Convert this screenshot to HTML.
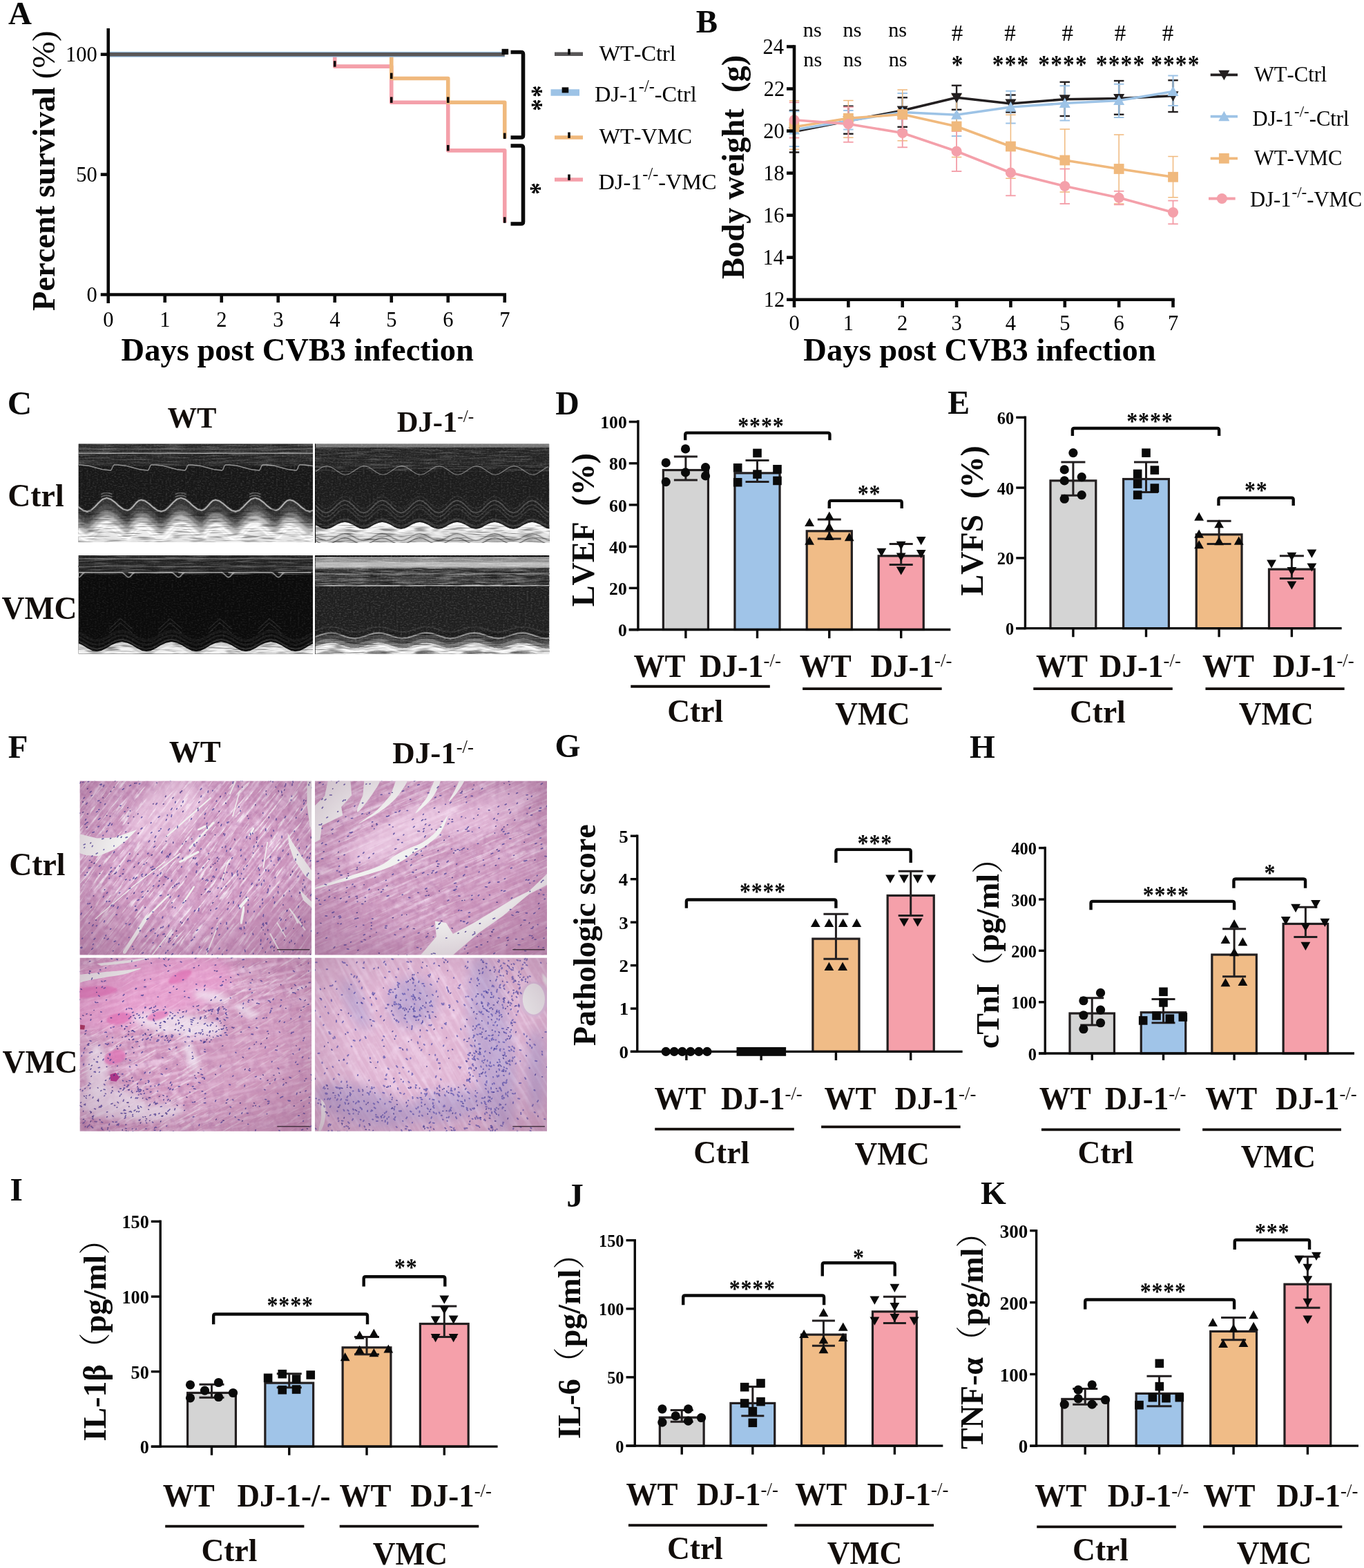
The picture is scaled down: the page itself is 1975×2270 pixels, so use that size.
<!DOCTYPE html>
<html lang="en"><head><meta charset="utf-8"><title>Figure</title>
<style>html,body{margin:0;padding:0;background:#fff}body{width:1975px;height:2270px;overflow:hidden}svg{display:block}</style></head>
<body>
<svg width="1975" height="2270" viewBox="0 0 1975 2270" font-family="'Liberation Serif', 'Noto Serif CJK SC', serif" style="font-kerning:none">
<rect width="1975" height="2270" fill="#fff"/>
<defs>
<filter id="spk" x="0" y="0" width="100%" height="100%" color-interpolation-filters="sRGB">
 <feTurbulence type="fractalNoise" baseFrequency="0.35 0.5" numOctaves="2" seed="3" result="n"/>
 <feColorMatrix in="n" type="matrix" values="0 0 0 0 1  0 0 0 0 1  0 0 0 0 1  1.6 1.6 0 0 -1.45"/>
</filter>
<filter id="strk" x="0" y="0" width="100%" height="100%" color-interpolation-filters="sRGB">
 <feTurbulence type="fractalNoise" baseFrequency="0.03 0.45" numOctaves="2" seed="11" result="n"/>
 <feColorMatrix in="n" type="matrix" values="0 0 0 0 1  0 0 0 0 1  0 0 0 0 1  2.4 2.4 0 0 -2.2"/>
</filter>
<filter id="dstrk" x="0" y="0" width="100%" height="100%" color-interpolation-filters="sRGB">
 <feTurbulence type="fractalNoise" baseFrequency="0.04 0.5" numOctaves="2" seed="5" result="n"/>
 <feColorMatrix in="n" type="matrix" values="0 0 0 0 0  0 0 0 0 0  0 0 0 0 0  2.6 2.6 0 0 -2.5"/>
</filter>
<radialGradient id="vig" cx="0.5" cy="0.45" r="0.75"><stop offset="0.45" stop-color="#7a4a70" stop-opacity="0"/><stop offset="1" stop-color="#7a4a70" stop-opacity="0.38"/></radialGradient>
<filter id="b1" x="-5%" y="-5%" width="110%" height="110%"><feGaussianBlur stdDeviation="0.5"/></filter>
<filter id="b2" x="-5%" y="-5%" width="110%" height="110%"><feGaussianBlur stdDeviation="1.2"/></filter>
<filter id="b3" x="-5%" y="-5%" width="110%" height="110%"><feGaussianBlur stdDeviation="2.5"/></filter>
<filter id="b6" x="-10%" y="-10%" width="120%" height="120%"><feGaussianBlur stdDeviation="6"/></filter>
<filter id="b20" x="-20%" y="-20%" width="140%" height="140%"><feGaussianBlur stdDeviation="20"/></filter>
<filter id="b40" x="-30%" y="-30%" width="160%" height="160%"><feGaussianBlur stdDeviation="40"/></filter>
<filter id="gapn" x="0" y="0" width="100%" height="100%" color-interpolation-filters="sRGB">
 <feTurbulence type="fractalNoise" baseFrequency="0.03 0.35" numOctaves="3" seed="31" result="n"/>
 <feColorMatrix in="n" type="matrix" values="0 0 0 0 0.97  0 0 0 0 0.95  0 0 0 0 0.97  5 5 0 0 -5.45"/>
</filter>
<filter id="tis" x="0" y="0" width="100%" height="100%" color-interpolation-filters="sRGB">
 <feTurbulence type="fractalNoise" baseFrequency="0.09 0.09" numOctaves="3" seed="7" result="n"/>
 <feColorMatrix in="n" type="matrix" values="0 0 0 0 1  0 0 0 0 0.93  0 0 0 0 1  1.9 1.9 0 0 -1.75"/>
</filter>
<filter id="tisd" x="0" y="0" width="100%" height="100%" color-interpolation-filters="sRGB">
 <feTurbulence type="fractalNoise" baseFrequency="0.12 0.12" numOctaves="3" seed="23" result="n"/>
 <feColorMatrix in="n" type="matrix" values="0 0 0 0 0.62  0 0 0 0 0.36  0 0 0 0 0.60  2.0 2.0 0 0 -1.9"/>
</filter>
<filter id="fib" x="0" y="0" width="100%" height="100%" color-interpolation-filters="sRGB">
 <feTurbulence type="fractalNoise" baseFrequency="0.012 0.2" numOctaves="2" seed="17" result="n"/>
 <feColorMatrix in="n" type="matrix" values="0 0 0 0 1  0 0 0 0 0.93  0 0 0 0 1  2.6 2.6 0 0 -2.35"/>
</filter>
</defs>
<text x="12.04" y="35.00" font-size="47.00" font-weight="bold" fill="#0a0a0a">A</text>
<path d="M156.75 78.75 L484.75 78.75 L484.75 96.14 L566.75 96.14 L566.75 148.30 L648.75 148.30 L648.75 217.85 L730.75 217.85 L730.75 322.18" fill="none" stroke="#f4a0aa" stroke-width="5.60" stroke-linejoin="round"/>
<path d="M156.75 78.75 L566.75 78.75 L566.75 113.52 L648.75 113.52 L648.75 148.30 L730.75 148.30 L730.75 200.46" fill="none" stroke="#f0b97d" stroke-width="5.60" stroke-linejoin="round"/>
<line x1="156.75" y1="78.75" x2="730.75" y2="78.75" stroke="#9dc3e6" stroke-width="8.20"/>
<line x1="156.75" y1="78.75" x2="730.75" y2="78.75" stroke="#595758" stroke-width="5.40"/>
<rect x="482.95" y="88.24" width="3.60" height="8.50" fill="#0a0a0a"/>
<rect x="564.95" y="105.62" width="3.60" height="8.50" fill="#0a0a0a"/>
<rect x="564.95" y="140.40" width="3.60" height="8.50" fill="#0a0a0a"/>
<rect x="646.95" y="140.40" width="3.60" height="8.50" fill="#0a0a0a"/>
<rect x="646.95" y="209.95" width="3.60" height="8.50" fill="#0a0a0a"/>
<rect x="728.95" y="192.56" width="3.60" height="8.50" fill="#0a0a0a"/>
<rect x="728.95" y="314.28" width="3.60" height="8.50" fill="#0a0a0a"/>
<rect x="726.55" y="70.80" width="9.60" height="8.20" fill="#0a0a0a"/>
<line x1="156.75" y1="41.00" x2="156.75" y2="439.00" stroke="#0a0a0a" stroke-width="4.60"/>
<line x1="145.75" y1="426.50" x2="733.05" y2="426.50" stroke="#0a0a0a" stroke-width="4.60"/>
<line x1="145.75" y1="252.62" x2="156.75" y2="252.62" stroke="#0a0a0a" stroke-width="4.60"/>
<line x1="145.75" y1="78.75" x2="156.75" y2="78.75" stroke="#0a0a0a" stroke-width="4.60"/>
<line x1="238.75" y1="426.50" x2="238.75" y2="438.00" stroke="#0a0a0a" stroke-width="4.60"/>
<line x1="320.75" y1="426.50" x2="320.75" y2="438.00" stroke="#0a0a0a" stroke-width="4.60"/>
<line x1="402.75" y1="426.50" x2="402.75" y2="438.00" stroke="#0a0a0a" stroke-width="4.60"/>
<line x1="484.75" y1="426.50" x2="484.75" y2="438.00" stroke="#0a0a0a" stroke-width="4.60"/>
<line x1="566.75" y1="426.50" x2="566.75" y2="438.00" stroke="#0a0a0a" stroke-width="4.60"/>
<line x1="648.75" y1="426.50" x2="648.75" y2="438.00" stroke="#0a0a0a" stroke-width="4.60"/>
<line x1="730.75" y1="426.50" x2="730.75" y2="438.00" stroke="#0a0a0a" stroke-width="4.60"/>
<text x="125.41" y="437.10" font-size="30.50" fill="#000">0</text>
<text x="110.16" y="263.23" font-size="30.50" fill="#000">50</text>
<text x="94.91" y="89.35" font-size="30.50" fill="#000">100</text>
<text x="156.75" y="473.00" font-size="30.50" text-anchor="middle" fill="#000">0</text>
<text x="238.75" y="473.00" font-size="30.50" text-anchor="middle" fill="#000">1</text>
<text x="320.75" y="473.00" font-size="30.50" text-anchor="middle" fill="#000">2</text>
<text x="402.75" y="473.00" font-size="30.50" text-anchor="middle" fill="#000">3</text>
<text x="484.75" y="473.00" font-size="30.50" text-anchor="middle" fill="#000">4</text>
<text x="566.75" y="473.00" font-size="30.50" text-anchor="middle" fill="#000">5</text>
<text x="648.75" y="473.00" font-size="30.50" text-anchor="middle" fill="#000">6</text>
<text x="730.75" y="473.00" font-size="30.50" text-anchor="middle" fill="#000">7</text>
<text x="175.58" y="522.30" font-size="46.50" font-weight="bold" fill="#000">Days post CVB3 infection</text>
<text transform="translate(79 450) rotate(-90)" font-size="46.5" font-weight="bold" fill="#0a0a0a">Percent survival <tspan font-weight="normal">(%)</tspan></text>
<path d="M739.50 75.50 H754.50 Q757.50 75.50 757.50 78.50 V196.00 Q757.50 199.00 754.50 199.00 H739.50" fill="none" stroke="#0a0a0a" stroke-width="5.60" />
<path d="M739.50 211.00 H754.50 Q757.50 211.00 757.50 214.00 V321.00 Q757.50 324.00 754.50 324.00 H739.50" fill="none" stroke="#0a0a0a" stroke-width="5.60" />
<text transform="translate(777.00 132.30) rotate(90) scale(1 1.12)" font-size="35.0" font-weight="bold" x="-8.75" y="16.50">*</text>
<text transform="translate(777.00 152.00) rotate(90) scale(1 1.12)" font-size="35.0" font-weight="bold" x="-8.75" y="16.50">*</text>
<text transform="translate(775.30 273.00) rotate(90) scale(1 1.12)" font-size="35.0" font-weight="bold" x="-8.75" y="16.50">*</text>
<line x1="803.00" y1="78.30" x2="844.00" y2="78.30" stroke="#595758" stroke-width="5.60"/>
<rect x="822.20" y="70.80" width="3.60" height="8.40" fill="#0a0a0a"/>
<line x1="797.50" y1="134.00" x2="839.00" y2="134.00" stroke="#9dc3e6" stroke-width="9.60"/>
<rect x="813.65" y="126.40" width="9.60" height="8.00" fill="#0a0a0a"/>
<line x1="803.00" y1="199.00" x2="844.00" y2="199.00" stroke="#f0b97d" stroke-width="5.60"/>
<rect x="822.20" y="191.50" width="3.60" height="8.40" fill="#0a0a0a"/>
<line x1="803.00" y1="260.00" x2="844.00" y2="260.00" stroke="#f4a0aa" stroke-width="5.60"/>
<rect x="822.20" y="252.50" width="3.60" height="8.40" fill="#0a0a0a"/>
<text x="867.47" y="88.00" font-size="32.30" fill="#000">WT-Ctrl</text>
<text x="861.07" y="147.00" font-size="32.30">DJ-1<tspan font-size="24.22" dy="-13.57" dx="1">-/-</tspan><tspan dy="13.57">-Ctrl</tspan></text>
<text x="867.47" y="208.00" font-size="32.30" fill="#000">WT-VMC</text>
<text x="866.57" y="273.70" font-size="32.30">DJ-1<tspan font-size="24.22" dy="-13.57" dx="1">-/-</tspan><tspan dy="13.57">-VMC</tspan></text>
<text x="1007.72" y="47.20" font-size="47.00" font-weight="bold" fill="#0a0a0a">B</text>
<line x1="1150.00" y1="160.00" x2="1150.00" y2="220.50" stroke="#231f20" stroke-width="2.40"/>
<line x1="1142.75" y1="160.00" x2="1157.25" y2="160.00" stroke="#231f20" stroke-width="2.40"/>
<line x1="1142.75" y1="220.50" x2="1157.25" y2="220.50" stroke="#231f20" stroke-width="2.40"/>
<line x1="1228.36" y1="153.75" x2="1228.36" y2="193.75" stroke="#231f20" stroke-width="2.40"/>
<line x1="1221.11" y1="153.75" x2="1235.61" y2="153.75" stroke="#231f20" stroke-width="2.40"/>
<line x1="1221.11" y1="193.75" x2="1235.61" y2="193.75" stroke="#231f20" stroke-width="2.40"/>
<line x1="1306.72" y1="141.25" x2="1306.72" y2="183.75" stroke="#231f20" stroke-width="2.40"/>
<line x1="1299.47" y1="141.25" x2="1313.97" y2="141.25" stroke="#231f20" stroke-width="2.40"/>
<line x1="1299.47" y1="183.75" x2="1313.97" y2="183.75" stroke="#231f20" stroke-width="2.40"/>
<line x1="1385.08" y1="123.75" x2="1385.08" y2="158.75" stroke="#231f20" stroke-width="2.40"/>
<line x1="1377.83" y1="123.75" x2="1392.33" y2="123.75" stroke="#231f20" stroke-width="2.40"/>
<line x1="1377.83" y1="158.75" x2="1392.33" y2="158.75" stroke="#231f20" stroke-width="2.40"/>
<line x1="1463.44" y1="137.50" x2="1463.44" y2="162.50" stroke="#231f20" stroke-width="2.40"/>
<line x1="1456.19" y1="137.50" x2="1470.69" y2="137.50" stroke="#231f20" stroke-width="2.40"/>
<line x1="1456.19" y1="162.50" x2="1470.69" y2="162.50" stroke="#231f20" stroke-width="2.40"/>
<line x1="1541.80" y1="118.75" x2="1541.80" y2="168.00" stroke="#231f20" stroke-width="2.40"/>
<line x1="1534.55" y1="118.75" x2="1549.05" y2="118.75" stroke="#231f20" stroke-width="2.40"/>
<line x1="1534.55" y1="168.00" x2="1549.05" y2="168.00" stroke="#231f20" stroke-width="2.40"/>
<line x1="1620.16" y1="117.00" x2="1620.16" y2="165.75" stroke="#231f20" stroke-width="2.40"/>
<line x1="1612.91" y1="117.00" x2="1627.41" y2="117.00" stroke="#231f20" stroke-width="2.40"/>
<line x1="1612.91" y1="165.75" x2="1627.41" y2="165.75" stroke="#231f20" stroke-width="2.40"/>
<line x1="1698.52" y1="116.25" x2="1698.52" y2="162.00" stroke="#231f20" stroke-width="2.40"/>
<line x1="1691.27" y1="116.25" x2="1705.77" y2="116.25" stroke="#231f20" stroke-width="2.40"/>
<line x1="1691.27" y1="162.00" x2="1705.77" y2="162.00" stroke="#231f20" stroke-width="2.40"/>
<line x1="1150.00" y1="161.25" x2="1150.00" y2="212.00" stroke="#9dc3e6" stroke-width="2.00"/>
<line x1="1142.75" y1="161.25" x2="1157.25" y2="161.25" stroke="#9dc3e6" stroke-width="2.00"/>
<line x1="1142.75" y1="212.00" x2="1157.25" y2="212.00" stroke="#9dc3e6" stroke-width="2.00"/>
<line x1="1228.36" y1="160.00" x2="1228.36" y2="187.50" stroke="#9dc3e6" stroke-width="2.00"/>
<line x1="1221.11" y1="160.00" x2="1235.61" y2="160.00" stroke="#9dc3e6" stroke-width="2.00"/>
<line x1="1221.11" y1="187.50" x2="1235.61" y2="187.50" stroke="#9dc3e6" stroke-width="2.00"/>
<line x1="1306.72" y1="135.00" x2="1306.72" y2="188.75" stroke="#9dc3e6" stroke-width="2.00"/>
<line x1="1299.47" y1="135.00" x2="1313.97" y2="135.00" stroke="#9dc3e6" stroke-width="2.00"/>
<line x1="1299.47" y1="188.75" x2="1313.97" y2="188.75" stroke="#9dc3e6" stroke-width="2.00"/>
<line x1="1385.08" y1="136.25" x2="1385.08" y2="197.00" stroke="#9dc3e6" stroke-width="2.00"/>
<line x1="1377.83" y1="136.25" x2="1392.33" y2="136.25" stroke="#9dc3e6" stroke-width="2.00"/>
<line x1="1377.83" y1="197.00" x2="1392.33" y2="197.00" stroke="#9dc3e6" stroke-width="2.00"/>
<line x1="1463.44" y1="131.75" x2="1463.44" y2="178.50" stroke="#9dc3e6" stroke-width="2.00"/>
<line x1="1456.19" y1="131.75" x2="1470.69" y2="131.75" stroke="#9dc3e6" stroke-width="2.00"/>
<line x1="1456.19" y1="178.50" x2="1470.69" y2="178.50" stroke="#9dc3e6" stroke-width="2.00"/>
<line x1="1541.80" y1="124.25" x2="1541.80" y2="174.50" stroke="#9dc3e6" stroke-width="2.00"/>
<line x1="1534.55" y1="124.25" x2="1549.05" y2="124.25" stroke="#9dc3e6" stroke-width="2.00"/>
<line x1="1534.55" y1="174.50" x2="1549.05" y2="174.50" stroke="#9dc3e6" stroke-width="2.00"/>
<line x1="1620.16" y1="121.75" x2="1620.16" y2="170.00" stroke="#9dc3e6" stroke-width="2.00"/>
<line x1="1612.91" y1="121.75" x2="1627.41" y2="121.75" stroke="#9dc3e6" stroke-width="2.00"/>
<line x1="1612.91" y1="170.00" x2="1627.41" y2="170.00" stroke="#9dc3e6" stroke-width="2.00"/>
<line x1="1698.52" y1="109.50" x2="1698.52" y2="153.00" stroke="#9dc3e6" stroke-width="2.00"/>
<line x1="1691.27" y1="109.50" x2="1705.77" y2="109.50" stroke="#9dc3e6" stroke-width="2.00"/>
<line x1="1691.27" y1="153.00" x2="1705.77" y2="153.00" stroke="#9dc3e6" stroke-width="2.00"/>
<line x1="1150.00" y1="145.75" x2="1150.00" y2="216.25" stroke="#f0b97d" stroke-width="1.50"/>
<line x1="1142.75" y1="145.75" x2="1157.25" y2="145.75" stroke="#f0b97d" stroke-width="1.50"/>
<line x1="1142.75" y1="216.25" x2="1157.25" y2="216.25" stroke="#f0b97d" stroke-width="1.50"/>
<line x1="1228.36" y1="145.50" x2="1228.36" y2="199.25" stroke="#f0b97d" stroke-width="1.50"/>
<line x1="1221.11" y1="145.50" x2="1235.61" y2="145.50" stroke="#f0b97d" stroke-width="1.50"/>
<line x1="1221.11" y1="199.25" x2="1235.61" y2="199.25" stroke="#f0b97d" stroke-width="1.50"/>
<line x1="1306.72" y1="130.00" x2="1306.72" y2="203.75" stroke="#f0b97d" stroke-width="1.50"/>
<line x1="1299.47" y1="130.00" x2="1313.97" y2="130.00" stroke="#f0b97d" stroke-width="1.50"/>
<line x1="1299.47" y1="203.75" x2="1313.97" y2="203.75" stroke="#f0b97d" stroke-width="1.50"/>
<line x1="1385.08" y1="137.50" x2="1385.08" y2="227.50" stroke="#f0b97d" stroke-width="1.50"/>
<line x1="1377.83" y1="137.50" x2="1392.33" y2="137.50" stroke="#f0b97d" stroke-width="1.50"/>
<line x1="1377.83" y1="227.50" x2="1392.33" y2="227.50" stroke="#f0b97d" stroke-width="1.50"/>
<line x1="1463.44" y1="166.25" x2="1463.44" y2="258.25" stroke="#f0b97d" stroke-width="1.50"/>
<line x1="1456.19" y1="166.25" x2="1470.69" y2="166.25" stroke="#f0b97d" stroke-width="1.50"/>
<line x1="1456.19" y1="258.25" x2="1470.69" y2="258.25" stroke="#f0b97d" stroke-width="1.50"/>
<line x1="1541.80" y1="187.00" x2="1541.80" y2="278.00" stroke="#f0b97d" stroke-width="1.50"/>
<line x1="1534.55" y1="187.00" x2="1549.05" y2="187.00" stroke="#f0b97d" stroke-width="1.50"/>
<line x1="1534.55" y1="278.00" x2="1549.05" y2="278.00" stroke="#f0b97d" stroke-width="1.50"/>
<line x1="1620.16" y1="195.00" x2="1620.16" y2="295.00" stroke="#f0b97d" stroke-width="1.50"/>
<line x1="1612.91" y1="195.00" x2="1627.41" y2="195.00" stroke="#f0b97d" stroke-width="1.50"/>
<line x1="1612.91" y1="295.00" x2="1627.41" y2="295.00" stroke="#f0b97d" stroke-width="1.50"/>
<line x1="1698.52" y1="226.50" x2="1698.52" y2="285.75" stroke="#f0b97d" stroke-width="1.50"/>
<line x1="1691.27" y1="226.50" x2="1705.77" y2="226.50" stroke="#f0b97d" stroke-width="1.50"/>
<line x1="1691.27" y1="285.75" x2="1705.77" y2="285.75" stroke="#f0b97d" stroke-width="1.50"/>
<line x1="1150.00" y1="148.25" x2="1150.00" y2="199.50" stroke="#f4a0aa" stroke-width="1.90"/>
<line x1="1142.75" y1="148.25" x2="1157.25" y2="148.25" stroke="#f4a0aa" stroke-width="1.90"/>
<line x1="1142.75" y1="199.50" x2="1157.25" y2="199.50" stroke="#f4a0aa" stroke-width="1.90"/>
<line x1="1228.36" y1="155.00" x2="1228.36" y2="205.75" stroke="#f4a0aa" stroke-width="1.90"/>
<line x1="1221.11" y1="155.00" x2="1235.61" y2="155.00" stroke="#f4a0aa" stroke-width="1.90"/>
<line x1="1221.11" y1="205.75" x2="1235.61" y2="205.75" stroke="#f4a0aa" stroke-width="1.90"/>
<line x1="1306.72" y1="172.50" x2="1306.72" y2="213.25" stroke="#f4a0aa" stroke-width="1.90"/>
<line x1="1299.47" y1="172.50" x2="1313.97" y2="172.50" stroke="#f4a0aa" stroke-width="1.90"/>
<line x1="1299.47" y1="213.25" x2="1313.97" y2="213.25" stroke="#f4a0aa" stroke-width="1.90"/>
<line x1="1385.08" y1="190.00" x2="1385.08" y2="248.00" stroke="#f4a0aa" stroke-width="1.90"/>
<line x1="1377.83" y1="190.00" x2="1392.33" y2="190.00" stroke="#f4a0aa" stroke-width="1.90"/>
<line x1="1377.83" y1="248.00" x2="1392.33" y2="248.00" stroke="#f4a0aa" stroke-width="1.90"/>
<line x1="1463.44" y1="217.50" x2="1463.44" y2="283.25" stroke="#f4a0aa" stroke-width="1.90"/>
<line x1="1456.19" y1="217.50" x2="1470.69" y2="217.50" stroke="#f4a0aa" stroke-width="1.90"/>
<line x1="1456.19" y1="283.25" x2="1470.69" y2="283.25" stroke="#f4a0aa" stroke-width="1.90"/>
<line x1="1541.80" y1="244.50" x2="1541.80" y2="295.00" stroke="#f4a0aa" stroke-width="1.90"/>
<line x1="1534.55" y1="244.50" x2="1549.05" y2="244.50" stroke="#f4a0aa" stroke-width="1.90"/>
<line x1="1534.55" y1="295.00" x2="1549.05" y2="295.00" stroke="#f4a0aa" stroke-width="1.90"/>
<line x1="1620.16" y1="276.75" x2="1620.16" y2="296.25" stroke="#f4a0aa" stroke-width="1.90"/>
<line x1="1612.91" y1="276.75" x2="1627.41" y2="276.75" stroke="#f4a0aa" stroke-width="1.90"/>
<line x1="1612.91" y1="296.25" x2="1627.41" y2="296.25" stroke="#f4a0aa" stroke-width="1.90"/>
<line x1="1698.52" y1="290.50" x2="1698.52" y2="324.25" stroke="#f4a0aa" stroke-width="1.90"/>
<line x1="1691.27" y1="290.50" x2="1705.77" y2="290.50" stroke="#f4a0aa" stroke-width="1.90"/>
<line x1="1691.27" y1="324.25" x2="1705.77" y2="324.25" stroke="#f4a0aa" stroke-width="1.90"/>
<path d="M1150.00 190.50 L1228.36 175.00 L1306.72 160.00 L1385.08 141.25 L1463.44 150.00 L1541.80 143.75 L1620.16 142.50 L1698.52 138.75" fill="none" stroke="#231f20" stroke-width="3.60" stroke-linejoin="round"/>
<path d="M1142.00 183.97 L1158.00 183.97 L1150.00 198.47 Z" fill="#231f20" />
<path d="M1220.36 168.47 L1236.36 168.47 L1228.36 182.97 Z" fill="#231f20" />
<path d="M1298.72 153.47 L1314.72 153.47 L1306.72 167.97 Z" fill="#231f20" />
<path d="M1377.08 134.72 L1393.08 134.72 L1385.08 149.22 Z" fill="#231f20" />
<path d="M1455.44 143.47 L1471.44 143.47 L1463.44 157.97 Z" fill="#231f20" />
<path d="M1533.80 137.22 L1549.80 137.22 L1541.80 151.72 Z" fill="#231f20" />
<path d="M1612.16 135.97 L1628.16 135.97 L1620.16 150.47 Z" fill="#231f20" />
<path d="M1690.52 132.22 L1706.52 132.22 L1698.52 146.72 Z" fill="#231f20" />
<path d="M1150.00 188.00 L1228.36 175.00 L1306.72 162.50 L1385.08 166.25 L1463.44 155.00 L1541.80 149.50 L1620.16 145.50 L1698.52 132.50" fill="none" stroke="#9dc3e6" stroke-width="3.60" stroke-linejoin="round"/>
<path d="M1142.00 194.53 L1158.00 194.53 L1150.00 180.03 Z" fill="#9dc3e6" />
<path d="M1220.36 181.53 L1236.36 181.53 L1228.36 167.03 Z" fill="#9dc3e6" />
<path d="M1298.72 169.03 L1314.72 169.03 L1306.72 154.53 Z" fill="#9dc3e6" />
<path d="M1377.08 172.78 L1393.08 172.78 L1385.08 158.28 Z" fill="#9dc3e6" />
<path d="M1455.44 161.53 L1471.44 161.53 L1463.44 147.03 Z" fill="#9dc3e6" />
<path d="M1533.80 156.03 L1549.80 156.03 L1541.80 141.53 Z" fill="#9dc3e6" />
<path d="M1612.16 152.03 L1628.16 152.03 L1620.16 137.53 Z" fill="#9dc3e6" />
<path d="M1690.52 139.03 L1706.52 139.03 L1698.52 124.53 Z" fill="#9dc3e6" />
<path d="M1150.00 183.75 L1228.36 171.25 L1306.72 165.50 L1385.08 183.00 L1463.44 212.00 L1541.80 232.00 L1620.16 244.50 L1698.52 256.25" fill="none" stroke="#f0b97d" stroke-width="3.60" stroke-linejoin="round"/>
<rect x="1142.60" y="176.35" width="14.80" height="14.80" fill="#f0b97d"/>
<rect x="1220.96" y="163.85" width="14.80" height="14.80" fill="#f0b97d"/>
<rect x="1299.32" y="158.10" width="14.80" height="14.80" fill="#f0b97d"/>
<rect x="1377.68" y="175.60" width="14.80" height="14.80" fill="#f0b97d"/>
<rect x="1456.04" y="204.60" width="14.80" height="14.80" fill="#f0b97d"/>
<rect x="1534.40" y="224.60" width="14.80" height="14.80" fill="#f0b97d"/>
<rect x="1612.76" y="237.10" width="14.80" height="14.80" fill="#f0b97d"/>
<rect x="1691.12" y="248.85" width="14.80" height="14.80" fill="#f0b97d"/>
<path d="M1150.00 173.75 L1228.36 179.50 L1306.72 192.50 L1385.08 219.00 L1463.44 250.00 L1541.80 269.50 L1620.16 286.25 L1698.52 307.50" fill="none" stroke="#f4a0aa" stroke-width="3.60" stroke-linejoin="round"/>
<circle cx="1150.00" cy="173.75" r="7.60" fill="#f4a0aa"/>
<circle cx="1228.36" cy="179.50" r="7.60" fill="#f4a0aa"/>
<circle cx="1306.72" cy="192.50" r="7.60" fill="#f4a0aa"/>
<circle cx="1385.08" cy="219.00" r="7.60" fill="#f4a0aa"/>
<circle cx="1463.44" cy="250.00" r="7.60" fill="#f4a0aa"/>
<circle cx="1541.80" cy="269.50" r="7.60" fill="#f4a0aa"/>
<circle cx="1620.16" cy="286.25" r="7.60" fill="#f4a0aa"/>
<circle cx="1698.52" cy="307.50" r="7.60" fill="#f4a0aa"/>
<line x1="1150.00" y1="65.20" x2="1150.00" y2="445.00" stroke="#0a0a0a" stroke-width="4.60"/>
<line x1="1139.00" y1="433.75" x2="1700.82" y2="433.75" stroke="#0a0a0a" stroke-width="4.60"/>
<line x1="1139.00" y1="372.71" x2="1150.00" y2="372.71" stroke="#0a0a0a" stroke-width="4.60"/>
<line x1="1139.00" y1="311.67" x2="1150.00" y2="311.67" stroke="#0a0a0a" stroke-width="4.60"/>
<line x1="1139.00" y1="250.62" x2="1150.00" y2="250.62" stroke="#0a0a0a" stroke-width="4.60"/>
<line x1="1139.00" y1="189.58" x2="1150.00" y2="189.58" stroke="#0a0a0a" stroke-width="4.60"/>
<line x1="1139.00" y1="128.54" x2="1150.00" y2="128.54" stroke="#0a0a0a" stroke-width="4.60"/>
<line x1="1139.00" y1="67.50" x2="1150.00" y2="67.50" stroke="#0a0a0a" stroke-width="4.60"/>
<line x1="1228.36" y1="433.75" x2="1228.36" y2="445.00" stroke="#0a0a0a" stroke-width="4.60"/>
<line x1="1306.72" y1="433.75" x2="1306.72" y2="445.00" stroke="#0a0a0a" stroke-width="4.60"/>
<line x1="1385.08" y1="433.75" x2="1385.08" y2="445.00" stroke="#0a0a0a" stroke-width="4.60"/>
<line x1="1463.44" y1="433.75" x2="1463.44" y2="445.00" stroke="#0a0a0a" stroke-width="4.60"/>
<line x1="1541.80" y1="433.75" x2="1541.80" y2="445.00" stroke="#0a0a0a" stroke-width="4.60"/>
<line x1="1620.16" y1="433.75" x2="1620.16" y2="445.00" stroke="#0a0a0a" stroke-width="4.60"/>
<line x1="1698.52" y1="433.75" x2="1698.52" y2="445.00" stroke="#0a0a0a" stroke-width="4.60"/>
<text x="1105.68" y="444.15" font-size="30.50" fill="#000">12</text>
<text x="1104.48" y="383.11" font-size="30.50" fill="#000">14</text>
<text x="1104.91" y="322.07" font-size="30.50" fill="#000">16</text>
<text x="1105.16" y="261.02" font-size="30.50" fill="#000">18</text>
<text x="1105.16" y="199.98" font-size="30.50" fill="#000">20</text>
<text x="1105.68" y="138.94" font-size="30.50" fill="#000">22</text>
<text x="1104.48" y="77.90" font-size="30.50" fill="#000">24</text>
<text x="1150.00" y="477.60" font-size="30.50" text-anchor="middle" fill="#000">0</text>
<text x="1228.36" y="477.60" font-size="30.50" text-anchor="middle" fill="#000">1</text>
<text x="1306.72" y="477.60" font-size="30.50" text-anchor="middle" fill="#000">2</text>
<text x="1385.08" y="477.60" font-size="30.50" text-anchor="middle" fill="#000">3</text>
<text x="1463.44" y="477.60" font-size="30.50" text-anchor="middle" fill="#000">4</text>
<text x="1541.80" y="477.60" font-size="30.50" text-anchor="middle" fill="#000">5</text>
<text x="1620.16" y="477.60" font-size="30.50" text-anchor="middle" fill="#000">6</text>
<text x="1698.52" y="477.60" font-size="30.50" text-anchor="middle" fill="#000">7</text>
<text x="1163.33" y="522.30" font-size="46.50" font-weight="bold" fill="#000">Days post CVB3 infection</text>
<text transform="translate(1077 404) rotate(-90)" font-size="46.5" font-weight="bold" fill="#0a0a0a" xml:space="preserve">Body weight  (g)</text>
<text x="1176.30" y="53.00" font-size="30.30" text-anchor="middle" fill="#000">ns</text>
<text x="1176.80" y="96.00" font-size="30.30" text-anchor="middle" fill="#000">ns</text>
<text x="1234.00" y="53.00" font-size="30.30" text-anchor="middle" fill="#000">ns</text>
<text x="1234.50" y="96.00" font-size="30.30" text-anchor="middle" fill="#000">ns</text>
<text x="1299.70" y="53.00" font-size="30.30" text-anchor="middle" fill="#000">ns</text>
<text x="1300.20" y="96.00" font-size="30.30" text-anchor="middle" fill="#000">ns</text>
<text x="1386.00" y="59.00" font-size="33.00" text-anchor="middle" fill="#000">#</text>
<text x="1462.50" y="59.00" font-size="33.00" text-anchor="middle" fill="#000">#</text>
<text x="1545.70" y="59.00" font-size="33.00" text-anchor="middle" fill="#000">#</text>
<text x="1622.00" y="59.00" font-size="33.00" text-anchor="middle" fill="#000">#</text>
<text x="1691.00" y="59.00" font-size="33.00" text-anchor="middle" fill="#000">#</text>
<text transform="translate(1386.00 87.80) scale(1 1.150)" x="-8.38" y="15.80" font-size="33.5" font-weight="bold" letter-spacing="1.11" fill="#0a0a0a">*</text>
<text transform="translate(1463.00 87.80) scale(1 1.150)" x="-26.23" y="15.80" font-size="33.5" font-weight="bold" letter-spacing="1.11" fill="#0a0a0a">***</text>
<text transform="translate(1538.50 87.80) scale(1 1.150)" x="-35.16" y="15.80" font-size="33.5" font-weight="bold" letter-spacing="1.11" fill="#0a0a0a">****</text>
<text transform="translate(1622.00 87.80) scale(1 1.150)" x="-35.16" y="15.80" font-size="33.5" font-weight="bold" letter-spacing="1.11" fill="#0a0a0a">****</text>
<text transform="translate(1701.30 87.80) scale(1 1.150)" x="-35.16" y="15.80" font-size="33.5" font-weight="bold" letter-spacing="1.11" fill="#0a0a0a">****</text>
<line x1="1752.70" y1="108.30" x2="1792.00" y2="108.30" stroke="#231f20" stroke-width="3.80"/>
<path d="M1764.35 101.77 L1780.35 101.77 L1772.35 116.27 Z" fill="#231f20" />
<line x1="1752.70" y1="168.70" x2="1792.00" y2="168.70" stroke="#9dc3e6" stroke-width="3.80"/>
<path d="M1764.35 175.22 L1780.35 175.22 L1772.35 160.72 Z" fill="#9dc3e6" />
<line x1="1752.70" y1="229.30" x2="1792.00" y2="229.30" stroke="#f0b97d" stroke-width="3.80"/>
<rect x="1764.95" y="221.90" width="14.80" height="14.80" fill="#f0b97d"/>
<line x1="1750.00" y1="287.50" x2="1788.70" y2="287.50" stroke="#f4a0aa" stroke-width="3.80"/>
<circle cx="1769.35" cy="287.50" r="7.60" fill="#f4a0aa"/>
<text x="1815.97" y="118.00" font-size="30.60" fill="#000">WT-Ctrl</text>
<text x="1813.62" y="182.00" font-size="30.60">DJ-1<tspan font-size="22.95" dy="-12.85" dx="1">-/-</tspan><tspan dy="12.85">-Ctrl</tspan></text>
<text x="1815.97" y="238.70" font-size="30.60" fill="#000">WT-VMC</text>
<text x="1810.12" y="299.30" font-size="30.60">DJ-1<tspan font-size="22.95" dy="-12.85" dx="1">-/-</tspan><tspan dy="12.85">-VMC</tspan></text>
<text x="804.36" y="599.60" font-size="47.80" font-weight="bold" fill="#0a0a0a">D</text>
<rect x="960.34" y="680.54" width="65.10" height="230.93" fill="#d4d4d4" stroke="#231f20" stroke-width="3.20"/>
<rect x="1063.94" y="684.87" width="65.10" height="226.60" fill="#a0c4e8" stroke="#231f20" stroke-width="3.20"/>
<rect x="1168.22" y="768.82" width="65.10" height="142.65" fill="#f0bc87" stroke="#231f20" stroke-width="3.20"/>
<rect x="1272.16" y="804.80" width="65.10" height="106.67" fill="#f5a0aa" stroke="#231f20" stroke-width="3.20"/>
<line x1="992.89" y1="660.95" x2="992.89" y2="694.93" stroke="#231f20" stroke-width="3.00"/>
<line x1="975.89" y1="660.95" x2="1009.89" y2="660.95" stroke="#231f20" stroke-width="3.00"/>
<line x1="975.89" y1="694.93" x2="1009.89" y2="694.93" stroke="#231f20" stroke-width="3.00"/>
<line x1="1096.49" y1="666.61" x2="1096.49" y2="697.59" stroke="#231f20" stroke-width="3.00"/>
<line x1="1079.49" y1="666.61" x2="1113.49" y2="666.61" stroke="#231f20" stroke-width="3.00"/>
<line x1="1079.49" y1="697.59" x2="1113.49" y2="697.59" stroke="#231f20" stroke-width="3.00"/>
<line x1="1200.77" y1="751.90" x2="1200.77" y2="779.88" stroke="#231f20" stroke-width="3.00"/>
<line x1="1183.77" y1="751.90" x2="1217.77" y2="751.90" stroke="#231f20" stroke-width="3.00"/>
<line x1="1183.77" y1="779.88" x2="1217.77" y2="779.88" stroke="#231f20" stroke-width="3.00"/>
<line x1="1304.71" y1="787.54" x2="1304.71" y2="817.53" stroke="#231f20" stroke-width="3.00"/>
<line x1="1287.71" y1="787.54" x2="1321.71" y2="787.54" stroke="#231f20" stroke-width="3.00"/>
<line x1="1287.71" y1="817.53" x2="1321.71" y2="817.53" stroke="#231f20" stroke-width="3.00"/>
<line x1="923.92" y1="608.28" x2="923.92" y2="913.17" stroke="#0a0a0a" stroke-width="3.40"/>
<line x1="910.72" y1="911.47" x2="1376.33" y2="911.47" stroke="#0a0a0a" stroke-width="3.40"/>
<line x1="910.72" y1="610.64" x2="923.92" y2="610.64" stroke="#0a0a0a" stroke-width="3.40"/>
<text transform="translate(906.72 620.32) scale(0.985 1)" x="-38.01" y="0" font-size="26.00" font-weight="bold" fill="#000">100</text>
<line x1="910.72" y1="670.78" x2="923.92" y2="670.78" stroke="#0a0a0a" stroke-width="3.40"/>
<text transform="translate(906.72 680.45) scale(0.985 1)" x="-25.01" y="0" font-size="26.00" font-weight="bold" fill="#000">80</text>
<line x1="910.72" y1="730.91" x2="923.92" y2="730.91" stroke="#0a0a0a" stroke-width="3.40"/>
<text transform="translate(906.72 740.58) scale(0.985 1)" x="-25.01" y="0" font-size="26.00" font-weight="bold" fill="#000">60</text>
<line x1="910.72" y1="791.21" x2="923.92" y2="791.21" stroke="#0a0a0a" stroke-width="3.40"/>
<text transform="translate(906.72 800.88) scale(0.985 1)" x="-25.01" y="0" font-size="26.00" font-weight="bold" fill="#000">40</text>
<line x1="910.72" y1="851.34" x2="923.92" y2="851.34" stroke="#0a0a0a" stroke-width="3.40"/>
<text transform="translate(906.72 861.02) scale(0.985 1)" x="-25.01" y="0" font-size="26.00" font-weight="bold" fill="#000">20</text>
<line x1="910.72" y1="911.64" x2="923.92" y2="911.64" stroke="#0a0a0a" stroke-width="3.40"/>
<text transform="translate(906.72 921.31) scale(0.985 1)" x="-12.01" y="0" font-size="26.00" font-weight="bold" fill="#000">0</text>
<line x1="992.89" y1="911.47" x2="992.89" y2="924.07" stroke="#0a0a0a" stroke-width="3.40"/>
<line x1="1096.49" y1="911.47" x2="1096.49" y2="924.07" stroke="#0a0a0a" stroke-width="3.40"/>
<line x1="1200.77" y1="911.47" x2="1200.77" y2="924.07" stroke="#0a0a0a" stroke-width="3.40"/>
<line x1="1304.71" y1="911.47" x2="1304.71" y2="924.07" stroke="#0a0a0a" stroke-width="3.40"/>
<circle cx="964.23" cy="669.94" r="6.6" fill="#0a0a0a"/>
<circle cx="992.55" cy="649.95" r="6.6" fill="#0a0a0a"/>
<circle cx="1021.54" cy="676.61" r="6.6" fill="#0a0a0a"/>
<circle cx="992.55" cy="683.94" r="6.6" fill="#0a0a0a"/>
<circle cx="1021.54" cy="688.93" r="6.6" fill="#0a0a0a"/>
<circle cx="964.23" cy="697.59" r="6.6" fill="#0a0a0a"/>
<rect x="1061.88" y="670.97" width="12.60" height="12.60" fill="#0a0a0a"/>
<rect x="1090.19" y="649.65" width="12.60" height="12.60" fill="#0a0a0a"/>
<rect x="1119.18" y="672.97" width="12.60" height="12.60" fill="#0a0a0a"/>
<rect x="1090.19" y="680.30" width="12.60" height="12.60" fill="#0a0a0a"/>
<rect x="1061.88" y="691.96" width="12.60" height="12.60" fill="#0a0a0a"/>
<rect x="1119.18" y="689.63" width="12.60" height="12.60" fill="#0a0a0a"/>
<path d="M1165.22 761.99 L1179.02 761.99 L1172.12 749.79 Z" fill="#0a0a0a" />
<path d="M1193.87 752.67 L1207.67 752.67 L1200.77 740.47 Z" fill="#0a0a0a" />
<path d="M1193.87 768.32 L1207.67 768.32 L1200.77 756.12 Z" fill="#0a0a0a" />
<path d="M1193.87 781.98 L1207.67 781.98 L1200.77 769.78 Z" fill="#0a0a0a" />
<path d="M1165.22 788.65 L1179.02 788.65 L1172.12 776.45 Z" fill="#0a0a0a" />
<path d="M1222.85 783.32 L1236.65 783.32 L1229.75 771.12 Z" fill="#0a0a0a" />
<path d="M1269.49 793.77 L1283.29 793.77 L1276.39 805.97 Z" fill="#0a0a0a" />
<path d="M1297.81 783.78 L1311.61 783.78 L1304.71 795.98 Z" fill="#0a0a0a" />
<path d="M1326.79 777.11 L1340.59 777.11 L1333.69 789.31 Z" fill="#0a0a0a" />
<path d="M1326.79 796.10 L1340.59 796.10 L1333.69 808.30 Z" fill="#0a0a0a" />
<path d="M1297.81 800.43 L1311.61 800.43 L1304.71 812.63 Z" fill="#0a0a0a" />
<path d="M1297.81 820.42 L1311.61 820.42 L1304.71 832.62 Z" fill="#0a0a0a" />
<path d="M992.22 637.30 V629.23 Q992.22 626.63 994.82 626.63 H1198.83 Q1201.43 626.63 1201.43 629.23 V637.30" fill="none" stroke="#0a0a0a" stroke-width="4.40" />
<text transform="translate(1101.49 611.64) scale(1 1.150)" x="-33.20" y="15.09" font-size="32.0" font-weight="bold" letter-spacing="0.80" fill="#0a0a0a">****</text>
<path d="M1200.77 735.91 V727.51 Q1200.77 724.91 1203.37 724.91 H1303.11 Q1305.71 724.91 1305.71 727.51 V735.91" fill="none" stroke="#0a0a0a" stroke-width="4.40" />
<text transform="translate(1258.07 709.25) scale(1 1.150)" x="-16.40" y="15.09" font-size="32.0" font-weight="bold" letter-spacing="0.80" fill="#0a0a0a">**</text>
<text x="917.42" y="979.60" font-size="45.00" font-weight="bold" fill="#120d0a" transform="translate(0 979.60) scale(1 1.035) translate(0 -979.60)">WT</text>
<text x="1157.78" y="979.60" font-size="45.00" font-weight="bold" fill="#120d0a" transform="translate(0 979.60) scale(1 1.035) translate(0 -979.60)">WT</text>
<text x="1013.08" y="979.60" font-size="45.00" font-weight="bold" fill="#120d0a" transform="translate(0 979.60) scale(1 1.035) translate(0 -979.60)">DJ-1<tspan font-size="26.77" font-weight="normal" dy="-13.83" dx="0.00">-/-</tspan></text>
<text x="1260.61" y="979.60" font-size="45.00" font-weight="bold" fill="#120d0a" transform="translate(0 979.60) scale(1 1.035) translate(0 -979.60)">DJ-1<tspan font-size="26.77" font-weight="normal" dy="-13.83" dx="0.00">-/-</tspan></text>
<line x1="913.26" y1="993.76" x2="1114.82" y2="993.76" stroke="#120d0a" stroke-width="3.80"/>
<line x1="1162.12" y1="997.09" x2="1363.67" y2="997.09" stroke="#120d0a" stroke-width="3.80"/>
<text x="966.23" y="1045.43" font-size="45.50" font-weight="bold" fill="#120d0a">Ctrl</text>
<text x="1209.16" y="1048.76" font-size="45.40" font-weight="bold" fill="#120d0a">VMC</text>
<text transform="translate(859.96 878.16) rotate(-90)" font-size="46.0" font-weight="bold" fill="#0a0a0a" xml:space="preserve">LVEF  (%)</text>
<text x="1372.17" y="599.40" font-size="47.80" font-weight="bold" fill="#0a0a0a">E</text>
<rect x="1521.00" y="695.86" width="65.80" height="213.78" fill="#d4d4d4" stroke="#231f20" stroke-width="3.20"/>
<rect x="1626.61" y="693.53" width="65.80" height="216.11" fill="#a0c4e8" stroke="#231f20" stroke-width="3.20"/>
<rect x="1732.21" y="773.82" width="65.80" height="135.82" fill="#f0bc87" stroke="#231f20" stroke-width="3.20"/>
<rect x="1837.49" y="824.12" width="65.80" height="85.52" fill="#f5a0aa" stroke="#231f20" stroke-width="3.20"/>
<line x1="1553.90" y1="668.94" x2="1553.90" y2="717.25" stroke="#231f20" stroke-width="3.00"/>
<line x1="1536.40" y1="668.94" x2="1571.40" y2="668.94" stroke="#231f20" stroke-width="3.00"/>
<line x1="1536.40" y1="717.25" x2="1571.40" y2="717.25" stroke="#231f20" stroke-width="3.00"/>
<line x1="1659.51" y1="668.94" x2="1659.51" y2="712.59" stroke="#231f20" stroke-width="3.00"/>
<line x1="1642.01" y1="668.94" x2="1677.01" y2="668.94" stroke="#231f20" stroke-width="3.00"/>
<line x1="1642.01" y1="712.59" x2="1677.01" y2="712.59" stroke="#231f20" stroke-width="3.00"/>
<line x1="1765.11" y1="754.23" x2="1765.11" y2="787.54" stroke="#231f20" stroke-width="3.00"/>
<line x1="1747.61" y1="754.23" x2="1782.61" y2="754.23" stroke="#231f20" stroke-width="3.00"/>
<line x1="1747.61" y1="787.54" x2="1782.61" y2="787.54" stroke="#231f20" stroke-width="3.00"/>
<line x1="1870.39" y1="804.87" x2="1870.39" y2="837.52" stroke="#231f20" stroke-width="3.00"/>
<line x1="1852.89" y1="804.87" x2="1887.89" y2="804.87" stroke="#231f20" stroke-width="3.00"/>
<line x1="1852.89" y1="837.52" x2="1887.89" y2="837.52" stroke="#231f20" stroke-width="3.00"/>
<line x1="1484.44" y1="602.61" x2="1484.44" y2="911.34" stroke="#0a0a0a" stroke-width="3.40"/>
<line x1="1471.24" y1="909.64" x2="1942.68" y2="909.64" stroke="#0a0a0a" stroke-width="3.40"/>
<line x1="1471.24" y1="604.31" x2="1484.44" y2="604.31" stroke="#0a0a0a" stroke-width="3.40"/>
<text transform="translate(1467.24 613.85) scale(0.950 1)" x="-24.62" y="0" font-size="25.60" font-weight="bold" fill="#000">60</text>
<line x1="1471.24" y1="706.09" x2="1484.44" y2="706.09" stroke="#0a0a0a" stroke-width="3.40"/>
<text transform="translate(1467.24 715.63) scale(0.950 1)" x="-24.62" y="0" font-size="25.60" font-weight="bold" fill="#000">40</text>
<line x1="1471.24" y1="807.87" x2="1484.44" y2="807.87" stroke="#0a0a0a" stroke-width="3.40"/>
<text transform="translate(1467.24 817.41) scale(0.950 1)" x="-24.62" y="0" font-size="25.60" font-weight="bold" fill="#000">20</text>
<line x1="1471.24" y1="909.64" x2="1484.44" y2="909.64" stroke="#0a0a0a" stroke-width="3.40"/>
<text transform="translate(1467.24 919.18) scale(0.950 1)" x="-11.83" y="0" font-size="25.60" font-weight="bold" fill="#000">0</text>
<line x1="1553.90" y1="909.64" x2="1553.90" y2="922.24" stroke="#0a0a0a" stroke-width="3.40"/>
<line x1="1659.51" y1="909.64" x2="1659.51" y2="922.24" stroke="#0a0a0a" stroke-width="3.40"/>
<line x1="1765.11" y1="909.64" x2="1765.11" y2="922.24" stroke="#0a0a0a" stroke-width="3.40"/>
<line x1="1870.39" y1="909.64" x2="1870.39" y2="922.24" stroke="#0a0a0a" stroke-width="3.40"/>
<circle cx="1553.90" cy="655.62" r="6.6" fill="#0a0a0a"/>
<circle cx="1541.24" cy="679.94" r="6.6" fill="#0a0a0a"/>
<circle cx="1566.23" cy="690.60" r="6.6" fill="#0a0a0a"/>
<circle cx="1541.24" cy="695.93" r="6.6" fill="#0a0a0a"/>
<circle cx="1566.23" cy="716.58" r="6.6" fill="#0a0a0a"/>
<circle cx="1541.24" cy="722.25" r="6.6" fill="#0a0a0a"/>
<rect x="1653.21" y="649.32" width="12.60" height="12.60" fill="#0a0a0a"/>
<rect x="1640.88" y="679.63" width="12.60" height="12.60" fill="#0a0a0a"/>
<rect x="1665.53" y="674.30" width="12.60" height="12.60" fill="#0a0a0a"/>
<rect x="1640.88" y="694.29" width="12.60" height="12.60" fill="#0a0a0a"/>
<rect x="1665.53" y="700.29" width="12.60" height="12.60" fill="#0a0a0a"/>
<rect x="1640.88" y="710.28" width="12.60" height="12.60" fill="#0a0a0a"/>
<path d="M1729.23 753.67 L1743.03 753.67 L1736.13 741.47 Z" fill="#0a0a0a" />
<path d="M1758.21 764.33 L1772.01 764.33 L1765.11 752.13 Z" fill="#0a0a0a" />
<path d="M1729.23 778.65 L1743.03 778.65 L1736.13 766.45 Z" fill="#0a0a0a" />
<path d="M1729.23 794.31 L1743.03 794.31 L1736.13 782.11 Z" fill="#0a0a0a" />
<path d="M1758.21 789.31 L1772.01 789.31 L1765.11 777.11 Z" fill="#0a0a0a" />
<path d="M1786.86 788.65 L1800.66 788.65 L1793.76 776.45 Z" fill="#0a0a0a" />
<path d="M1834.17 810.43 L1847.97 810.43 L1841.07 822.63 Z" fill="#0a0a0a" />
<path d="M1863.49 799.77 L1877.29 799.77 L1870.39 811.97 Z" fill="#0a0a0a" />
<path d="M1892.47 795.44 L1906.27 795.44 L1899.37 807.64 Z" fill="#0a0a0a" />
<path d="M1892.47 815.42 L1906.27 815.42 L1899.37 827.62 Z" fill="#0a0a0a" />
<path d="M1863.49 821.09 L1877.29 821.09 L1870.39 833.29 Z" fill="#0a0a0a" />
<path d="M1863.49 841.41 L1877.29 841.41 L1870.39 853.61 Z" fill="#0a0a0a" />
<path d="M1552.90 630.97 V622.57 Q1552.90 619.97 1555.50 619.97 H1762.51 Q1765.11 619.97 1765.11 622.57 V630.97" fill="none" stroke="#0a0a0a" stroke-width="4.40" />
<text transform="translate(1664.50 604.98) scale(1 1.150)" x="-33.20" y="15.09" font-size="32.0" font-weight="bold" letter-spacing="0.80" fill="#0a0a0a">****</text>
<path d="M1764.45 731.91 V723.18 Q1764.45 720.58 1767.05 720.58 H1870.12 Q1872.72 720.58 1872.72 723.18 V731.91" fill="none" stroke="#0a0a0a" stroke-width="4.40" />
<text transform="translate(1818.42 704.92) scale(1 1.150)" x="-16.40" y="15.09" font-size="32.0" font-weight="bold" letter-spacing="0.80" fill="#0a0a0a">**</text>
<text x="1500.09" y="979.60" font-size="45.00" font-weight="bold" fill="#120d0a" transform="translate(0 979.60) scale(1 1.035) translate(0 -979.60)">WT</text>
<text x="1740.95" y="979.60" font-size="45.00" font-weight="bold" fill="#120d0a" transform="translate(0 979.60) scale(1 1.035) translate(0 -979.60)">WT</text>
<text x="1592.09" y="979.60" font-size="45.00" font-weight="bold" fill="#120d0a" transform="translate(0 979.60) scale(1 1.035) translate(0 -979.60)">DJ-1<tspan font-size="26.77" font-weight="normal" dy="-13.83" dx="0.00">-/-</tspan></text>
<text x="1842.95" y="979.60" font-size="45.00" font-weight="bold" fill="#120d0a" transform="translate(0 979.60) scale(1 1.035) translate(0 -979.60)">DJ-1<tspan font-size="26.77" font-weight="normal" dy="-13.83" dx="0.00">-/-</tspan></text>
<line x1="1496.27" y1="997.09" x2="1697.82" y2="997.09" stroke="#120d0a" stroke-width="3.80"/>
<line x1="1745.46" y1="997.09" x2="1946.68" y2="997.09" stroke="#120d0a" stroke-width="3.80"/>
<text x="1548.90" y="1046.43" font-size="45.50" font-weight="bold" fill="#120d0a">Ctrl</text>
<text x="1793.66" y="1048.76" font-size="45.40" font-weight="bold" fill="#120d0a">VMC</text>
<text transform="translate(1422.97 862.50) rotate(-90)" font-size="46.0" font-weight="bold" fill="#0a0a0a" xml:space="preserve">LVFS  (%)</text>
<text x="803.38" y="1096.20" font-size="47.50" font-weight="bold" fill="#0a0a0a">G</text>
<rect x="1176.88" y="1359.09" width="67.10" height="163.31" fill="#f0bc87" stroke="#231f20" stroke-width="3.20"/>
<rect x="1285.15" y="1296.46" width="67.10" height="225.94" fill="#f5a0aa" stroke="#231f20" stroke-width="3.20"/>
<line x1="1210.43" y1="1323.18" x2="1210.43" y2="1388.14" stroke="#231f20" stroke-width="3.00"/>
<line x1="1192.43" y1="1323.18" x2="1228.43" y2="1323.18" stroke="#231f20" stroke-width="3.00"/>
<line x1="1192.43" y1="1388.14" x2="1228.43" y2="1388.14" stroke="#231f20" stroke-width="3.00"/>
<line x1="1318.70" y1="1261.21" x2="1318.70" y2="1325.51" stroke="#231f20" stroke-width="3.00"/>
<line x1="1300.70" y1="1261.21" x2="1336.70" y2="1261.21" stroke="#231f20" stroke-width="3.00"/>
<line x1="1300.70" y1="1325.51" x2="1336.70" y2="1325.51" stroke="#231f20" stroke-width="3.00"/>
<line x1="922.76" y1="1208.54" x2="922.76" y2="1524.10" stroke="#0a0a0a" stroke-width="3.40"/>
<line x1="912.86" y1="1522.40" x2="1393.66" y2="1522.40" stroke="#0a0a0a" stroke-width="3.40"/>
<line x1="912.86" y1="1210.24" x2="922.76" y2="1210.24" stroke="#0a0a0a" stroke-width="3.40"/>
<text transform="translate(908.86 1219.58) scale(1.080 1)" x="-11.58" y="0" font-size="25.00" font-weight="bold" fill="#000">5</text>
<line x1="912.86" y1="1272.71" x2="922.76" y2="1272.71" stroke="#0a0a0a" stroke-width="3.40"/>
<text transform="translate(908.86 1282.04) scale(1.080 1)" x="-12.04" y="0" font-size="25.00" font-weight="bold" fill="#000">4</text>
<line x1="912.86" y1="1335.17" x2="922.76" y2="1335.17" stroke="#0a0a0a" stroke-width="3.40"/>
<text transform="translate(908.86 1344.51) scale(1.080 1)" x="-11.65" y="0" font-size="25.00" font-weight="bold" fill="#000">3</text>
<line x1="912.86" y1="1397.64" x2="922.76" y2="1397.64" stroke="#0a0a0a" stroke-width="3.40"/>
<text transform="translate(908.86 1406.97) scale(1.080 1)" x="-11.43" y="0" font-size="25.00" font-weight="bold" fill="#000">2</text>
<line x1="912.86" y1="1460.10" x2="922.76" y2="1460.10" stroke="#0a0a0a" stroke-width="3.40"/>
<text transform="translate(908.86 1469.44) scale(1.080 1)" x="-11.21" y="0" font-size="25.00" font-weight="bold" fill="#000">1</text>
<line x1="912.86" y1="1522.40" x2="922.76" y2="1522.40" stroke="#0a0a0a" stroke-width="3.40"/>
<text transform="translate(908.86 1531.74) scale(1.080 1)" x="-11.55" y="0" font-size="25.00" font-weight="bold" fill="#000">0</text>
<line x1="993.88" y1="1522.40" x2="993.88" y2="1535.00" stroke="#0a0a0a" stroke-width="3.40"/>
<line x1="1102.16" y1="1522.40" x2="1102.16" y2="1535.00" stroke="#0a0a0a" stroke-width="3.40"/>
<line x1="1210.43" y1="1522.40" x2="1210.43" y2="1535.00" stroke="#0a0a0a" stroke-width="3.40"/>
<line x1="1318.70" y1="1522.40" x2="1318.70" y2="1535.00" stroke="#0a0a0a" stroke-width="3.40"/>
<circle cx="964.23" cy="1522.40" r="6.6" fill="#0a0a0a"/>
<circle cx="976.23" cy="1522.40" r="6.6" fill="#0a0a0a"/>
<circle cx="987.89" cy="1522.40" r="6.6" fill="#0a0a0a"/>
<circle cx="999.88" cy="1522.40" r="6.6" fill="#0a0a0a"/>
<circle cx="1011.87" cy="1522.40" r="6.6" fill="#0a0a0a"/>
<circle cx="1023.87" cy="1522.40" r="6.6" fill="#0a0a0a"/>
<path d="M1173.88 1341.94 L1187.68 1341.94 L1180.78 1329.74 Z" fill="#0a0a0a" />
<path d="M1193.53 1341.94 L1207.33 1341.94 L1200.43 1329.74 Z" fill="#0a0a0a" />
<path d="M1213.86 1341.94 L1227.66 1341.94 L1220.76 1329.74 Z" fill="#0a0a0a" />
<path d="M1233.51 1341.94 L1247.31 1341.94 L1240.41 1329.74 Z" fill="#0a0a0a" />
<path d="M1193.53 1404.90 L1207.33 1404.90 L1200.43 1392.70 Z" fill="#0a0a0a" />
<path d="M1213.19 1404.90 L1226.99 1404.90 L1220.09 1392.70 Z" fill="#0a0a0a" />
<path d="M1282.15 1266.44 L1295.95 1266.44 L1289.05 1278.64 Z" fill="#0a0a0a" />
<path d="M1302.14 1266.44 L1315.94 1266.44 L1309.04 1278.64 Z" fill="#0a0a0a" />
<path d="M1321.79 1266.44 L1335.59 1266.44 L1328.69 1278.64 Z" fill="#0a0a0a" />
<path d="M1341.45 1266.44 L1355.25 1266.44 L1348.35 1278.64 Z" fill="#0a0a0a" />
<path d="M1302.14 1329.40 L1315.94 1329.40 L1309.04 1341.60 Z" fill="#0a0a0a" />
<path d="M1321.79 1329.40 L1335.59 1329.40 L1328.69 1341.60 Z" fill="#0a0a0a" />
<rect x="1066.51" y="1516.00" width="71.63" height="12.80" fill="#0a0a0a"/>
<path d="M993.88 1314.85 V1305.12 Q993.88 1302.52 996.48 1302.52 H1207.83 Q1210.43 1302.52 1210.43 1305.12 V1314.85" fill="none" stroke="#0a0a0a" stroke-width="4.40" />
<text transform="translate(1104.16 1285.87) scale(1 1.150)" x="-33.20" y="15.09" font-size="32.0" font-weight="bold" letter-spacing="0.80" fill="#0a0a0a">****</text>
<path d="M1210.43 1248.89 V1232.50 Q1210.43 1229.90 1213.03 1229.90 H1316.10 Q1318.70 1229.90 1318.70 1232.50 V1248.89" fill="none" stroke="#0a0a0a" stroke-width="4.40" />
<text transform="translate(1266.40 1215.57) scale(1 1.150)" x="-24.80" y="15.09" font-size="32.0" font-weight="bold" letter-spacing="0.80" fill="#0a0a0a">***</text>
<text x="947.40" y="1606.19" font-size="45.00" font-weight="bold" fill="#120d0a" transform="translate(0 1606.19) scale(1 1.035) translate(0 -1606.19)">WT</text>
<text x="1193.60" y="1606.19" font-size="45.00" font-weight="bold" fill="#120d0a" transform="translate(0 1606.19) scale(1 1.035) translate(0 -1606.19)">WT</text>
<text x="1044.06" y="1606.19" font-size="45.00" font-weight="bold" fill="#120d0a" transform="translate(0 1606.19) scale(1 1.035) translate(0 -1606.19)">DJ-1<tspan font-size="26.77" font-weight="normal" dy="-13.83" dx="0.00">-/-</tspan></text>
<text x="1295.59" y="1606.19" font-size="45.00" font-weight="bold" fill="#120d0a" transform="translate(0 1606.19) scale(1 1.035) translate(0 -1606.19)">DJ-1<tspan font-size="26.77" font-weight="normal" dy="-13.83" dx="0.00">-/-</tspan></text>
<line x1="948.24" y1="1634.67" x2="1149.80" y2="1634.67" stroke="#120d0a" stroke-width="3.80"/>
<line x1="1189.11" y1="1631.34" x2="1390.66" y2="1631.34" stroke="#120d0a" stroke-width="3.80"/>
<text x="1004.21" y="1683.67" font-size="45.50" font-weight="bold" fill="#120d0a">Ctrl</text>
<text x="1237.48" y="1686.01" font-size="45.40" font-weight="bold" fill="#120d0a">VMC</text>
<text transform="translate(861.63 1514.07) rotate(-90)" font-size="46.0" font-weight="bold" fill="#0a0a0a" xml:space="preserve">Pathologic score</text>
<text x="1403.89" y="1096.70" font-size="47.30" font-weight="bold" fill="#0a0a0a">H</text>
<rect x="1548.97" y="1467.03" width="64.50" height="58.03" fill="#d4d4d4" stroke="#231f20" stroke-width="3.20"/>
<rect x="1652.24" y="1465.70" width="64.50" height="59.37" fill="#a0c4e8" stroke="#231f20" stroke-width="3.20"/>
<rect x="1754.85" y="1382.08" width="64.50" height="142.98" fill="#f0bc87" stroke="#231f20" stroke-width="3.20"/>
<rect x="1858.13" y="1337.44" width="64.50" height="187.63" fill="#f5a0aa" stroke="#231f20" stroke-width="3.20"/>
<line x1="1581.22" y1="1444.78" x2="1581.22" y2="1484.09" stroke="#231f20" stroke-width="3.00"/>
<line x1="1564.22" y1="1444.78" x2="1598.22" y2="1444.78" stroke="#231f20" stroke-width="3.00"/>
<line x1="1564.22" y1="1484.09" x2="1598.22" y2="1484.09" stroke="#231f20" stroke-width="3.00"/>
<line x1="1684.49" y1="1446.44" x2="1684.49" y2="1480.76" stroke="#231f20" stroke-width="3.00"/>
<line x1="1667.49" y1="1446.44" x2="1701.49" y2="1446.44" stroke="#231f20" stroke-width="3.00"/>
<line x1="1667.49" y1="1480.76" x2="1701.49" y2="1480.76" stroke="#231f20" stroke-width="3.00"/>
<line x1="1787.10" y1="1344.83" x2="1787.10" y2="1413.79" stroke="#231f20" stroke-width="3.00"/>
<line x1="1770.10" y1="1344.83" x2="1804.10" y2="1344.83" stroke="#231f20" stroke-width="3.00"/>
<line x1="1770.10" y1="1413.79" x2="1804.10" y2="1413.79" stroke="#231f20" stroke-width="3.00"/>
<line x1="1890.38" y1="1313.18" x2="1890.38" y2="1356.49" stroke="#231f20" stroke-width="3.00"/>
<line x1="1873.38" y1="1313.18" x2="1907.38" y2="1313.18" stroke="#231f20" stroke-width="3.00"/>
<line x1="1873.38" y1="1356.49" x2="1907.38" y2="1356.49" stroke="#231f20" stroke-width="3.00"/>
<line x1="1513.26" y1="1225.87" x2="1513.26" y2="1526.76" stroke="#0a0a0a" stroke-width="3.40"/>
<line x1="1503.96" y1="1525.06" x2="1961.00" y2="1525.06" stroke="#0a0a0a" stroke-width="3.40"/>
<line x1="1503.96" y1="1227.57" x2="1513.26" y2="1227.57" stroke="#0a0a0a" stroke-width="3.40"/>
<text transform="translate(1499.96 1237.11) scale(0.955 1)" x="-37.43" y="0" font-size="25.60" font-weight="bold" fill="#000">400</text>
<line x1="1503.96" y1="1302.02" x2="1513.26" y2="1302.02" stroke="#0a0a0a" stroke-width="3.40"/>
<text transform="translate(1499.96 1311.56) scale(0.955 1)" x="-37.43" y="0" font-size="25.60" font-weight="bold" fill="#000">300</text>
<line x1="1503.96" y1="1376.32" x2="1513.26" y2="1376.32" stroke="#0a0a0a" stroke-width="3.40"/>
<text transform="translate(1499.96 1385.86) scale(0.955 1)" x="-37.43" y="0" font-size="25.60" font-weight="bold" fill="#000">200</text>
<line x1="1503.96" y1="1450.77" x2="1513.26" y2="1450.77" stroke="#0a0a0a" stroke-width="3.40"/>
<text transform="translate(1499.96 1460.31) scale(0.955 1)" x="-37.43" y="0" font-size="25.60" font-weight="bold" fill="#000">100</text>
<line x1="1503.96" y1="1525.06" x2="1513.26" y2="1525.06" stroke="#0a0a0a" stroke-width="3.40"/>
<text transform="translate(1499.96 1534.60) scale(0.955 1)" x="-11.83" y="0" font-size="25.60" font-weight="bold" fill="#000">0</text>
<line x1="1581.22" y1="1525.06" x2="1581.22" y2="1534.86" stroke="#0a0a0a" stroke-width="3.40"/>
<line x1="1684.49" y1="1525.06" x2="1684.49" y2="1534.86" stroke="#0a0a0a" stroke-width="3.40"/>
<line x1="1787.10" y1="1525.06" x2="1787.10" y2="1534.86" stroke="#0a0a0a" stroke-width="3.40"/>
<line x1="1890.38" y1="1525.06" x2="1890.38" y2="1534.86" stroke="#0a0a0a" stroke-width="3.40"/>
<circle cx="1593.54" cy="1437.45" r="6.6" fill="#0a0a0a"/>
<circle cx="1568.89" cy="1448.77" r="6.6" fill="#0a0a0a"/>
<circle cx="1593.54" cy="1462.10" r="6.6" fill="#0a0a0a"/>
<circle cx="1568.89" cy="1469.76" r="6.6" fill="#0a0a0a"/>
<circle cx="1593.54" cy="1480.76" r="6.6" fill="#0a0a0a"/>
<circle cx="1568.89" cy="1489.75" r="6.6" fill="#0a0a0a"/>
<rect x="1678.19" y="1429.48" width="12.60" height="12.60" fill="#0a0a0a"/>
<rect x="1678.19" y="1445.14" width="12.60" height="12.60" fill="#0a0a0a"/>
<rect x="1648.88" y="1471.12" width="12.60" height="12.60" fill="#0a0a0a"/>
<rect x="1668.20" y="1464.13" width="12.60" height="12.60" fill="#0a0a0a"/>
<rect x="1687.52" y="1468.46" width="12.60" height="12.60" fill="#0a0a0a"/>
<rect x="1706.51" y="1466.13" width="12.60" height="12.60" fill="#0a0a0a"/>
<path d="M1780.20 1343.27 L1794.00 1343.27 L1787.10 1331.07 Z" fill="#0a0a0a" />
<path d="M1767.54 1365.92 L1781.34 1365.92 L1774.44 1353.72 Z" fill="#0a0a0a" />
<path d="M1792.53 1369.26 L1806.33 1369.26 L1799.43 1357.06 Z" fill="#0a0a0a" />
<path d="M1780.20 1384.25 L1794.00 1384.25 L1787.10 1372.05 Z" fill="#0a0a0a" />
<path d="M1767.54 1428.22 L1781.34 1428.22 L1774.44 1416.02 Z" fill="#0a0a0a" />
<path d="M1792.53 1426.89 L1806.33 1426.89 L1799.43 1414.69 Z" fill="#0a0a0a" />
<path d="M1869.15 1308.75 L1882.95 1308.75 L1876.05 1320.95 Z" fill="#0a0a0a" />
<path d="M1898.13 1303.09 L1911.93 1303.09 L1905.03 1315.29 Z" fill="#0a0a0a" />
<path d="M1854.83 1327.07 L1868.63 1327.07 L1861.73 1339.27 Z" fill="#0a0a0a" />
<path d="M1883.48 1336.40 L1897.28 1336.40 L1890.38 1348.60 Z" fill="#0a0a0a" />
<path d="M1911.46 1329.74 L1925.26 1329.74 L1918.36 1341.94 Z" fill="#0a0a0a" />
<path d="M1883.48 1363.72 L1897.28 1363.72 L1890.38 1375.92 Z" fill="#0a0a0a" />
<path d="M1579.55 1317.18 V1307.46 Q1579.55 1304.86 1582.15 1304.86 H1784.50 Q1787.10 1304.86 1787.10 1307.46 V1317.18" fill="none" stroke="#0a0a0a" stroke-width="4.40" />
<text transform="translate(1687.82 1290.53) scale(1 1.150)" x="-33.20" y="15.09" font-size="32.0" font-weight="bold" letter-spacing="0.80" fill="#0a0a0a">****</text>
<path d="M1786.44 1285.87 V1275.14 Q1786.44 1272.54 1789.04 1272.54 H1887.44 Q1890.04 1272.54 1890.04 1275.14 V1285.87" fill="none" stroke="#0a0a0a" stroke-width="4.40" />
<text transform="translate(1838.41 1258.22) scale(1 1.150)" x="-8.00" y="15.09" font-size="32.0" font-weight="bold" letter-spacing="0.80" fill="#0a0a0a">*</text>
<text x="1504.75" y="1606.19" font-size="45.00" font-weight="bold" fill="#120d0a" transform="translate(0 1606.19) scale(1 1.035) translate(0 -1606.19)">WT</text>
<text x="1745.29" y="1606.19" font-size="45.00" font-weight="bold" fill="#120d0a" transform="translate(0 1606.19) scale(1 1.035) translate(0 -1606.19)">WT</text>
<text x="1599.75" y="1606.19" font-size="45.00" font-weight="bold" fill="#120d0a" transform="translate(0 1606.19) scale(1 1.035) translate(0 -1606.19)">DJ-1<tspan font-size="26.77" font-weight="normal" dy="-13.83" dx="0.00">-/-</tspan></text>
<text x="1846.94" y="1606.19" font-size="45.00" font-weight="bold" fill="#120d0a" transform="translate(0 1606.19) scale(1 1.035) translate(0 -1606.19)">DJ-1<tspan font-size="26.77" font-weight="normal" dy="-13.83" dx="0.00">-/-</tspan></text>
<line x1="1507.93" y1="1635.33" x2="1708.81" y2="1635.33" stroke="#120d0a" stroke-width="3.80"/>
<line x1="1741.13" y1="1635.33" x2="1942.01" y2="1635.33" stroke="#120d0a" stroke-width="3.80"/>
<text x="1560.39" y="1683.67" font-size="45.50" font-weight="bold" fill="#120d0a">Ctrl</text>
<text x="1796.66" y="1690.34" font-size="45.40" font-weight="bold" fill="#120d0a">VMC</text>
<text transform="translate(1446.29 1518.07) rotate(-90)" font-size="46.0" font-weight="bold" fill="#0a0a0a" xml:space="preserve">cTnI<tspan font-weight="normal">（</tspan>pg/ml<tspan font-weight="normal">）</tspan></text>
<text x="14.41" y="1738.40" font-size="47.30" font-weight="bold" fill="#0a0a0a">I</text>
<rect x="271.59" y="2016.42" width="69.80" height="77.69" fill="#d4d4d4" stroke="#231f20" stroke-width="3.20"/>
<rect x="383.86" y="2002.10" width="69.80" height="92.01" fill="#a0c4e8" stroke="#231f20" stroke-width="3.20"/>
<rect x="496.13" y="1950.79" width="69.80" height="143.32" fill="#f0bc87" stroke="#231f20" stroke-width="3.20"/>
<rect x="608.40" y="1916.48" width="69.80" height="177.63" fill="#f5a0aa" stroke="#231f20" stroke-width="3.20"/>
<line x1="306.49" y1="2004.16" x2="306.49" y2="2023.15" stroke="#231f20" stroke-width="3.00"/>
<line x1="288.49" y1="2004.16" x2="324.49" y2="2004.16" stroke="#231f20" stroke-width="3.00"/>
<line x1="288.49" y1="2023.15" x2="324.49" y2="2023.15" stroke="#231f20" stroke-width="3.00"/>
<line x1="418.76" y1="1988.84" x2="418.76" y2="2008.82" stroke="#231f20" stroke-width="3.00"/>
<line x1="400.76" y1="1988.84" x2="436.76" y2="1988.84" stroke="#231f20" stroke-width="3.00"/>
<line x1="400.76" y1="2008.82" x2="436.76" y2="2008.82" stroke="#231f20" stroke-width="3.00"/>
<line x1="531.03" y1="1935.53" x2="531.03" y2="1960.85" stroke="#231f20" stroke-width="3.00"/>
<line x1="513.03" y1="1935.53" x2="549.03" y2="1935.53" stroke="#231f20" stroke-width="3.00"/>
<line x1="513.03" y1="1960.85" x2="549.03" y2="1960.85" stroke="#231f20" stroke-width="3.00"/>
<line x1="643.30" y1="1890.89" x2="643.30" y2="1935.53" stroke="#231f20" stroke-width="3.00"/>
<line x1="625.30" y1="1890.89" x2="661.30" y2="1890.89" stroke="#231f20" stroke-width="3.00"/>
<line x1="625.30" y1="1935.53" x2="661.30" y2="1935.53" stroke="#231f20" stroke-width="3.00"/>
<line x1="232.20" y1="1766.59" x2="232.20" y2="2095.81" stroke="#0a0a0a" stroke-width="3.40"/>
<line x1="218.81" y1="2094.11" x2="720.59" y2="2094.11" stroke="#0a0a0a" stroke-width="3.40"/>
<line x1="218.81" y1="1768.29" x2="232.20" y2="1768.29" stroke="#0a0a0a" stroke-width="3.40"/>
<text transform="translate(214.81 1778.31) scale(0.970 1)" x="-39.47" y="0" font-size="27.00" font-weight="bold" fill="#000">150</text>
<line x1="218.81" y1="1877.07" x2="232.20" y2="1877.07" stroke="#0a0a0a" stroke-width="3.40"/>
<text transform="translate(214.81 1887.08) scale(0.970 1)" x="-39.47" y="0" font-size="27.00" font-weight="bold" fill="#000">100</text>
<line x1="218.81" y1="1985.67" x2="232.20" y2="1985.67" stroke="#0a0a0a" stroke-width="3.40"/>
<text transform="translate(214.81 1995.68) scale(0.970 1)" x="-25.97" y="0" font-size="27.00" font-weight="bold" fill="#000">50</text>
<line x1="218.81" y1="2094.28" x2="232.20" y2="2094.28" stroke="#0a0a0a" stroke-width="3.40"/>
<text transform="translate(214.81 2104.29) scale(0.970 1)" x="-12.47" y="0" font-size="27.00" font-weight="bold" fill="#000">0</text>
<line x1="306.49" y1="2094.11" x2="306.49" y2="2106.71" stroke="#0a0a0a" stroke-width="3.40"/>
<line x1="418.76" y1="2094.11" x2="418.76" y2="2106.71" stroke="#0a0a0a" stroke-width="3.40"/>
<line x1="531.03" y1="2094.11" x2="531.03" y2="2106.71" stroke="#0a0a0a" stroke-width="3.40"/>
<line x1="643.30" y1="2094.11" x2="643.30" y2="2106.71" stroke="#0a0a0a" stroke-width="3.40"/>
<circle cx="275.51" cy="2004.83" r="6.6" fill="#0a0a0a"/>
<circle cx="316.49" cy="2001.50" r="6.6" fill="#0a0a0a"/>
<circle cx="296.50" cy="2013.16" r="6.6" fill="#0a0a0a"/>
<circle cx="337.48" cy="2016.49" r="6.6" fill="#0a0a0a"/>
<circle cx="275.51" cy="2023.82" r="6.6" fill="#0a0a0a"/>
<circle cx="316.49" cy="2022.48" r="6.6" fill="#0a0a0a"/>
<rect x="381.81" y="1988.53" width="12.60" height="12.60" fill="#0a0a0a"/>
<rect x="402.47" y="1982.87" width="12.60" height="12.60" fill="#0a0a0a"/>
<rect x="443.45" y="1984.20" width="12.60" height="12.60" fill="#0a0a0a"/>
<rect x="422.79" y="1990.20" width="12.60" height="12.60" fill="#0a0a0a"/>
<rect x="402.47" y="2005.86" width="12.60" height="12.60" fill="#0a0a0a"/>
<rect x="422.79" y="2005.19" width="12.60" height="12.60" fill="#0a0a0a"/>
<path d="M513.80 1938.63 L527.60 1938.63 L520.70 1926.43 Z" fill="#0a0a0a" />
<path d="M534.46 1935.97 L548.26 1935.97 L541.36 1923.77 Z" fill="#0a0a0a" />
<path d="M513.80 1959.96 L527.60 1959.96 L520.70 1947.76 Z" fill="#0a0a0a" />
<path d="M555.45 1958.62 L569.25 1958.62 L562.35 1946.42 Z" fill="#0a0a0a" />
<path d="M534.46 1964.29 L548.26 1964.29 L541.36 1952.09 Z" fill="#0a0a0a" />
<path d="M492.82 1970.28 L506.62 1970.28 L499.72 1958.08 Z" fill="#0a0a0a" />
<path d="M636.40 1875.46 L650.20 1875.46 L643.30 1887.66 Z" fill="#0a0a0a" />
<path d="M636.40 1890.46 L650.20 1890.46 L643.30 1902.66 Z" fill="#0a0a0a" />
<path d="M623.74 1905.45 L637.54 1905.45 L630.64 1917.65 Z" fill="#0a0a0a" />
<path d="M649.73 1904.45 L663.53 1904.45 L656.63 1916.65 Z" fill="#0a0a0a" />
<path d="M623.74 1931.10 L637.54 1931.10 L630.64 1943.30 Z" fill="#0a0a0a" />
<path d="M649.73 1931.10 L663.53 1931.10 L656.63 1943.30 Z" fill="#0a0a0a" />
<path d="M309.16 1917.21 V1905.15 Q309.16 1902.55 311.76 1902.55 H529.43 Q532.03 1902.55 532.03 1905.15 V1917.21" fill="none" stroke="#0a0a0a" stroke-width="4.40" />
<text transform="translate(419.76 1884.90) scale(1 1.150)" x="-33.20" y="15.09" font-size="32.0" font-weight="bold" letter-spacing="0.80" fill="#0a0a0a">****</text>
<path d="M526.70 1862.57 V1850.85 Q526.70 1848.25 529.30 1848.25 H641.70 Q644.30 1848.25 644.30 1850.85 V1862.57" fill="none" stroke="#0a0a0a" stroke-width="4.40" />
<text transform="translate(587.33 1829.26) scale(1 1.150)" x="-16.40" y="15.09" font-size="32.0" font-weight="bold" letter-spacing="0.80" fill="#0a0a0a">**</text>
<text x="235.69" y="2181.23" font-size="45.00" font-weight="bold" fill="#120d0a" transform="translate(0 2181.23) scale(1 1.035) translate(0 -2181.23)">WT</text>
<text x="491.55" y="2181.23" font-size="45.00" font-weight="bold" fill="#120d0a" transform="translate(0 2181.23) scale(1 1.035) translate(0 -2181.23)">WT</text>
<text x="343.55" y="2181.23" font-size="45.00" font-weight="bold" fill="#120d0a" transform="translate(0 2181.23) scale(1 1.035) translate(0 -2181.23)">DJ-1-/-</text>
<text x="594.21" y="2181.23" font-size="45.00" font-weight="bold" fill="#120d0a" transform="translate(0 2181.23) scale(1 1.035) translate(0 -2181.23)">DJ-1<tspan font-size="26.77" font-weight="normal" dy="-13.83" dx="0.00">-/-</tspan></text>
<line x1="239.20" y1="2209.71" x2="440.42" y2="2209.71" stroke="#120d0a" stroke-width="3.80"/>
<line x1="491.72" y1="2209.71" x2="693.27" y2="2209.71" stroke="#120d0a" stroke-width="3.80"/>
<text x="291.50" y="2259.72" font-size="45.50" font-weight="bold" fill="#120d0a">Ctrl</text>
<text x="539.76" y="2265.38" font-size="45.40" font-weight="bold" fill="#120d0a">VMC</text>
<text transform="translate(152.58 2086.45) rotate(-90)" font-size="46.0" font-weight="bold" fill="#0a0a0a" xml:space="preserve">IL-1β<tspan font-weight="normal">（</tspan>pg/ml<tspan font-weight="normal">）</tspan></text>
<text x="820.21" y="1747.40" font-size="49.30" font-weight="bold" fill="#0a0a0a">J</text>
<rect x="955.33" y="2052.07" width="63.80" height="41.04" fill="#d4d4d4" stroke="#231f20" stroke-width="3.20"/>
<rect x="1057.94" y="2031.41" width="63.80" height="61.70" fill="#a0c4e8" stroke="#231f20" stroke-width="3.20"/>
<rect x="1160.54" y="1932.14" width="63.80" height="160.97" fill="#f0bc87" stroke="#231f20" stroke-width="3.20"/>
<rect x="1263.49" y="1898.82" width="63.80" height="194.29" fill="#f5a0aa" stroke="#231f20" stroke-width="3.20"/>
<line x1="987.23" y1="2041.47" x2="987.23" y2="2058.13" stroke="#231f20" stroke-width="3.00"/>
<line x1="970.73" y1="2041.47" x2="1003.73" y2="2041.47" stroke="#231f20" stroke-width="3.00"/>
<line x1="970.73" y1="2058.13" x2="1003.73" y2="2058.13" stroke="#231f20" stroke-width="3.00"/>
<line x1="1089.84" y1="2007.49" x2="1089.84" y2="2049.80" stroke="#231f20" stroke-width="3.00"/>
<line x1="1073.34" y1="2007.49" x2="1106.34" y2="2007.49" stroke="#231f20" stroke-width="3.00"/>
<line x1="1073.34" y1="2049.80" x2="1106.34" y2="2049.80" stroke="#231f20" stroke-width="3.00"/>
<line x1="1192.44" y1="1911.88" x2="1192.44" y2="1948.19" stroke="#231f20" stroke-width="3.00"/>
<line x1="1175.94" y1="1911.88" x2="1208.94" y2="1911.88" stroke="#231f20" stroke-width="3.00"/>
<line x1="1175.94" y1="1948.19" x2="1208.94" y2="1948.19" stroke="#231f20" stroke-width="3.00"/>
<line x1="1295.39" y1="1877.23" x2="1295.39" y2="1915.54" stroke="#231f20" stroke-width="3.00"/>
<line x1="1278.89" y1="1877.23" x2="1311.89" y2="1877.23" stroke="#231f20" stroke-width="3.00"/>
<line x1="1278.89" y1="1915.54" x2="1311.89" y2="1915.54" stroke="#231f20" stroke-width="3.00"/>
<line x1="919.27" y1="1793.91" x2="919.27" y2="2094.81" stroke="#0a0a0a" stroke-width="3.40"/>
<line x1="906.54" y1="2093.11" x2="1365.35" y2="2093.11" stroke="#0a0a0a" stroke-width="3.40"/>
<line x1="906.54" y1="1795.61" x2="919.27" y2="1795.61" stroke="#0a0a0a" stroke-width="3.40"/>
<text transform="translate(902.54 1805.15) scale(0.950 1)" x="-37.43" y="0" font-size="25.60" font-weight="bold" fill="#000">150</text>
<line x1="906.54" y1="1894.72" x2="919.27" y2="1894.72" stroke="#0a0a0a" stroke-width="3.40"/>
<text transform="translate(902.54 1904.26) scale(0.950 1)" x="-37.43" y="0" font-size="25.60" font-weight="bold" fill="#000">100</text>
<line x1="906.54" y1="1993.83" x2="919.27" y2="1993.83" stroke="#0a0a0a" stroke-width="3.40"/>
<text transform="translate(902.54 2003.37) scale(0.950 1)" x="-24.62" y="0" font-size="25.60" font-weight="bold" fill="#000">50</text>
<line x1="906.54" y1="2093.11" x2="919.27" y2="2093.11" stroke="#0a0a0a" stroke-width="3.40"/>
<text transform="translate(902.54 2102.65) scale(0.950 1)" x="-11.83" y="0" font-size="25.60" font-weight="bold" fill="#000">0</text>
<line x1="987.23" y1="2093.11" x2="987.23" y2="2105.71" stroke="#0a0a0a" stroke-width="3.40"/>
<line x1="1089.84" y1="2093.11" x2="1089.84" y2="2105.71" stroke="#0a0a0a" stroke-width="3.40"/>
<line x1="1192.44" y1="2093.11" x2="1192.44" y2="2105.71" stroke="#0a0a0a" stroke-width="3.40"/>
<line x1="1295.39" y1="2093.11" x2="1295.39" y2="2105.71" stroke="#0a0a0a" stroke-width="3.40"/>
<circle cx="958.91" cy="2039.81" r="6.6" fill="#0a0a0a"/>
<circle cx="996.56" cy="2039.81" r="6.6" fill="#0a0a0a"/>
<circle cx="978.23" cy="2049.80" r="6.6" fill="#0a0a0a"/>
<circle cx="1015.54" cy="2052.47" r="6.6" fill="#0a0a0a"/>
<circle cx="958.91" cy="2059.13" r="6.6" fill="#0a0a0a"/>
<circle cx="996.56" cy="2057.13" r="6.6" fill="#0a0a0a"/>
<rect x="1071.88" y="2001.86" width="12.60" height="12.60" fill="#0a0a0a"/>
<rect x="1095.20" y="1996.20" width="12.60" height="12.60" fill="#0a0a0a"/>
<rect x="1071.88" y="2025.18" width="12.60" height="12.60" fill="#0a0a0a"/>
<rect x="1095.20" y="2022.85" width="12.60" height="12.60" fill="#0a0a0a"/>
<rect x="1083.54" y="2036.84" width="12.60" height="12.60" fill="#0a0a0a"/>
<rect x="1083.54" y="2053.50" width="12.60" height="12.60" fill="#0a0a0a"/>
<path d="M1185.54 1905.99 L1199.34 1905.99 L1192.44 1893.79 Z" fill="#0a0a0a" />
<path d="M1213.86 1926.64 L1227.66 1926.64 L1220.76 1914.44 Z" fill="#0a0a0a" />
<path d="M1157.23 1936.97 L1171.03 1936.97 L1164.13 1924.77 Z" fill="#0a0a0a" />
<path d="M1213.86 1941.97 L1227.66 1941.97 L1220.76 1929.77 Z" fill="#0a0a0a" />
<path d="M1185.54 1945.30 L1199.34 1945.30 L1192.44 1933.10 Z" fill="#0a0a0a" />
<path d="M1185.54 1959.29 L1199.34 1959.29 L1192.44 1947.09 Z" fill="#0a0a0a" />
<path d="M1288.49 1858.81 L1302.29 1858.81 L1295.39 1871.01 Z" fill="#0a0a0a" />
<path d="M1259.50 1876.46 L1273.30 1876.46 L1266.40 1888.66 Z" fill="#0a0a0a" />
<path d="M1288.49 1886.12 L1302.29 1886.12 L1295.39 1898.32 Z" fill="#0a0a0a" />
<path d="M1288.49 1902.12 L1302.29 1902.12 L1295.39 1914.32 Z" fill="#0a0a0a" />
<path d="M1259.50 1906.45 L1273.30 1906.45 L1266.40 1918.65 Z" fill="#0a0a0a" />
<path d="M1316.80 1906.45 L1330.60 1906.45 L1323.70 1918.65 Z" fill="#0a0a0a" />
<path d="M989.23 1889.23 V1878.17 Q989.23 1875.57 991.83 1875.57 H1190.51 Q1193.11 1875.57 1193.11 1878.17 V1889.23" fill="none" stroke="#0a0a0a" stroke-width="4.40" />
<text transform="translate(1088.84 1860.58) scale(1 1.150)" x="-33.20" y="15.09" font-size="32.0" font-weight="bold" letter-spacing="0.80" fill="#0a0a0a">****</text>
<path d="M1190.78 1847.58 V1830.86 Q1190.78 1828.26 1193.38 1828.26 H1293.12 Q1295.72 1828.26 1295.72 1830.86 V1847.58" fill="none" stroke="#0a0a0a" stroke-width="4.40" />
<text transform="translate(1243.08 1815.93) scale(1 1.150)" x="-8.00" y="15.09" font-size="32.0" font-weight="bold" letter-spacing="0.80" fill="#0a0a0a">*</text>
<text x="906.60" y="2179.23" font-size="45.00" font-weight="bold" fill="#120d0a" transform="translate(0 2179.23) scale(1 1.035) translate(0 -2179.23)">WT</text>
<text x="1151.29" y="2179.23" font-size="45.00" font-weight="bold" fill="#120d0a" transform="translate(0 2179.23) scale(1 1.035) translate(0 -2179.23)">WT</text>
<text x="1009.09" y="2179.23" font-size="45.00" font-weight="bold" fill="#120d0a" transform="translate(0 2179.23) scale(1 1.035) translate(0 -2179.23)">DJ-1<tspan font-size="26.77" font-weight="normal" dy="-13.83" dx="0.00">-/-</tspan></text>
<text x="1255.62" y="2179.23" font-size="45.00" font-weight="bold" fill="#120d0a" transform="translate(0 2179.23) scale(1 1.035) translate(0 -2179.23)">DJ-1<tspan font-size="26.77" font-weight="normal" dy="-13.83" dx="0.00">-/-</tspan></text>
<line x1="909.94" y1="2208.05" x2="1110.82" y2="2208.05" stroke="#120d0a" stroke-width="3.80"/>
<line x1="1150.47" y1="2208.05" x2="1352.02" y2="2208.05" stroke="#120d0a" stroke-width="3.80"/>
<text x="965.90" y="2257.05" font-size="45.50" font-weight="bold" fill="#120d0a">Ctrl</text>
<text x="1197.84" y="2263.71" font-size="45.40" font-weight="bold" fill="#120d0a">VMC</text>
<text transform="translate(839.98 2083.12) rotate(-90)" font-size="46.0" font-weight="bold" fill="#0a0a0a" xml:space="preserve">IL-6<tspan font-weight="normal">（</tspan>pg/ml<tspan font-weight="normal">）</tspan></text>
<text x="1419.89" y="1743.40" font-size="47.30" font-weight="bold" fill="#0a0a0a">K</text>
<rect x="1537.82" y="2025.42" width="66.80" height="67.69" fill="#d4d4d4" stroke="#231f20" stroke-width="3.20"/>
<rect x="1645.10" y="2017.42" width="66.80" height="75.69" fill="#a0c4e8" stroke="#231f20" stroke-width="3.20"/>
<rect x="1752.70" y="1927.47" width="66.80" height="165.64" fill="#f0bc87" stroke="#231f20" stroke-width="3.20"/>
<rect x="1859.97" y="1859.18" width="66.80" height="233.93" fill="#f5a0aa" stroke="#231f20" stroke-width="3.20"/>
<line x1="1571.22" y1="2010.49" x2="1571.22" y2="2033.14" stroke="#231f20" stroke-width="3.00"/>
<line x1="1553.22" y1="2010.49" x2="1589.22" y2="2010.49" stroke="#231f20" stroke-width="3.00"/>
<line x1="1553.22" y1="2033.14" x2="1589.22" y2="2033.14" stroke="#231f20" stroke-width="3.00"/>
<line x1="1678.50" y1="1992.17" x2="1678.50" y2="2035.81" stroke="#231f20" stroke-width="3.00"/>
<line x1="1660.50" y1="1992.17" x2="1696.50" y2="1992.17" stroke="#231f20" stroke-width="3.00"/>
<line x1="1660.50" y1="2035.81" x2="1696.50" y2="2035.81" stroke="#231f20" stroke-width="3.00"/>
<line x1="1786.10" y1="1907.55" x2="1786.10" y2="1939.86" stroke="#231f20" stroke-width="3.00"/>
<line x1="1768.10" y1="1907.55" x2="1804.10" y2="1907.55" stroke="#231f20" stroke-width="3.00"/>
<line x1="1768.10" y1="1939.86" x2="1804.10" y2="1939.86" stroke="#231f20" stroke-width="3.00"/>
<line x1="1893.37" y1="1819.27" x2="1893.37" y2="1893.22" stroke="#231f20" stroke-width="3.00"/>
<line x1="1875.37" y1="1819.27" x2="1911.37" y2="1819.27" stroke="#231f20" stroke-width="3.00"/>
<line x1="1875.37" y1="1893.22" x2="1911.37" y2="1893.22" stroke="#231f20" stroke-width="3.00"/>
<line x1="1500.60" y1="1779.92" x2="1500.60" y2="2094.81" stroke="#0a0a0a" stroke-width="3.40"/>
<line x1="1491.20" y1="2093.11" x2="1967.00" y2="2093.11" stroke="#0a0a0a" stroke-width="3.40"/>
<line x1="1491.20" y1="1781.62" x2="1500.60" y2="1781.62" stroke="#0a0a0a" stroke-width="3.40"/>
<text transform="translate(1487.20 1791.63) scale(1.000 1)" x="-39.47" y="0" font-size="27.00" font-weight="bold" fill="#000">300</text>
<line x1="1491.20" y1="1885.56" x2="1500.60" y2="1885.56" stroke="#0a0a0a" stroke-width="3.40"/>
<text transform="translate(1487.20 1895.57) scale(1.000 1)" x="-39.47" y="0" font-size="27.00" font-weight="bold" fill="#000">200</text>
<line x1="1491.20" y1="1989.50" x2="1500.60" y2="1989.50" stroke="#0a0a0a" stroke-width="3.40"/>
<text transform="translate(1487.20 1999.52) scale(1.000 1)" x="-39.47" y="0" font-size="27.00" font-weight="bold" fill="#000">100</text>
<line x1="1491.20" y1="2093.28" x2="1500.60" y2="2093.28" stroke="#0a0a0a" stroke-width="3.40"/>
<text transform="translate(1487.20 2103.29) scale(1.000 1)" x="-12.47" y="0" font-size="27.00" font-weight="bold" fill="#000">0</text>
<line x1="1571.22" y1="2093.11" x2="1571.22" y2="2105.71" stroke="#0a0a0a" stroke-width="3.40"/>
<line x1="1678.50" y1="2093.11" x2="1678.50" y2="2105.71" stroke="#0a0a0a" stroke-width="3.40"/>
<line x1="1786.10" y1="2093.11" x2="1786.10" y2="2105.71" stroke="#0a0a0a" stroke-width="3.40"/>
<line x1="1893.37" y1="2093.11" x2="1893.37" y2="2105.71" stroke="#0a0a0a" stroke-width="3.40"/>
<circle cx="1561.23" cy="2012.16" r="6.6" fill="#0a0a0a"/>
<circle cx="1581.22" cy="2004.83" r="6.6" fill="#0a0a0a"/>
<circle cx="1561.23" cy="2024.82" r="6.6" fill="#0a0a0a"/>
<circle cx="1600.54" cy="2026.48" r="6.6" fill="#0a0a0a"/>
<circle cx="1541.24" cy="2033.14" r="6.6" fill="#0a0a0a"/>
<circle cx="1581.22" cy="2033.14" r="6.6" fill="#0a0a0a"/>
<rect x="1672.53" y="1967.54" width="12.60" height="12.60" fill="#0a0a0a"/>
<rect x="1672.53" y="2000.86" width="12.60" height="12.60" fill="#0a0a0a"/>
<rect x="1662.54" y="2016.85" width="12.60" height="12.60" fill="#0a0a0a"/>
<rect x="1682.19" y="2017.85" width="12.60" height="12.60" fill="#0a0a0a"/>
<rect x="1701.51" y="2016.85" width="12.60" height="12.60" fill="#0a0a0a"/>
<rect x="1643.21" y="2027.84" width="12.60" height="12.60" fill="#0a0a0a"/>
<path d="M1749.22 1920.31 L1763.02 1920.31 L1756.12 1908.11 Z" fill="#0a0a0a" />
<path d="M1808.19 1909.32 L1821.99 1909.32 L1815.09 1897.12 Z" fill="#0a0a0a" />
<path d="M1808.19 1925.98 L1821.99 1925.98 L1815.09 1913.78 Z" fill="#0a0a0a" />
<path d="M1779.20 1928.64 L1793.00 1928.64 L1786.10 1916.44 Z" fill="#0a0a0a" />
<path d="M1764.21 1950.96 L1778.01 1950.96 L1771.11 1938.76 Z" fill="#0a0a0a" />
<path d="M1793.53 1949.96 L1807.33 1949.96 L1800.43 1937.76 Z" fill="#0a0a0a" />
<path d="M1874.15 1817.83 L1887.95 1817.83 L1881.05 1830.03 Z" fill="#0a0a0a" />
<path d="M1899.13 1812.83 L1912.93 1812.83 L1906.03 1825.03 Z" fill="#0a0a0a" />
<path d="M1886.47 1829.82 L1900.27 1829.82 L1893.37 1842.02 Z" fill="#0a0a0a" />
<path d="M1886.47 1847.15 L1900.27 1847.15 L1893.37 1859.35 Z" fill="#0a0a0a" />
<path d="M1886.47 1879.79 L1900.27 1879.79 L1893.37 1891.99 Z" fill="#0a0a0a" />
<path d="M1886.47 1904.45 L1900.27 1904.45 L1893.37 1916.65 Z" fill="#0a0a0a" />
<path d="M1571.22 1895.56 V1884.16 Q1571.22 1881.56 1573.82 1881.56 H1784.50 Q1787.10 1881.56 1787.10 1884.16 V1895.56" fill="none" stroke="#0a0a0a" stroke-width="4.40" />
<text transform="translate(1683.83 1864.24) scale(1 1.150)" x="-33.20" y="15.09" font-size="32.0" font-weight="bold" letter-spacing="0.80" fill="#0a0a0a">****</text>
<path d="M1787.77 1808.94 V1797.55 Q1787.77 1794.95 1790.37 1794.95 H1893.44 Q1896.04 1794.95 1896.04 1797.55 V1808.94" fill="none" stroke="#0a0a0a" stroke-width="4.40" />
<text transform="translate(1841.74 1778.96) scale(1 1.150)" x="-24.80" y="15.09" font-size="32.0" font-weight="bold" letter-spacing="0.80" fill="#0a0a0a">***</text>
<text x="1498.26" y="2181.23" font-size="45.00" font-weight="bold" fill="#120d0a" transform="translate(0 2181.23) scale(1 1.035) translate(0 -2181.23)">WT</text>
<text x="1742.45" y="2181.23" font-size="45.00" font-weight="bold" fill="#120d0a" transform="translate(0 2181.23) scale(1 1.035) translate(0 -2181.23)">WT</text>
<text x="1603.75" y="2181.23" font-size="45.00" font-weight="bold" fill="#120d0a" transform="translate(0 2181.23) scale(1 1.035) translate(0 -2181.23)">DJ-1<tspan font-size="26.77" font-weight="normal" dy="-13.83" dx="0.00">-/-</tspan></text>
<text x="1848.61" y="2181.23" font-size="45.00" font-weight="bold" fill="#120d0a" transform="translate(0 2181.23) scale(1 1.035) translate(0 -2181.23)">DJ-1<tspan font-size="26.77" font-weight="normal" dy="-13.83" dx="0.00">-/-</tspan></text>
<line x1="1501.26" y1="2210.38" x2="1702.82" y2="2210.38" stroke="#120d0a" stroke-width="3.80"/>
<line x1="1742.13" y1="2210.38" x2="1943.35" y2="2210.38" stroke="#120d0a" stroke-width="3.80"/>
<text x="1553.07" y="2258.72" font-size="45.50" font-weight="bold" fill="#120d0a">Ctrl</text>
<text x="1790.83" y="2263.71" font-size="45.40" font-weight="bold" fill="#120d0a">VMC</text>
<text transform="translate(1422.97 2098.11) rotate(-90)" font-size="46.0" font-weight="bold" fill="#0a0a0a" xml:space="preserve">TNF-α<tspan font-weight="normal">（</tspan>pg/ml<tspan font-weight="normal">）</tspan></text>
<text x="10.81" y="600.30" font-size="49.00" font-weight="bold" fill="#0a0a0a">C</text>
<text x="242.51" y="619.40" font-size="42.60" font-weight="bold" fill="#120d0a">WT</text>
<text x="574.75" y="624.70" font-size="42.60" font-weight="bold" fill="#120d0a">DJ-1<tspan font-size="25.35" font-weight="normal" dy="-13.55" dx="0.00">-/-</tspan></text>
<text x="11.28" y="733.00" font-size="45.80" font-weight="bold" fill="#120d0a">Ctrl</text>
<text x="2.58" y="895.70" font-size="45.60" font-weight="bold" fill="#120d0a">VMC</text>
<text x="11.70" y="1096.90" font-size="47.00" font-weight="bold" fill="#0a0a0a">F</text>
<text x="244.76" y="1102.50" font-size="45.00" font-weight="bold" fill="#120d0a">WT</text>
<text x="568.21" y="1104.70" font-size="45.00" font-weight="bold" fill="#120d0a">DJ-1<tspan font-size="26.77" font-weight="normal" dy="-14.31" dx="0.00">-/-</tspan></text>
<text x="13.23" y="1266.80" font-size="45.80" font-weight="bold" fill="#120d0a">Ctrl</text>
<text x="3.53" y="1552.50" font-size="45.60" font-weight="bold" fill="#120d0a">VMC</text>
<clipPath id="c1"><rect x="113.70" y="642.50" width="339.30" height="142.60"/></clipPath>
<g clip-path="url(#c1)">
<rect x="113.70" y="642.50" width="339.30" height="142.60" fill="#171717"/>
<g transform="translate(100.00 630.00) scale(0.20088)" ><rect x="60.0" y="62.0" width="1700.0" height="75.0" fill="#2a2a2a"/><rect x="60.0" y="135.0" width="1700.0" height="90.0" fill="#242424"/><defs><path id="w1" d="M32 254L39 248L45 234L51 220L58 214L64 214L71 214L78 214L85 214L139 220L192 234L246 248L300 254L306 248L312 234L319 220L325 214L332 214L339 214L346 214L352 214L406 220L460 234L514 248L568 254L574 248L580 234L586 220L592 214L599 214L606 214L613 214L620 214L674 220L728 234L781 248L835 254L841 248L848 234L854 220L860 214L867 214L874 214L881 214L888 214L941 220L995 234L1049 248L1102 254L1109 248L1115 234L1121 220L1128 214L1134 214L1141 214L1148 214L1155 214L1209 220L1262 234L1316 248L1370 254L1376 248L1382 234L1389 220L1395 214L1402 214L1409 214L1416 214L1422 214L1476 220L1530 234L1584 248L1638 254L1644 248L1650 234L1656 220L1662 214L1669 214L1676 214L1683 214L1690 214L1744 220L1798 234"/></defs><path d="M32 254L39 248L45 234L51 220L58 214L64 214L71 214L78 214L85 214L139 220L192 234L246 248L300 254L306 248L312 234L319 220L325 214L332 214L339 214L346 214L352 214L406 220L460 234L514 248L568 254L574 248L580 234L586 220L592 214L599 214L606 214L613 214L620 214L674 220L728 234L781 248L835 254L841 248L848 234L854 220L860 214L867 214L874 214L881 214L888 214L941 220L995 234L1049 248L1102 254L1109 248L1115 234L1121 220L1128 214L1134 214L1141 214L1148 214L1155 214L1209 220L1262 234L1316 248L1370 254L1376 248L1382 234L1389 220L1395 214L1402 214L1409 214L1416 214L1422 214L1476 220L1530 234L1584 248L1638 254L1644 248L1650 234L1656 220L1662 214L1669 214L1676 214L1683 214L1690 214L1744 220L1798 234 L1800 800 L0 800 Z" fill="#171717"/><g fill="none" stroke-linecap="round" stroke-linejoin="round" filter="url(#b2)"><use href="#w1" y="0" stroke="#8e8e8e" stroke-width="7"/><path d="M40 130H1770" stroke="#b8b8b8" stroke-width="6"/><path d="M40 100H1770" stroke="#4c4c4c" stroke-width="8"/></g><defs><path id="w2" d="M14 474L43 495L72 521L101 542L130 550L158 541L186 516L214 486L242 461L270 452L300 461L330 483L360 511L390 533L420 542L440 535L460 516L480 492L500 473L520 466L549 474L578 495L607 521L636 542L665 550L693 541L721 516L749 486L777 461L805 452L835 461L865 483L895 511L925 533L955 542L975 535L995 516L1015 492L1035 473L1055 466L1084 474L1113 495L1142 521L1171 542L1200 550L1228 541L1256 516L1284 486L1312 461L1340 452L1370 461L1400 483L1430 511L1460 533L1490 542L1510 535L1530 516L1550 492L1570 473L1590 466L1619 474L1648 495L1677 521L1706 542L1735 550L1763 541L1791 516L1819 486"/></defs><rect x="40" y="668" width="1740" height="120" fill="#e9e9e9" filter="url(#b20)"/><g fill="none" stroke-linecap="round" stroke-linejoin="round" filter="url(#b6)"><use href="#w2" y="30" stroke="#333" stroke-width="60"/><use href="#w2" y="75" stroke="#4e4e4e" stroke-width="50"/><use href="#w2" y="115" stroke="#808080" stroke-width="50"/><use href="#w2" y="150" stroke="#bcbcbc" stroke-width="50"/><use href="#w2" y="195" stroke="#f2f2f2" stroke-width="60"/><use href="#w2" y="250" stroke="#ececec" stroke-width="80"/><use href="#w2" y="320" stroke="#e4e4e4" stroke-width="120"/></g><g fill="none" stroke-linecap="round" stroke-linejoin="round" filter="url(#b2)"><use href="#w2" y="0" stroke="#c8c8c8" stroke-width="9"/><path d="M232 425q38 -22 76 0" stroke="#8a8a8a" stroke-width="6"/><path d="M232 445q38 -22 76 0" stroke="#8a8a8a" stroke-width="6"/><path d="M767 425q38 -22 76 0" stroke="#8a8a8a" stroke-width="6"/><path d="M767 445q38 -22 76 0" stroke="#8a8a8a" stroke-width="6"/><path d="M1302 425q38 -22 76 0" stroke="#8a8a8a" stroke-width="6"/><path d="M1302 445q38 -22 76 0" stroke="#8a8a8a" stroke-width="6"/><path d="M1837 425q38 -22 76 0" stroke="#8a8a8a" stroke-width="6"/><path d="M1837 445q38 -22 76 0" stroke="#8a8a8a" stroke-width="6"/><use href="#w2" y="205" stroke="#fff" stroke-width="14" opacity="0.90"/><use href="#w2" y="175" stroke="#fff" stroke-width="10" opacity="0.70"/></g></g>
<rect x="113.70" y="642.50" width="339.30" height="142.60" filter="url(#spk)" opacity="0.14"/>
<rect x="113.70" y="642.50" width="339.30" height="32.00" filter="url(#strk)" opacity="0.16"/>
<rect x="113.70" y="737.50" width="339.30" height="47.60" filter="url(#dstrk)" opacity="0.35"/>
</g>
<clipPath id="c2"><rect x="456.00" y="642.50" width="339.20" height="142.60"/></clipPath>
<g clip-path="url(#c2)">
<rect x="456.00" y="642.50" width="339.20" height="142.60" fill="#1c1c1c"/>
<g transform="translate(445.00 630.00) scale(0.20088)" ><rect x="50.0" y="62.0" width="1700.0" height="27.0" fill="#787878"/><rect x="50.0" y="89.0" width="1700.0" height="145.0" fill="#232323"/><defs><path id="w3" d="M5 285L32 279L59 263L86 244L113 228L140 222L167 228L194 244L221 263L248 279L275 285L302 279L329 263L356 244L383 228L410 222L437 228L464 244L491 263L518 279L545 285L572 279L599 263L626 244L653 228L680 222L707 228L734 244L761 263L788 279L815 285L842 279L869 263L896 244L923 228L950 222L977 228L1004 244L1031 263L1058 279L1085 285L1112 279L1139 263L1166 244L1193 228L1220 222L1247 228L1274 244L1301 263L1328 279L1355 285L1382 279L1409 263L1436 244L1463 228L1490 222L1517 228L1544 244L1571 263L1598 279L1625 285L1652 279L1679 263L1706 244L1733 228"/></defs><path d="M5 285L32 279L59 263L86 244L113 228L140 222L167 228L194 244L221 263L248 279L275 285L302 279L329 263L356 244L383 228L410 222L437 228L464 244L491 263L518 279L545 285L572 279L599 263L626 244L653 228L680 222L707 228L734 244L761 263L788 279L815 285L842 279L869 263L896 244L923 228L950 222L977 228L1004 244L1031 263L1058 279L1085 285L1112 279L1139 263L1166 244L1193 228L1220 222L1247 228L1274 244L1301 263L1328 279L1355 285L1382 279L1409 263L1436 244L1463 228L1490 222L1517 228L1544 244L1571 263L1598 279L1625 285L1652 279L1679 263L1706 244L1733 228 L1800 800 L0 800 Z" fill="#1c1c1c"/><g fill="none" stroke-linecap="round" stroke-linejoin="round" filter="url(#b2)"><use href="#w3" y="0" stroke="#8a8a8a" stroke-width="6" opacity="0.85"/></g><defs><path id="w4" d="M0 470L27 479L54 501L81 529L108 551L135 560L162 551L189 529L216 501L243 479L270 470L297 479L324 501L351 529L378 551L405 560L432 551L459 529L486 501L513 479L540 470L567 479L594 501L621 529L648 551L675 560L702 551L729 529L756 501L783 479L810 470L837 479L864 501L891 529L918 551L945 560L972 551L999 529L1026 501L1053 479L1080 470L1107 479L1134 501L1161 529L1188 551L1215 560L1242 551L1269 529L1296 501L1323 479L1350 470L1377 479L1404 501L1431 529L1458 551L1485 560L1512 551L1539 529L1566 501L1593 479L1620 470L1647 479L1674 501L1701 529L1728 551L1755 560L1782 551L1809 529"/></defs><g fill="none" stroke-linecap="round" stroke-linejoin="round" filter="url(#b2)"><use href="#w4" y="0" stroke="#555" stroke-width="10" opacity="0.80"/><use href="#w4" y="30" stroke="#444" stroke-width="8" opacity="0.80"/><use href="#w4" y="60" stroke="#3a3a3a" stroke-width="10" opacity="0.80"/><use href="#w4" y="-30" stroke="#303030" stroke-width="8" opacity="0.80"/></g><defs><path id="w5" d="M0 632L27 637L54 649L81 665L108 677L135 682L162 677L189 665L216 649L243 637L270 632L297 637L324 649L351 665L378 677L405 682L432 677L459 665L486 649L513 637L540 632L567 637L594 649L621 665L648 677L675 682L702 677L729 665L756 649L783 637L810 632L837 637L864 649L891 665L918 677L945 682L972 677L999 665L1026 649L1053 637L1080 632L1107 637L1134 649L1161 665L1188 677L1215 682L1242 677L1269 665L1296 649L1323 637L1350 632L1377 637L1404 649L1431 665L1458 677L1485 682L1512 677L1539 665L1566 649L1593 637L1620 632L1647 637L1674 649L1701 665L1728 677L1755 682L1782 677L1809 665"/></defs><g fill="none" stroke-linecap="round" stroke-linejoin="round" filter="url(#b3)"><use href="#w5" y="-26" stroke="#3a3a3a" stroke-width="16" opacity="0.90"/><use href="#w5" y="20" stroke="#f4f4f4" stroke-width="42"/><use href="#w5" y="55" stroke="#e4e4e4" stroke-width="40"/><use href="#w5" y="95" stroke="#cecece" stroke-width="50"/><use href="#w5" y="140" stroke="#bcbcbc" stroke-width="60"/></g><g fill="none" stroke-linecap="round" stroke-linejoin="round" filter="url(#b2)"><use href="#w5" y="2" stroke="#fff" stroke-width="14"/><use href="#w5" y="78" stroke="#666" stroke-width="6" opacity="0.80"/><use href="#w5" y="108" stroke="#555" stroke-width="7" opacity="0.80"/></g><rect x="53.0" y="62.0" width="7.0" height="720.0" fill="#050505"/></g>
<rect x="456.00" y="642.50" width="339.20" height="142.60" filter="url(#spk)" opacity="0.15"/>
<rect x="456.00" y="648.50" width="339.20" height="34.00" filter="url(#strk)" opacity="0.16"/>
<rect x="456.00" y="760.50" width="339.20" height="24.60" filter="url(#dstrk)" opacity="0.40"/>
</g>
<clipPath id="c3"><rect x="113.70" y="804.00" width="339.30" height="142.40"/></clipPath>
<g clip-path="url(#c3)">
<rect x="113.70" y="804.00" width="339.30" height="142.40" fill="#0b0b0b"/>
<g transform="translate(100.00 790.00) scale(0.20088)" ><rect x="60.0" y="70.0" width="1700.0" height="125.0" fill="#222"/><defs><path id="w6" d="M20 194L32 199L45 211L58 223L70 228L80 223L90 212L100 201L110 196L100 196L90 195L80 194L70 194L148 194L225 194L302 194L380 194L392 199L405 211L418 223L430 228L440 223L450 212L460 201L470 196L460 196L450 195L440 194L430 194L508 194L585 194L662 194L740 194L752 199L765 211L778 223L790 228L800 223L810 212L820 201L830 196L820 196L810 195L800 194L790 194L868 194L945 194L1022 194L1100 194L1112 199L1125 211L1138 223L1150 228L1160 223L1170 212L1180 201L1190 196L1180 196L1170 195L1160 194L1150 194L1228 194L1305 194L1382 194L1460 194L1472 199L1485 211L1498 223L1510 228L1520 223L1530 212L1540 201L1550 196L1540 196L1530 195L1520 194L1510 194L1588 194L1665 194L1742 194"/></defs><path d="M20 194L32 199L45 211L58 223L70 228L80 223L90 212L100 201L110 196L100 196L90 195L80 194L70 194L148 194L225 194L302 194L380 194L392 199L405 211L418 223L430 228L440 223L450 212L460 201L470 196L460 196L450 195L440 194L430 194L508 194L585 194L662 194L740 194L752 199L765 211L778 223L790 228L800 223L810 212L820 201L830 196L820 196L810 195L800 194L790 194L868 194L945 194L1022 194L1100 194L1112 199L1125 211L1138 223L1150 228L1160 223L1170 212L1180 201L1190 196L1180 196L1170 195L1160 194L1150 194L1228 194L1305 194L1382 194L1460 194L1472 199L1485 211L1498 223L1510 228L1520 223L1530 212L1540 201L1550 196L1540 196L1530 195L1520 194L1510 194L1588 194L1665 194L1742 194 L1800 800 L0 800 Z" fill="#0b0b0b"/><g fill="none" stroke-linecap="round" stroke-linejoin="round" filter="url(#b2)"><use href="#w6" y="0" stroke="#a0a0a0" stroke-width="8"/><path d="M40 92H1770" stroke="#808080" stroke-width="7" opacity="0.80"/><path d="M40 150H1770" stroke="#444" stroke-width="10" opacity="0.80"/></g><defs><path id="w7" d="M22 690L58 697L93 714L129 736L164 753L200 760L236 753L272 736L308 714L344 697L380 690L416 697L451 714L487 736L522 753L558 760L594 753L630 736L666 714L702 697L738 690L774 697L809 714L845 736L880 753L916 760L952 753L988 736L1024 714L1060 697L1096 690L1132 697L1167 714L1203 736L1238 753L1274 760L1310 753L1346 736L1382 714L1418 697L1454 690L1490 697L1525 714L1561 736L1596 753L1632 760L1668 753L1704 736L1740 714L1776 697"/></defs><g fill="none" stroke-linecap="round" stroke-linejoin="round" filter="url(#b3)"><use href="#w7" y="-75" stroke="#1c1c1c" stroke-width="20" opacity="0.70"/><use href="#w7" y="-45" stroke="#242424" stroke-width="14" opacity="0.70"/><use href="#w7" y="-15" stroke="#333" stroke-width="12" opacity="0.80"/><use href="#w7" y="18" stroke="#d8d8d8" stroke-width="30"/><use href="#w7" y="50" stroke="#f0f0f0" stroke-width="40"/><use href="#w7" y="90" stroke="#f4f4f4" stroke-width="60"/></g><g fill="none" stroke-linecap="round" stroke-linejoin="round" filter="url(#b2)"><path d="M290 600l80 -75l85 75" stroke="#3a3a3a" stroke-width="5" opacity="0.8"/><path d="M290 630l80 -75l85 75" stroke="#3a3a3a" stroke-width="5" opacity="0.8"/><path d="M648 600l80 -75l85 75" stroke="#3a3a3a" stroke-width="5" opacity="0.8"/><path d="M648 630l80 -75l85 75" stroke="#3a3a3a" stroke-width="5" opacity="0.8"/><path d="M1006 600l80 -75l85 75" stroke="#3a3a3a" stroke-width="5" opacity="0.8"/><path d="M1006 630l80 -75l85 75" stroke="#3a3a3a" stroke-width="5" opacity="0.8"/><path d="M1364 600l80 -75l85 75" stroke="#3a3a3a" stroke-width="5" opacity="0.8"/><path d="M1364 630l80 -75l85 75" stroke="#3a3a3a" stroke-width="5" opacity="0.8"/></g></g>
<rect x="113.70" y="804.00" width="339.30" height="142.40" filter="url(#spk)" opacity="0.09"/>
<rect x="113.70" y="804.00" width="339.30" height="28.00" filter="url(#strk)" opacity="0.22"/>
<rect x="113.70" y="929.00" width="339.30" height="17.40" filter="url(#dstrk)" opacity="0.35"/>
</g>
<clipPath id="c4"><rect x="456.00" y="804.00" width="339.20" height="142.40"/></clipPath>
<g clip-path="url(#c4)">
<rect x="456.00" y="804.00" width="339.20" height="142.40" fill="#1f1f1f"/>
<g transform="translate(445.00 790.00) scale(0.20088)" ><rect x="50.0" y="70.0" width="1700.0" height="12.0" fill="#050505"/><rect x="50.0" y="80.0" width="1700.0" height="85.0" fill="#8a8a8a"/><rect x="50.0" y="118.0" width="1700.0" height="35.0" fill="#c0c0c0" opacity="0.80"/><rect x="50.0" y="165.0" width="1700.0" height="125.0" fill="#3a3a3a"/><rect x="50.0" y="295.0" width="1700.0" height="330.0" fill="#1f1f1f"/><g fill="none" stroke-linecap="round" stroke-linejoin="round" filter="url(#b2)"><path d="M40 290H1770" stroke="#b0b0b0" stroke-width="7"/><path d="M40 205H1770" stroke="#8a8a8a" stroke-width="7" opacity="0.70"/><path d="M40 250H1770" stroke="#5a5a5a" stroke-width="7" opacity="0.70"/></g><defs><path id="w8" d="M-5 668L30 664L65 654L100 642L135 632L170 628L204 632L238 642L272 654L306 664L340 668L375 664L410 654L445 642L480 632L515 628L549 632L583 642L617 654L651 664L685 668L720 664L755 654L790 642L825 632L860 628L894 632L928 642L962 654L996 664L1030 668L1065 664L1100 654L1135 642L1170 632L1205 628L1239 632L1273 642L1307 654L1341 664L1375 668L1410 664L1445 654L1480 642L1515 632L1550 628L1584 632L1618 642L1652 654L1686 664L1720 668L1755 664L1790 654"/></defs><g fill="none" stroke-linecap="round" stroke-linejoin="round" filter="url(#b3)"><use href="#w8" y="25" stroke="#4a4a4a" stroke-width="30"/><use href="#w8" y="55" stroke="#7a7a7a" stroke-width="30"/><use href="#w8" y="85" stroke="#d8d8d8" stroke-width="30"/><use href="#w8" y="115" stroke="#f0f0f0" stroke-width="40"/><use href="#w8" y="150" stroke="#b8b8b8" stroke-width="50"/></g><g fill="none" stroke-linecap="round" stroke-linejoin="round" filter="url(#b2)"><use href="#w8" y="0" stroke="#b4b4b4" stroke-width="9"/><use href="#w8" y="95" stroke="#fff" stroke-width="12"/><use href="#w8" y="-45" stroke="#484848" stroke-width="6" opacity="0.80"/></g><ellipse cx="500" cy="770" rx="70" ry="11" fill="#666" opacity="0.7" filter="url(#b6)"/><ellipse cx="845" cy="770" rx="70" ry="11" fill="#666" opacity="0.7" filter="url(#b6)"/><ellipse cx="1190" cy="770" rx="70" ry="11" fill="#666" opacity="0.7" filter="url(#b6)"/><ellipse cx="1535" cy="770" rx="70" ry="11" fill="#666" opacity="0.7" filter="url(#b6)"/><rect x="53.0" y="70.0" width="5.0" height="720.0" fill="#111"/></g>
<rect x="456.00" y="804.00" width="339.20" height="142.40" filter="url(#spk)" opacity="0.17"/>
<rect x="456.00" y="806.00" width="339.20" height="43.00" filter="url(#strk)" opacity="0.30"/>
<rect x="456.00" y="822.00" width="339.20" height="28.00" filter="url(#dstrk)" opacity="0.50"/>
<rect x="456.00" y="916.00" width="339.20" height="30.40" filter="url(#dstrk)" opacity="0.40"/>
</g>
<clipPath id="c5"><rect x="115.50" y="1130.50" width="335.70" height="252.10"/></clipPath>
<g clip-path="url(#c5)">
<rect x="115.50" y="1130.50" width="335.70" height="252.10" fill="#cf98c0"/>
<g transform="rotate(-52.0 283.4 1256.5)"><rect x="-18.8" y="954.4" width="604.3" height="604.3" filter="url(#fib)" opacity="0.42"/></g>
<g transform="rotate(-52.0 283.4 1256.5)"><rect x="-18.8" y="954.4" width="604.3" height="604.3" filter="url(#gapn)" opacity="0.80"/></g>
<g transform="rotate(0.0 283.4 1256.5)"><rect x="-18.8" y="954.4" width="604.3" height="604.3" filter="url(#tis)" opacity="0.30"/></g>
<g transform="rotate(0.0 283.4 1256.5)"><rect x="-18.8" y="954.4" width="604.3" height="604.3" filter="url(#tisd)" opacity="0.30"/></g>
<g transform="translate(100.00 1115.00) scale(0.20088)" ><ellipse cx="1500" cy="1200" rx="500" ry="300" fill="#c48cb4" opacity="0.35" filter="url(#b40)" transform="rotate(0 1500 1200)"/><ellipse cx="200" cy="1200" rx="400" ry="250" fill="#c48cb4" opacity="0.30" filter="url(#b40)" transform="rotate(0 200 1200)"/><ellipse cx="700" cy="300" rx="300" ry="200" fill="#f6dcf0" opacity="0.50" filter="url(#b40)" transform="rotate(-40 700 300)"/><path d="M60.0 455.0 L200.0 490.0 L330.0 485.0 L490.0 428.0 L420.0 500.0 L330.0 570.0 L210.0 620.0 L120.0 612.0 L60.0 595.0 Z" fill="#f1f1f0" filter="url(#b2)"/><path d="M1715.0 70.0 L1760.0 70.0 L1760.0 460.0 L1735.0 400.0 L1715.0 250.0 Z" fill="#f1f1f0" filter="url(#b2)"/><path d="M1575.0 450.0 L1610.0 520.0 L1690.0 640.0 L1760.0 740.0 L1760.0 810.0 L1700.0 760.0 L1620.0 640.0 L1585.0 540.0 Z" fill="#f1f1f0" filter="url(#b2)"/><path d="M1660.0 860.0 L1700.0 900.0 L1760.0 960.0 L1760.0 1000.0 L1690.0 940.0 Z" fill="#f1f1f0" filter="url(#b2)"/><path d="M400 1310 L560 1060" fill="none" stroke="#f1f1f0" stroke-width="26.0" stroke-linecap="round" stroke-linejoin="round" filter="url(#b2)"/><path d="M560 1060 L720 900" fill="none" stroke="#f1f1f0" stroke-width="12.0" stroke-linecap="round" stroke-linejoin="round" filter="url(#b2)"/><path d="M870 560 L1040 380" fill="none" stroke="#f1f1f0" stroke-width="14.0" stroke-linecap="round" stroke-linejoin="round" filter="url(#b2)"/><path d="M700 480 L1020 200" fill="none" stroke="#f1f1f0" stroke-width="10.0" stroke-linecap="round" stroke-linejoin="round" filter="url(#b2)"/><path d="M1230 990 L1290 920" fill="none" stroke="#f1f1f0" stroke-width="20.0" stroke-linecap="round" stroke-linejoin="round" filter="url(#b2)"/><path d="M1240 1100 L1260 990" fill="none" stroke="#f1f1f0" stroke-width="18.0" stroke-linecap="round" stroke-linejoin="round" filter="url(#b2)"/><path d="M800 660 L930 590" fill="none" stroke="#f1f1f0" stroke-width="16.0" stroke-linecap="round" stroke-linejoin="round" filter="url(#b2)"/><path d="M820 960 L900 840" fill="none" stroke="#f1f1f0" stroke-width="12.0" stroke-linecap="round" stroke-linejoin="round" filter="url(#b2)"/><path d="M1590 1000 L1700 1150" fill="none" stroke="#f1f1f0" stroke-width="10.0" stroke-linecap="round" stroke-linejoin="round" filter="url(#b2)"/><path d="M1450 1180 L1520 1310" fill="none" stroke="#f1f1f0" stroke-width="10.0" stroke-linecap="round" stroke-linejoin="round" filter="url(#b2)"/><path d="M1300 470 L1330 420" fill="none" stroke="#f1f1f0" stroke-width="14.0" stroke-linecap="round" stroke-linejoin="round" filter="url(#b2)"/><path d="M190 1070 L470 830" fill="none" stroke="#f1f1f0" stroke-width="7.0" stroke-linecap="round" stroke-linejoin="round" filter="url(#b2)"/><path d="M470 830 L690 660" fill="none" stroke="#f1f1f0" stroke-width="7.0" stroke-linecap="round" stroke-linejoin="round" filter="url(#b2)"/><path d="M1160 170 L1200 80" fill="none" stroke="#f1f1f0" stroke-width="10.0" stroke-linecap="round" stroke-linejoin="round" filter="url(#b2)"/><path d="M990 1330 L1070 1130" fill="none" stroke="#f1f1f0" stroke-width="8.0" stroke-linecap="round" stroke-linejoin="round" filter="url(#b2)"/><path d="M600 1330 L740 1150" fill="none" stroke="#f1f1f0" stroke-width="8.0" stroke-linecap="round" stroke-linejoin="round" filter="url(#b2)"/><path d="M1180 330 L1230 150" fill="none" stroke="#f1f1f0" stroke-width="8.0" stroke-linecap="round" stroke-linejoin="round" filter="url(#b2)"/><path d="M1400 700 L1430 520" fill="none" stroke="#f1f1f0" stroke-width="8.0" stroke-linecap="round" stroke-linejoin="round" filter="url(#b2)"/><path d="M1100 800 L1150 650" fill="none" stroke="#f1f1f0" stroke-width="7.0" stroke-linecap="round" stroke-linejoin="round" filter="url(#b2)"/><path d="M930 430 L990 400" fill="none" stroke="#f1f1f0" stroke-width="14.0" stroke-linecap="round" stroke-linejoin="round" filter="url(#b2)"/><path d="M650 720 L800 600" fill="none" stroke="#f1f1f0" stroke-width="8.0" stroke-linecap="round" stroke-linejoin="round" filter="url(#b2)"/><path d="M1500 1100 L1560 1200" fill="none" stroke="#f1f1f0" stroke-width="8.0" stroke-linecap="round" stroke-linejoin="round" filter="url(#b2)"/><path d="M1620 1040 L1650 1100" fill="none" stroke="#f1f1f0" stroke-width="12.0" stroke-linecap="round" stroke-linejoin="round" filter="url(#b2)"/><path d="M297 1146l5 -3M907 640l7 -9M228 106l7 -3M1358 72l2 -11M456 1270l3 -1M113 757l7 -2M436 606l2 -5M810 699l2 -5M439 653l2 -2M1485 776l2 -5M1747 1162l-1 -6M1289 973l4 -6M1472 921l0 -9M1561 1144l2 -9M128 378l7 -3M362 766l9 -5M703 627l6 -10M950 569l2 -3M143 963l9 -3M735 286l7 -12M1372 755l3 -5M938 1279l4 -7M525 765l3 -1M1394 1112l6 -9M1437 728l2 -7M164 1174l4 -3M922 685l3 -6M980 861l5 -6M117 361l5 -8M1525 1084l5 -11M501 1139l3 -2M98 88l5 -3M255 863l2 -3M339 739l3 -5M1272 647l0 -8M109 560l3 -4M253 1212l4 -3M1093 1107l0 -3M317 982l6 -9M1216 761l0 -14M1418 726l0 -10M737 801l4 -9M169 449l12 -4M587 1160l8 -10M1327 598l0 -3M1555 118l6 -12M1033 287l10 -9M1259 716l1 -7M417 926l3 -4M246 915l5 -7M619 1176l3 -1M409 486l11 -4M643 340l10 -7M1645 506l5 -9M888 1321l3 -10M213 285l5 -2M1352 832l3 -6M645 439l9 -4M1682 1196l-1 -9M246 119l6 -11M1401 1122l1 -10M1391 550l1 -5M208 408l8 -3M1633 651l0 -12M1468 85l1 -4M264 1194l2 -5M1739 604l-1 -5M478 1014l6 -11M709 1302l5 -4M498 675l5 -9M136 83l6 -2M1078 641l1 -3M1613 1301l2 -3M433 854l8 -3M1233 910l0 -9M589 382l3 -5M1731 638l3 -9M1659 565l0 -6M605 1145l6 -2M635 761l7 -6M484 95l2 -3M1001 160l2 -10M561 1076l9 -8M330 706l3 -2M1674 290l6 -12M1458 476l-1 -8M1623 442l2 -4M1608 110l1 -13M1428 1222l5 -10M1235 296l1 -5M1278 918l0 -4M1698 1096l2 -9M1508 645l1 -7M505 100l6 -4M1034 149l2 -4M281 399l7 -3M747 847l1 -3M963 706l5 -6M1230 998l0 -8M879 355l4 -8M1602 1235l0 -10M151 160l9 -8M339 1042l6 -2M1240 1148l1 -11M1314 825l6 -11M1692 795l0 -6M437 793l3 -2M1221 980l1 -9M348 996l6 -12M1435 868l0 -13M1691 246l5 -11M1184 959l2 -13M1711 555l3 -7M348 483l6 -11M1691 221l2 -7M269 445l6 -9M76 311l2 -2M1130 839l2 -4M551 758l6 -8M493 938l11 -5M1715 762l2 -12M1369 794l1 -6M252 1095l5 -10M991 1295l9 -10M300 705l5 -4M920 523l1 -2M817 640l3 -7M1393 937l2 -10M708 328l1 -6M1080 1189l6 -6M1738 656l4 -6M1328 1324l0 -5M1117 744l0 -3M727 610l5 -11M1057 1001l9 -7M902 1017l6 -8M1134 586l3 -9M1653 1063l6 -10M1447 838l0 -6M1266 1179l1 -4M1477 685l1 -3M932 1015l3 -6M1180 95l3 -13M1236 580l4 -9M423 333l5 -2M196 1124l5 -5M934 1005l2 -10M1275 1105l0 -10M462 782l6 -10M1534 488l0 -14M1264 1141l-3 -13M1121 471l2 -11M1397 311l1 -4M1714 633l6 -9M1094 402l2 -4M303 979l7 -8M476 982l5 -3M249 574l3 -3M385 140l10 -8M435 114l10 -6M1699 848l1 -12M269 949l3 -6M906 549l1 -5M1456 657l1 -5M1278 489l4 -12M1750 128l6 -11M610 556l10 -8M745 1187l3 -3M1614 89l-1 -10M166 551l4 -7M1489 1220l-1 -3M1490 124l0 -4M223 105l9 -6M1230 1143l2 -7M1136 1301l2 -5M171 1257l5 -4M1093 781l2 -3M666 594l7 -11M786 911l7 -8M1288 1025l0 -14M325 1236l11 -5M159 185l7 -4M695 1320l4 -8M819 232l4 -10M1561 101l1 -4M1422 178l-1 -7M1308 467l-1 -12M1433 1156l0 -8M484 777l4 -5M1394 1284l1 -4M1172 639l6 -9M1480 960l3 -12M1475 439l-1 -7M950 193l4 -9M143 1104l5 -4M574 517l7 -9M916 738l3 -13M620 486l6 -12M880 1229l11 -9M1448 1245l6 -10M297 735l11 -9M1394 962l3 -6M1662 887l1 -8M1725 745l0 -4M1231 784l3 -4M764 994l1 -4M992 407l1 -6M1138 738l-1 -4M1507 886l-1 -12M106 537l10 -4M549 1201l10 -8M1578 610l3 -8M1666 1083l5 -11M1756 395l-1 -11M1371 723l1 -7M1561 1081l1 -3M1508 652l0 -6M1238 76l-1 -6M1569 1018l5 -7M1036 770l5 -8M1453 1280l1 -10M590 453l7 -6M999 1310l2 -10M1750 1004l2 -7M749 1259l8 -7M1588 1244l3 -6M854 1080l4 -10M883 497l2 -4M669 597l2 -4M509 1159l5 -4M1756 397l2 -11M1238 620l4 -7M1279 694l6 -9M224 234l5 -2M114 391l10 -9M744 988l3 -3M1104 1334l2 -9M655 1271l4 -1M1004 602l3 -3M518 424l9 -8M1519 1068l1 -4M728 919l3 -8M1599 217l2 -3M722 1219l2 -8M774 1197l5 -3M902 1206l3 -4M1353 498l1 -3M1741 904l7 -11M522 756l8 -8M1493 360l0 -11M765 235l2 -9M1081 1289l5 -8M321 595l6 -8M521 342l5 -6M641 839l7 -11M1243 749l-1 -6M1236 889l6 -11M602 697l3 -3M306 395l4 -8M1257 785l2 -5M406 790l7 -3M77 95l6 -8M212 355l12 -8M646 833l2 -2M627 247l7 -9M1221 122l-2 -11M244 472l2 -3M122 246l9 -10M1148 377l2 -5M940 478l5 -4M1428 884l5 -8M1540 584l3 -9M961 786l4 -6M1588 873l1 -3M929 292l2 -7M992 388l3 -8M869 582l1 -7M1175 761l3 -12M1292 939l-1 -6M1223 267l2 -4M1555 344l6 -11M636 1198l6 -11M715 628l2 -9M525 916l9 -4M83 1279l9 -4M711 783l6 -5M1386 830l2 -13M760 839l1 -8M133 964l1 -3M257 247l5 -5M527 1319l9 -4M1425 1111l0 -12M475 784l3 -3M1382 1233l1 -13M655 905l11 -3M164 622l4 -5M1449 630l4 -9M947 141l8 -10M361 886l5 -4M1270 1308l-3 -13M717 1128l3 -11M238 496l10 -3M1395 655l2 -8M1376 988l0 -8M986 795l10 -8M323 547l1 -3M196 302l9 -5M1418 436l-1 -14M1465 1272l-2 -7M1141 1004l5 -7M730 76l10 -10M1603 911l0 -5M1379 1257l3 -4M1059 721l5 -10M1651 990l4 -10M1174 751l0 -12M271 887l6 -7M1154 678l3 -4M90 1283l4 -5M772 825l9 -6M607 749l6 -6M775 282l3 -6M409 1107l3 -3M1028 1142l7 -7M1305 496l-1 -6M660 424l3 -3M290 390l6 -10M978 321l6 -11M1046 773l2 -5M1126 167l2 -3M1331 555l3 -9M288 753l2 -5M715 432l9 -11M673 1135l6 -9M657 749l6 -11M422 658l7 -9M1071 851l4 -4M168 1122l7 -9M1686 869l-2 -12M1140 382l0 -8M275 1220l10 -6M718 1242l2 -11M500 74l2 -4M1360 550l2 -9M522 880l11 -7M919 1156l9 -7M781 415l2 -12M289 780l2 -2M432 1115l10 -8M1604 189l1 -3M784 631l8 -6M391 717l4 -3M677 1184l11 -4M179 1220l9 -8M368 257l6 -2M142 706l12 -4M739 1331l9 -9M1161 570l4 -7M1649 771l4 -7M791 817l2 -4M1065 1150l4 -12M1400 1055l2 -14M1406 801l-1 -9M94 1215l4 -5M1000 879l5 -7M1142 1145l1 -8M1439 74l-1 -6M431 1207l2 -3M606 715l13 -6M1509 843l-1 -3M1135 1111l0 -14M1000 798l2 -3M357 1258l2 -3M547 992l3 -4M538 680l5 -3M1546 1309l2 -3M603 1245l4 -2M817 532l2 -2M603 1022l3 -1M1064 912l6 -5M1714 320l-1 -4M1061 225l2 -5M163 1292l9 -10M1292 349l2 -2M1728 110l0 -9M85 1041l5 -11M129 740l3 -5M898 541l4 -9M399 300l5 -3M1646 611l1 -3M104 203l8 -6M1679 619l3 -6M195 603l10 -6M1678 1126l2 -9M916 676l6 -7M1518 641l2 -12M1211 736l3 -11M1096 399l3 -9M147 651l5 -2M820 958l8 -7M1127 557l2 -10M672 1066l4 -10M1324 459l-1 -6M1065 1069l4 -3M208 222l10 -3M286 947l9 -3M463 1292l4 -3M1364 710l2 -7M566 603l6 -5M1533 164l-1 -13M1097 854l3 -4M737 336l3 -14M1327 1186l-2 -10M589 702l3 -2M696 773l8 -3M606 836l5 -4M996 420l1 -6M216 694l9 -8M1333 1021l3 -5M699 362l4 -8" fill="none" stroke="#4f449c" stroke-width="8.0" stroke-linecap="round" opacity="0.85" filter="url(#b2)"/><path d="M934 234l7 -6M185 74l3 -6M1510 154l-1 -6M632 93l1 -3M408 445l3 -2M464 337l3 -1M1008 644l2 -4M97 305l6 -4M439 294l2 -1M1413 1185l-1 -8M323 124l3 -3M1066 632l5 -5M271 327l2 -1M1679 1100l0 -4M496 607l1 -2M495 317l3 -4M1547 907l2 -8M723 611l2 -7M1552 1226l1 -3M192 1082l5 -2M1626 1252l2 -4M841 516l2 -5M98 231l3 -5M1543 973l0 -5M1130 241l-1 -6M467 889l4 -7M593 614l6 -5M1618 1142l1 -2M385 748l7 -2M393 522l5 -2M1540 1159l3 -6M1195 504l-1 -9M125 414l7 -5M425 383l4 -2M750 526l1 -9M1249 78l0 -3M693 1200l2 -3M596 718l5 -2M1597 758l1 -8M1051 673l2 -4M801 164l2 -7M295 334l2 -4M153 527l5 -4M1535 180l1 -3M648 800l6 -3M1735 92l0 -5M131 136l4 -4M299 156l4 -6M1028 1335l5 -7M1038 680l1 -2M176 906l2 -1M374 485l5 -6M496 458l6 -6M567 874l2 -4M1636 346l1 -6M1025 801l4 -5M615 516l4 -4M1028 1179l2 -5M1477 1303l0 -7M488 1011l2 -5M1033 958l6 -5M1021 701l1 -6M1020 1012l1 -6M157 991l4 -2M1232 911l0 -2M1351 523l0 -5M1477 1281l2 -8M363 692l1 -3M1551 145l2 -5M1739 1331l0 -4M1745 489l-1 -8M1113 461l1 -5M843 771l1 -6M1684 821l2 -3M331 78l3 -1M712 901l4 -5M812 1104l4 -7M161 986l2 -4M819 301l4 -7M131 316l5 -2M728 1229l2 -2M1080 299l4 -4M1419 152l2 -3M1506 630l1 -2M160 664l5 -2M927 278l3 -4M1570 1011l1 -3M316 1303l3 -2M1440 344l1 -8M244 200l1 -3M702 478l1 -2M893 635l3 -3M1052 467l2 -2M897 636l3 -5M976 471l6 -6M1014 877l3 -3M1070 657l2 -4M976 347l1 -3M1074 381l6 -6M1353 486l2 -4M681 826l4 -3M1399 1153l0 -3M741 957l2 -2M726 1215l5 -4M1388 1136l0 -2M1103 558l2 -4M803 1096l1 -5M328 747l8 -5M1343 253l1 -6M1147 960l5 -7M422 271l3 -1M1706 222l1 -3M296 493l6 -3M606 244l2 -2M467 701l6 -6M221 746l2 -2M679 245l4 -2M179 673l6 -5M1285 331l1 -2M1248 123l1 -3M1417 1103l1 -2M746 203l6 -7M953 897l2 -2M697 513l4 -2M691 767l1 -2M472 96l4 -3M1112 791l-1 -8M1453 79l1 -7M772 1161l4 -5M1600 1059l1 -2M838 944l3 -5M660 1138l4 -5M808 258l0 -3M557 669l1 -2M1415 1314l1 -5M1088 193l4 -6M1665 886l1 -5M1610 734l1 -7M809 155l5 -7M694 192l4 -7" fill="none" stroke="#352c7e" stroke-width="7.0" stroke-linecap="round" opacity="0.85" filter="url(#b2)"/></g>
<rect x="115.50" y="1130.50" width="335.70" height="252.10" fill="url(#vig)"/>
<g transform="translate(100.00 1115.00) scale(0.20088)" ><path d="M1500 1293 H1735" fill="none" stroke="#3a2a36" stroke-width="7.0" stroke-linecap="butt" stroke-linejoin="round" opacity="0.90"/></g>
</g>
<clipPath id="c6"><rect x="456.00" y="1130.50" width="336.00" height="252.10"/></clipPath>
<g clip-path="url(#c6)">
<rect x="456.00" y="1130.50" width="336.00" height="252.10" fill="#cd98be"/>
<g transform="rotate(-24.0 624.0 1256.5)"><rect x="321.6" y="954.1" width="604.8" height="604.8" filter="url(#fib)" opacity="0.38"/></g>
<g transform="rotate(-24.0 624.0 1256.5)"><rect x="321.6" y="954.1" width="604.8" height="604.8" filter="url(#gapn)" opacity="0.40"/></g>
<g transform="rotate(0.0 624.0 1256.5)"><rect x="321.6" y="954.1" width="604.8" height="604.8" filter="url(#tis)" opacity="0.30"/></g>
<g transform="rotate(0.0 624.0 1256.5)"><rect x="321.6" y="954.1" width="604.8" height="604.8" filter="url(#tisd)" opacity="0.25"/></g>
<g transform="translate(445.00 1115.00) scale(0.20088)" ><ellipse cx="1500" cy="1100" rx="500" ry="400" fill="#c890b8" opacity="0.35" filter="url(#b40)" transform="rotate(0 1500 1100)"/><ellipse cx="300" cy="1200" rx="500" ry="300" fill="#c890b8" opacity="0.30" filter="url(#b40)" transform="rotate(0 300 1200)"/><ellipse cx="700" cy="450" rx="450" ry="120" fill="#f6dcf0" opacity="0.60" filter="url(#b40)" transform="rotate(-25 700 450)"/><ellipse cx="1300" cy="300" rx="350" ry="120" fill="#f2d0ea" opacity="0.50" filter="url(#b40)" transform="rotate(-25 1300 300)"/><path d="M150.0 70.0 L310.0 70.0 L320.0 180.0 L245.0 265.0 L255.0 325.0 L105.0 400.0 L92.0 500.0 L45.0 525.0 L45.0 265.0 L125.0 185.0 Z" fill="#f1f1f0" filter="url(#b2)"/><path d="M410.0 70.0 C428.3 70.0 510.0 53.3 520.0 70.0 C530.0 86.7 494.2 133.0 470.0 170.0 C445.8 207.0 393.3 273.7 375.0 292.0 C356.7 310.3 355.8 298.7 360.0 280.0 C364.2 261.3 393.3 196.7 400.0 180.0 Z" fill="#f1f1f0" filter="url(#b2)"/><path d="M640.0 70.0 C653.7 70.0 722.0 48.3 722.0 70.0 C722.0 91.7 673.7 161.7 640.0 200.0 C606.3 238.3 565.0 269.2 520.0 300.0 C475.0 330.8 373.3 386.7 370.0 385.0 C366.7 383.3 461.7 324.2 500.0 290.0 C538.3 255.8 583.3 198.3 600.0 180.0 Z" fill="#f1f1f0" filter="url(#b2)"/><path d="M918.0 70.0 C925.3 70.0 965.0 48.3 962.0 70.0 C959.0 91.7 930.3 160.0 900.0 200.0 C869.7 240.0 786.7 310.0 780.0 310.0 C773.3 310.0 846.7 218.3 860.0 200.0 Z" fill="#f1f1f0" filter="url(#b2)"/><path d="M1098.0 70.0 C1104.2 70.0 1138.0 55.0 1135.0 70.0 C1132.0 85.0 1099.2 134.2 1080.0 160.0 C1060.8 185.8 1023.3 226.7 1020.0 225.0 C1016.7 223.3 1053.3 162.5 1060.0 150.0 Z" fill="#f1f1f0" filter="url(#b2)"/><path d="M45.0 850.0 C87.5 835.8 220.8 791.7 300.0 765.0 C379.2 738.3 463.3 715.8 520.0 690.0 C576.7 664.2 603.3 631.7 640.0 610.0 C676.7 588.3 708.3 575.0 740.0 560.0 C771.7 545.0 798.3 540.0 830.0 520.0 C861.7 500.0 900.0 471.7 930.0 440.0 C960.0 408.3 1005.0 328.3 1010.0 330.0 C1015.0 331.7 985.0 415.0 960.0 450.0 C935.0 485.0 893.3 515.0 860.0 540.0 C826.7 565.0 788.3 581.7 760.0 600.0 C731.7 618.3 723.3 631.3 690.0 650.0 C656.7 668.7 621.7 689.5 560.0 712.0 C498.3 734.5 405.8 760.3 320.0 785.0 C234.2 809.7 90.8 847.5 45.0 860.0 Z" fill="#f1f1f0" filter="url(#b2)"/><path d="M920.0 1088.0 L1000.0 1100.0 L1050.0 1180.0 L1200.0 1100.0 L1480.0 930.0 L1600.0 870.0 L1740.0 735.0 L1740.0 820.0 L1600.0 892.0 L1410.0 1050.0 L1240.0 1170.0 L1040.0 1340.0 L810.0 1340.0 L930.0 1200.0 Z" fill="#f1f1f0" filter="url(#b2)"/><path d="M1665 1273l3 -2M1461 1004l6 -1M1074 840l5 -1M777 569l14 -3M1654 761l5 -3M110 104l6 -3M692 1202l9 -2M449 100l4 -3M912 1338l5 0M1560 1081l13 0M1339 1072l13 -6M1675 274l11 -2M829 743l12 -6M896 1126l12 -5M1570 655l12 -5M1273 687l5 -4M1232 280l6 0M1590 463l11 0M902 727l9 -3M577 333l12 -5M1103 165l11 -1M1583 313l3 -1M1153 416l9 -8M229 733l6 0M405 1188l10 -4M103 530l7 -7M190 1282l8 -8M85 394l5 0M360 948l3 -1M1723 262l4 -5M1089 1012l5 -4M102 639l11 -2M1574 1029l11 1M848 356l6 -2M222 638l4 0M1038 569l4 -2M1671 399l7 -2M80 778l2 -2M106 274l6 -8M908 1319l14 3M442 634l7 -6M1104 1086l6 0M764 738l2 -3M740 211l5 -1M218 300l4 -3M930 659l8 -6M409 1221l11 2M783 719l3 -1M756 736l3 -3M1406 535l12 -5M1081 437l7 0M82 940l5 -4M1470 924l6 -5M744 687l7 -6M174 431l11 -7M179 1028l8 -5M712 658l7 -1M255 224l8 -9M1133 1288l3 0M1163 1057l8 0M654 650l6 -1M939 676l12 0M1625 1131l5 -2M876 399l9 -5M1602 814l4 0M651 1337l6 -4M162 179l14 0M1145 233l4 -3M1183 934l8 -3M239 756l11 0M212 725l6 -1M1562 655l7 -2M1731 1064l4 -1M795 107l12 -4M354 717l7 -3M1250 1259l8 0M1675 490l10 -2M1337 1152l8 -5M730 917l10 2M69 659l12 -3M1148 1106l10 -9M1282 840l13 2M219 1105l5 0M1307 814l10 -7M283 847l5 -2M1006 663l10 -9M173 73l11 -5M1162 1028l10 -3M615 409l3 -1M184 1027l9 -6M1375 583l11 -3M1510 241l5 -5M835 444l5 -7M1684 535l7 -3M798 1175l9 -4M867 753l4 0M1443 456l11 -3M1154 569l4 0M1120 566l11 -5M1398 868l5 -2M823 364l11 -8M239 1109l6 -3M588 168l4 -2M796 440l13 0M796 882l6 1M218 372l8 -7M681 522l5 -1M1416 873l11 -4M628 1185l8 2M1216 1274l11 0M1519 1258l14 0M542 860l7 -1M717 291l7 0M855 1204l11 -8M264 105l6 -4M1600 1191l8 0M967 370l7 -1M531 880l5 -4M1615 190l4 -4M474 603l5 -4M466 374l6 -2M680 1045l3 -3M1487 615l4 -1M933 1143l10 -5M1081 571l7 1M850 856l11 -5M1059 816l13 -3M1721 1137l7 -2M936 128l9 -10M266 1260l13 -1M180 458l3 0M229 515l3 -3M1181 186l10 1M134 1211l7 -4M994 246l3 -1M387 1236l9 1M1202 1181l7 -5M272 217l3 -4M139 343l8 -5M1501 1218l8 0M1599 277l8 -9M1109 337l5 -3M778 613l10 -6M1421 784l5 -3M1343 1323l9 -6M1231 905l7 -6M391 316l9 -3M1106 1012l8 0M130 1050l12 1M1060 118l3 -3M1124 761l10 -9M1702 1212l6 -2M402 1116l6 0M1575 792l6 -4M1267 648l4 -1M1236 415l5 0M613 753l7 -5M1611 325l10 -2M1378 638l6 -3M849 393l6 -6M374 666l6 -2M338 838l5 1M1090 906l10 1M570 333l6 -1M71 1175l5 -3M589 394l7 -1M794 602l3 0M1029 237l7 -7M684 152l12 -4M1140 699l13 -2M305 450l13 1M392 963l9 1M1236 735l4 -3M154 915l8 -6M711 623l7 0M852 552l4 -4M950 1108l10 -9M1189 138l7 -2M919 198l8 -4M1372 807l11 -1M423 101l4 -2M289 478l9 -4M1142 1267l7 -6M196 920l4 -1M574 908l13 -4M650 501l10 0M230 1065l12 -5M1124 1092l8 1M1684 102l10 -7M63 924l10 3M1507 167l9 -4M786 602l5 -1M126 823l12 3M1187 444l3 0M466 1070l7 1M1586 210l3 -1M444 311l4 -6M895 426l3 -1M924 740l11 -7M264 612l6 -3M1695 796l7 -3M789 1277l10 1M324 825l5 -4M88 965l10 2M1012 388l7 -4M764 412l8 -7M1659 1113l3 0M560 1136l9 2M1011 941l9 -5M666 1145l10 -3M989 749l12 -6M1325 603l12 -5M1312 899l4 1M1060 862l13 -4M1685 566l11 -4M1226 530l7 -1M298 914l7 -1M893 1324l7 0M1590 794l9 -5M1374 1208l10 -1M727 121l4 -2M1642 530l10 -4M351 1128l3 -2M1063 580l8 0M209 93l5 -7M1256 135l7 -5M1566 1302l10 1M1021 353l4 -1M562 1124l11 -2M836 424l8 -4M458 1143l5 1M459 1100l5 0M1040 372l9 -1M913 275l7 -4M661 298l8 -7M1613 1141l12 -2M275 336l3 -1M191 1059l4 -3M718 1132l9 -9M565 795l4 -2M1669 293l13 -1M817 1289l3 -3M867 164l9 -1M1400 433l8 -10M402 599l6 -7M834 321l4 -5M1374 265l7 -6M1123 1091l12 -1M312 1240l3 -3M225 1054l13 -3M1697 1279l7 -1M1667 1000l8 -5M84 92l10 -3M1505 1026l9 -7M1708 929l6 -2M157 864l4 1M1437 1210l11 -5M313 451l12 -5M955 183l9 0M1366 361l3 -2M365 625l9 -5M1458 494l10 0M632 304l10 0M122 939l7 -3M1343 353l7 -6M1578 179l11 -1M349 910l11 -1M957 468l5 -2M819 585l4 -4M631 569l10 -4M487 774l4 -3M286 1288l12 2M339 261l4 -5M770 79l9 -5M1459 311l7 -10M692 468l4 -4M499 396l6 -6M1424 462l7 -4M1473 1043l5 1M1411 444l8 -3M1021 478l2 -2M1617 1195l4 -1M1466 707l9 -4M316 347l11 -1M1712 620l13 1M907 1203l3 -2M1425 249l10 -5M1198 349l3 0M999 1210l6 -1M1735 993l13 1M1630 799l8 -1M481 423l2 -2M1097 578l3 0M1373 317l5 -4M1667 890l5 -1M130 536l8 0M1191 1188l5 -4M756 357l9 -6M277 951l9 -5M343 1072l11 -4M1685 808l5 -5M1699 898l8 0M1639 1221l9 -1M224 79l8 -7M1481 1047l3 0M98 394l6 -8M1621 1211l8 -6M1184 904l5 -2M1547 1217l9 0M105 421l4 -4M415 918l5 0M1574 70l9 0M1140 427l12 -3M396 237l6 -1M228 694l4 -4M529 177l9 -1M1154 440l13 -2M1739 123l3 -2M852 905l7 -1M1678 862l7 2M1139 195l9 -4M443 862l6 -5M1075 679l3 -4M683 898l5 -2M621 461l6 -7M845 483l7 -11M126 216l9 -7M1632 1034l10 -7M104 212l6 -7M1053 865l11 2" fill="none" stroke="#4f449c" stroke-width="8.0" stroke-linecap="round" opacity="0.85" filter="url(#b2)"/><path d="M1306 289l8 0M1449 172l5 -1M957 410l8 -1M1350 453l2 0M1200 108l1 -2M1153 1319l6 -2M1040 1138l7 2M610 161l4 0M1332 1168l3 -2M764 1142l9 1M511 861l4 1M1042 355l5 0M871 903l7 -3M826 615l6 -1M1249 1181l5 0M1138 1166l5 -4M941 581l3 -3M1317 1193l7 2M1537 1119l6 -4M1518 1025l6 -3M708 619l7 -1M279 883l2 -2M1443 1229l6 -4M358 702l2 -1M782 771l3 0M536 75l3 -3M1435 1262l4 -3M935 693l9 0M115 588l6 -3M946 1111l4 -3M1453 286l4 -4M295 762l2 -2M614 1064l6 -1M1110 573l6 0M1112 155l5 -4M1665 963l6 -5M408 826l2 -1M1355 687l7 -2M1053 598l5 -3M465 403l4 0M1268 932l7 -2M608 74l7 -1M1297 1238l5 -2M1085 1177l6 -3M1667 392l2 -2M1140 344l2 0M1562 519l4 0M237 927l8 -4M1440 395l5 -2M1356 405l5 -2M1043 775l4 -2M717 1332l2 -1M715 1042l2 0M748 643l4 0M1598 1103l4 -4M950 871l3 0M1450 81l4 0M94 1102l6 1M1365 574l5 -4M1416 410l3 -2M497 1170l1 -1M360 1066l7 -1M1225 1198l2 0M222 592l3 -3M514 1318l6 1M761 594l3 -4M292 745l5 0M1243 1104l5 1M450 1199l4 -1M1204 1166l4 1M497 387l3 -2M1604 875l2 -2M362 1299l7 -3M429 318l2 0M896 742l6 -4M1493 361l4 -3M860 873l4 0M1639 649l3 -4M945 302l6 0M928 431l3 -3M1133 937l2 0M1364 952l6 0M1492 1292l5 -1M964 1087l7 -1M572 834l5 -3M75 747l8 -2M869 1178l2 -1M984 506l5 -3M1327 1165l5 -3M1114 940l5 -1M1417 95l3 0M357 923l4 -1M182 135l2 -2M1227 325l4 -3M1240 1106l3 0M282 780l6 -4M415 947l4 -2M355 1028l6 -1M1456 104l4 -2M461 1122l4 -2" fill="none" stroke="#352c7e" stroke-width="7.0" stroke-linecap="round" opacity="0.85" filter="url(#b2)"/></g>
<rect x="456.00" y="1130.50" width="336.00" height="252.10" fill="url(#vig)"/>
<g transform="translate(445.00 1115.00) scale(0.20088)" ><path d="M1480 1293 H1712" fill="none" stroke="#3a2a36" stroke-width="7.0" stroke-linecap="butt" stroke-linejoin="round" opacity="0.90"/></g>
</g>
<clipPath id="c7"><rect x="115.50" y="1386.50" width="335.70" height="251.30"/></clipPath>
<g clip-path="url(#c7)">
<rect x="115.50" y="1386.50" width="335.70" height="251.30" fill="#d29abf"/>
<g transform="rotate(-12.0 283.4 1512.2)"><rect x="-18.8" y="1210.0" width="604.3" height="604.3" filter="url(#fib)" opacity="0.36"/></g>
<g transform="rotate(-30.0 283.4 1512.2)"><rect x="-18.8" y="1210.0" width="604.3" height="604.3" filter="url(#gapn)" opacity="0.50"/></g>
<g transform="rotate(0.0 283.4 1512.2)"><rect x="-18.8" y="1210.0" width="604.3" height="604.3" filter="url(#tis)" opacity="0.35"/></g>
<g transform="rotate(0.0 283.4 1512.2)"><rect x="-18.8" y="1210.0" width="604.3" height="604.3" filter="url(#tisd)" opacity="0.30"/></g>
<g transform="translate(100.00 1370.00) scale(0.20088)" ><ellipse cx="500" cy="330" rx="700" ry="240" fill="#f0a0d4" opacity="0.60" filter="url(#b40)" transform="rotate(-12 500 330)"/><ellipse cx="1400" cy="900" rx="450" ry="500" fill="#cc98bc" opacity="0.40" filter="url(#b40)" transform="rotate(0 1400 900)"/><path d="M60.0 205.0 C91.7 201.7 190.0 190.8 250.0 185.0 C310.0 179.2 375.0 174.5 420.0 170.0 C465.0 165.5 523.3 153.0 520.0 158.0 C516.7 163.0 445.0 188.8 400.0 200.0 C355.0 211.2 296.7 216.7 250.0 225.0 C203.3 233.3 151.7 242.5 120.0 250.0 C88.3 257.5 70.0 266.7 60.0 270.0 Z" fill="#f1f1f0" filter="url(#b2)"/><path d="M200.0 125.0 C230.0 121.7 318.3 111.7 380.0 105.0 C441.7 98.3 563.3 82.5 570.0 85.0 C576.7 87.5 476.7 110.8 420.0 120.0 C363.3 129.2 261.7 136.7 230.0 140.0 Z" fill="#f1f1f0" filter="url(#b2)"/><ellipse cx="780" cy="560" rx="330" ry="80" fill="#f2eaf4" opacity="0.75" filter="url(#b20)" transform="rotate(8 780 560)"/><ellipse cx="880" cy="790" rx="40" ry="120" fill="#f2eaf4" opacity="0.75" filter="url(#b20)" transform="rotate(-20 880 790)"/><ellipse cx="300" cy="1130" rx="260" ry="110" fill="#f2eaf4" opacity="0.75" filter="url(#b20)" transform="rotate(5 300 1130)"/><ellipse cx="620" cy="1200" rx="200" ry="60" fill="#f2eaf4" opacity="0.75" filter="url(#b20)" transform="rotate(-5 620 1200)"/><ellipse cx="200" cy="900" rx="80" ry="200" fill="#f2eaf4" opacity="0.75" filter="url(#b20)" transform="rotate(0 200 900)"/><ellipse cx="1020" cy="360" rx="130" ry="40" fill="#f2eaf4" opacity="0.75" filter="url(#b20)" transform="rotate(10 1020 360)"/><ellipse cx="1280" cy="470" rx="90" ry="30" fill="#f2eaf4" opacity="0.75" filter="url(#b20)" transform="rotate(30 1280 470)"/><path d="M295.0 925.0 L335.0 910.0 L365.0 945.0 L340.0 975.0 L300.0 970.0 Z" fill="#b0358a" filter="url(#b2)"/><path d="M80.0 565.0 L115.0 570.0 L110.0 600.0 L80.0 598.0 Z" fill="#a8305c" filter="url(#b2)"/><ellipse cx="360" cy="520" rx="90" ry="40" fill="#e070b4" opacity="0.70" filter="url(#b6)" transform="rotate(-10 360 520)"/><ellipse cx="640" cy="500" rx="80" ry="30" fill="#e070b4" opacity="0.70" filter="url(#b6)" transform="rotate(-15 640 500)"/><ellipse cx="150" cy="330" rx="200" ry="40" fill="#e070b4" opacity="0.70" filter="url(#b6)" transform="rotate(-5 150 330)"/><ellipse cx="330" cy="800" rx="80" ry="50" fill="#e070b4" opacity="0.70" filter="url(#b6)" transform="rotate(-20 330 800)"/><ellipse cx="800" cy="220" rx="90" ry="35" fill="#e070b4" opacity="0.70" filter="url(#b6)" transform="rotate(-25 800 220)"/><path d="M1090 868l3 -10M1068 459l6 3M234 251l5 4M1129 459l5 -3M1744 925l10 6M426 1127l2 -2M1513 1327l6 2M145 985l10 6M200 835l4 -5M1101 276l5 3M103 855l3 -8M1264 1009l3 -8M1071 483l5 -4M1076 458l3 1M446 1092l4 -5M634 1130l4 2M832 363l4 -1M1433 1136l8 -7M528 516l6 -3M1625 276l9 7M558 509l3 -7M555 1100l8 5M957 601l6 0M496 1165l5 2M1432 1117l11 0M961 612l2 1M162 239l5 -11M603 476l8 0M712 180l7 -4M1122 623l9 -2M244 820l5 -8M144 195l4 2M109 1140l8 4M934 981l11 3M1469 385l6 -6M740 521l3 -7M1156 1210l4 -9M570 968l7 4M521 354l6 -2M859 369l9 2M1690 1155l3 -4M386 967l4 3M1301 188l5 2M233 1266l9 3M261 702l9 2M843 473l4 -9M487 1048l5 -4M1299 312l9 -4M317 582l8 -2M120 1091l5 4M132 710l7 -3M1690 1203l8 3M155 533l3 -7M1349 691l1 -3M1349 585l8 5M690 547l5 0M312 659l3 -3M752 292l2 -4M898 155l6 -2M348 864l1 -3M1133 514l12 1M1070 84l2 -4M1095 1272l8 -7M1219 1249l9 2M683 602l7 2M1214 202l8 4M476 141l8 0M974 317l4 -9M406 1205l4 -1M1089 641l7 3M854 997l6 -4M431 521l5 -4M212 354l8 6M1648 312l5 1M947 885l5 1M800 514l5 1M1550 549l5 -4M479 1096l4 -6M975 288l6 -8M1724 124l2 -6M228 472l6 2M1436 391l10 3M542 292l11 0M770 733l5 -7M664 653l11 -4M1643 851l8 -1M894 432l3 2M399 1240l9 -5M1726 179l2 -2M1136 1110l9 -8M522 768l8 -8M313 1220l6 6M1163 259l4 1M390 1116l4 -11M973 561l10 -6M544 245l3 -5M1616 176l9 7M973 1129l11 -1M761 1179l3 -10M957 1045l7 -1M317 836l6 -1M607 531l8 8M1720 419l9 -2M963 636l3 -6M1502 1059l5 3M1728 541l11 -2M680 458l5 -3M1108 255l4 -3M709 678l3 -3M1461 834l2 -5M82 1128l5 -4M934 624l7 0M233 1313l3 -6M1343 1329l2 -7M630 607l4 2M114 1258l3 0M462 670l5 -1M412 456l4 -6M1117 527l9 6M1317 336l5 -2M397 1177l10 5M272 1231l3 -3M133 708l9 5M1243 508l4 -5M367 1026l8 -1M1131 637l10 4M1588 943l11 5M654 1334l6 -7M642 1002l3 -7M1054 1118l4 -9M1003 461l7 4M1020 565l5 -1M401 594l1 -3M601 1266l5 4M450 655l8 -6M349 920l6 -1M725 138l4 0M1626 335l7 6M888 1010l9 -1M1090 283l11 0M303 88l6 2M515 963l7 -6M624 1303l6 2M1422 515l3 -1M1079 445l2 -5M283 1339l10 -6M276 709l8 -8M584 675l3 -2M144 1294l4 -9M936 1292l4 -8M1017 572l3 0M586 1009l5 -2M1687 680l2 -2M478 308l4 -6M501 1193l5 -4M137 1003l8 -5M530 356l5 -6M1155 996l7 2M408 577l11 2M398 1202l12 2M303 1058l4 -7M1601 628l7 -8M783 477l4 3M100 1275l10 -6M457 1215l3 -3M927 455l8 6M266 618l4 3M556 1271l4 3M743 514l5 0M279 805l5 3M356 493l6 -5M757 501l9 -3M880 561l5 3M681 541l7 -1M907 649l4 1M365 1081l3 -7M250 1031l10 2M544 914l6 -7M432 968l10 0M1249 97l12 -2M436 819l6 3M952 923l10 2M1522 434l6 -9M810 571l5 1M638 1045l2 -2M1085 539l7 0M574 1149l6 -2M294 787l1 -4M407 1286l5 -1M145 1075l6 -5M946 512l6 -1M976 517l1 -4M228 1152l6 -7M456 1336l4 -3M167 1240l7 5M586 235l3 1M70 897l5 -6M349 1122l7 7M426 1034l5 2M582 1219l7 -4M552 1314l5 1M398 1001l4 0M1065 645l11 3M122 1078l5 0M505 1253l9 -3M720 739l9 5M90 792l2 -6M1067 518l7 3M1129 486l8 8M72 327l4 1M356 1045l5 5M1588 1112l6 2M1018 461l4 -5M915 273l5 0M1012 616l2 -4M1087 223l9 -4M220 1249l4 3M415 1012l8 -1M1342 940l8 -2M1413 1103l8 1M1655 83l4 4M1271 1171l3 -5M1640 1068l3 -11M764 212l4 1M899 1026l12 2M209 1110l3 -8M82 1150l9 6M300 587l3 1M487 487l6 -1M1527 386l5 2M817 511l7 -8M290 778l7 -2M1611 334l10 0M1408 1032l6 3M631 461l11 -4M404 1229l5 -10M532 1229l3 2M819 242l6 -1M613 1211l10 -4M253 252l10 -4M547 439l1 -2M1253 151l6 -4M1599 523l1 -3M434 1192l11 -4M1703 1044l6 -4M506 517l7 -7M1089 641l9 0M108 1142l10 -6M1348 521l6 -3M500 1039l8 -7M1659 901l3 -3M699 884l6 -2M918 311l5 2M743 522l5 -5M291 957l5 -10M1066 525l8 4M974 956l3 1M794 634l7 0M564 667l7 -7M71 1147l5 0M612 1128l6 -7M1662 378l9 7M515 1063l7 2M1253 446l2 -4M1616 620l2 -2M188 401l7 5M1179 1105l5 3M1132 588l4 -3M492 993l3 -5M1029 549l8 4M1659 747l4 -9M722 332l9 2M422 1001l8 -1M659 1156l9 -2M1113 451l11 -2M237 1316l7 7M1681 803l5 -7M222 169l5 1M638 674l10 1M864 719l2 -3M977 743l3 0M314 1264l6 3M622 1138l8 -2M1749 966l11 -4M1514 544l7 -7M374 1203l9 1M1688 437l8 -2M893 1230l7 -2M404 652l9 -5M1736 1301l10 -6M210 192l6 5M1029 471l3 -2M692 139l9 6M725 1032l7 -6M381 921l7 -1M458 1226l3 -1M1294 583l8 2M663 919l10 4M390 354l8 -7M326 1147l6 0M196 833l10 3M158 1296l9 8M445 447l8 5M864 609l9 -3M251 303l10 -5M1458 449l5 -1M1290 401l4 1M969 696l4 -11M1179 937l5 -5M170 1093l4 -7M464 1337l2 0M1288 1282l5 0M1381 247l9 4M803 111l8 3M1185 590l4 -5M386 399l8 -7M692 483l10 -4M737 649l6 5M1100 599l9 -3M908 88l8 -5M715 99l6 -8M455 1316l2 -2M1200 764l4 3M1730 1131l2 -4M271 1195l6 -2M909 630l10 -5M672 801l5 2M681 1109l2 -6M540 1062l4 -4M830 325l4 -2M500 1071l2 -1M1360 411l11 3M948 519l3 -10M394 1021l7 1M209 797l1 -3M531 641l7 -2M528 677l5 -9M694 651l8 -8M1454 461l2 2M1196 1229l4 3M1632 838l4 -6M621 1219l4 -5M680 89l8 6M481 855l8 3M1448 480l5 -10M464 611l9 5M131 1305l6 -10M277 1320l3 -6M252 994l6 5M1091 391l8 -4M1483 966l4 -11M618 1008l2 -2M496 1032l3 -10M436 867l4 2M1515 616l4 4M229 1155l7 -4M647 1207l5 -4M431 446l3 2M556 670l4 0M729 987l5 -9M70 180l5 2M172 1227l5 -7M745 1034l6 -4M490 1096l6 -5M1413 733l3 -9M536 547l6 0M1162 371l3 2M947 678l8 4M532 481l2 -8M611 440l3 -1M728 474l8 4M711 1190l7 -7M1069 526l3 -2M143 852l2 -2M1579 1110l7 5M704 1210l1 -2M1009 466l2 -6M947 632l5 -11M631 684l10 -1M689 675l3 2M450 1047l2 -5M854 652l4 -3M366 718l7 -9M512 1030l8 5M217 908l3 -3M868 612l4 3M818 576l2 -4M344 93l6 4M886 528l9 6M206 1019l3 2M648 84l3 0M262 156l4 -1M1379 954l3 1M104 769l3 -6M887 766l1 -2M613 1324l8 2M1523 1092l8 -6M1161 1157l6 3M1314 633l12 1M1537 1085l4 -3M1057 618l9 -8M451 109l1 -4M1728 807l1 -2M785 532l5 3M584 1050l8 -2M647 993l5 2M182 1170l9 3M1112 593l2 -4M611 496l6 5M910 946l7 5M481 689l3 0M651 570l10 2M710 1109l7 -7M866 595l5 3M769 565l2 -6M558 1029l10 0M888 1124l7 1M1504 877l8 6M616 1311l6 -8M451 610l7 -2M456 478l7 -4M267 388l4 -2M1448 402l4 1M1487 747l12 2M1676 1324l9 -5M739 639l11 3M211 875l10 -2M878 544l11 2M985 469l2 -1M288 1288l3 -9M895 518l12 0M876 527l4 3M1397 519l10 -3M213 716l10 -5M583 1090l3 2M414 492l2 -2M1729 262l9 -2M975 691l10 -4M186 906l4 2M1660 511l6 -7M448 1196l2 -2M785 607l5 1M500 498l8 -3M216 1161l2 -2M972 949l5 1M1061 526l9 -7M699 479l2 -3M547 445l6 -5M1169 85l10 -5M1293 390l5 -2M1687 1262l2 -5M969 1336l10 2M513 1046l4 -8M869 1051l3 0M393 1183l5 0M717 691l5 -10M1296 739l7 -5M334 1267l11 -1M1306 263l6 1M495 1152l2 -2M1446 990l3 -1M723 1179l4 -5M150 679l9 4M405 1312l9 1M409 814l2 -5M695 1130l4 1M591 446l3 -5M603 463l3 -1M1428 613l6 -2M124 489l6 -3M1426 1209l1 -2M483 307l3 -4M355 1290l3 -11M716 1022l1 -3M152 1189l6 6M502 1048l9 -2M388 1037l7 -8M253 1079l4 -4M344 1289l6 -7M1128 482l5 -4M197 1264l3 -1M979 1063l6 -2M344 1162l4 -2M977 1096l5 -1M622 435l2 -6M514 1154l8 6M1052 136l6 -2M114 1027l3 -4M110 740l5 -8M702 1296l3 -3M179 814l3 2M622 555l5 3M146 768l7 0M571 982l3 -3M740 656l6 -6M375 1068l2 -3M75 1035l8 -5M496 1161l8 7M580 640l5 3M156 762l11 -1M1255 416l3 -7M704 1082l4 0M827 604l4 -3M1072 452l11 1M638 365l5 0M1343 1148l3 1M150 1025l3 -5M379 578l2 -4M1651 1220l9 0M826 1146l3 -2M219 1154l10 6M303 1136l10 -4M749 1218l5 -5M236 296l5 -6M789 560l4 -9M117 611l8 -4M549 92l5 3M710 524l3 -4M865 654l1 -2M974 759l9 1M581 913l3 -5M994 568l7 6M1705 955l6 -2M1692 666l4 -8M228 1042l5 -3M272 652l3 -3M672 1226l5 -5M482 1318l2 -3M312 694l3 -2M692 435l3 3M180 905l9 -2M1051 371l6 -8M1010 621l6 -2M551 1257l4 0M685 133l3 0M1281 1202l9 1M1244 1206l4 -7M1613 774l4 3M261 1061l4 2M96 1043l3 -5M1295 892l9 5M738 1003l3 -8M469 1185l9 -6M116 1302l2 -5M70 1185l2 -8M473 515l6 6M1030 460l8 -7M1676 297l6 6M1543 1001l5 -9M258 621l4 -2M164 1302l8 6M656 554l6 -5M295 823l7 -9M788 1010l10 -1M835 688l5 2M424 1334l3 0M1372 1153l2 2M887 811l9 -5M959 947l7 -2M885 684l6 0" fill="none" stroke="#4f449c" stroke-width="8.0" stroke-linecap="round" opacity="0.85" filter="url(#b2)"/><path d="M547 628l4 -1M1138 602l2 1M114 633l6 -4M465 549l2 -2M779 853l1 -1M523 571l4 -3M107 1078l4 4M1131 1129l6 -1M460 973l2 -2M1105 718l4 -1M993 639l4 1M576 1094l1 -5M1247 1260l5 -3M490 685l6 2M889 792l4 1M665 1224l8 -2M428 612l4 3M1251 798l6 4M159 939l3 -4M746 486l2 -1M462 499l7 -2M486 1192l6 -2M161 861l5 -4M702 1207l3 -3M547 1227l5 2M458 674l3 0M409 775l3 -4M1094 553l3 -1M777 1144l5 4M920 433l5 -3M1542 958l5 0M591 119l3 3M1436 629l2 1M830 1184l4 -3M384 1326l1 -5M514 1276l3 -7M571 1175l4 2M706 663l1 -5M98 497l6 3M726 501l2 -2M793 550l2 2M727 1115l2 -5M649 1083l4 -3M1129 241l3 1M203 405l5 0M1637 716l2 1M687 543l5 0M1665 1053l3 -2M1061 577l2 -3M762 601l7 -2M1024 487l3 0M1232 1130l4 -1M377 571l2 0M465 768l3 -3M102 1190l1 -4M417 1126l8 0M310 1017l5 -2M454 726l6 5M204 1112l4 -1M457 606l7 3M1062 179l7 -1M697 646l6 0M1058 1250l4 -5M1397 926l4 3M928 911l7 2M229 770l4 -1M905 931l2 0M586 637l6 -3M530 1096l2 -3M1525 276l3 2M1106 435l6 2M536 1041l2 2M1424 665l3 -6M85 307l6 4M1715 1313l4 3M676 1073l7 3M153 495l8 -1M902 1123l7 -3M1698 392l6 -5M659 1265l3 -6M1730 1089l7 -3M410 1328l3 2M1079 600l2 1M1698 971l1 -2M154 1265l4 -6M80 520l5 4M492 1014l2 -4M549 635l5 1M197 300l1 -1M148 184l2 -4M270 867l3 2M1351 411l5 -2M1706 294l3 -6M186 1262l3 2M773 310l7 -3M1326 1151l2 -1M593 658l3 -6M432 1034l2 -2M1440 192l4 0M1560 446l4 1M279 1307l3 -1M1054 922l3 3M73 389l3 -7M101 1247l7 -1M1022 674l4 -1M343 722l4 -1M1229 482l4 0M1301 882l2 0M505 720l2 1M817 473l2 1M554 96l5 -3M364 938l2 2M431 669l4 4M608 523l3 2M138 703l6 -3M1382 705l4 -5M730 678l3 -1M555 1243l6 1M656 587l5 -1M426 636l3 -3M846 1086l5 3M451 951l5 -6M926 554l4 -2M1163 223l5 2M1266 890l4 -6M944 525l5 -6M932 429l3 -4M1473 929l6 0M1236 618l7 -1M749 1334l6 1M1073 469l4 -3M1096 597l4 -2M154 887l5 -6M973 461l1 1M1418 111l6 1M933 140l4 -3M455 1054l4 1M622 1130l5 2M179 461l1 -1M505 1254l2 0M580 1257l2 -1M347 737l5 2M1562 983l5 1M1012 690l4 -2M693 84l7 -3M1021 390l6 -5M582 1144l3 -7M1513 912l4 4M167 1226l6 6M323 932l4 -6M1671 135l2 0M440 553l4 1M442 510l4 -4M1500 720l2 -2M552 989l2 -1M1012 644l2 2M987 518l1 -2M822 472l5 0M148 177l7 2M1047 175l5 1M991 676l3 -7M400 598l1 -2M71 710l5 0M1619 1151l6 -1M198 332l2 -1M579 450l6 -3M973 693l6 -4M979 503l6 1M156 1201l5 -6M300 515l7 1M1035 608l2 2M568 601l4 2M310 1040l5 3M211 1118l2 -7M1601 304l6 -3M232 544l4 -6M645 646l2 -7M1109 1256l7 0M413 974l4 1M1319 384l6 3M616 466l5 3M383 657l1 -2M1670 459l4 2M1334 708l3 -2M804 590l4 -5M1017 611l2 0M795 461l3 -2M1067 515l5 5M1429 968l5 -4M1332 1129l5 2M1670 1113l7 -3M1038 655l2 -1M695 1203l4 -5M261 968l6 -3M1174 583l5 2M430 1155l4 0M1319 240l4 0M568 91l2 1M1115 574l6 -4M146 109l7 -2" fill="none" stroke="#352c7e" stroke-width="7.0" stroke-linecap="round" opacity="0.85" filter="url(#b2)"/></g>
<rect x="115.50" y="1386.50" width="335.70" height="251.30" fill="url(#vig)"/>
<g transform="translate(100.00 1370.00) scale(0.20088)" ><path d="M1500 1298 H1735" fill="none" stroke="#3a2a36" stroke-width="7.0" stroke-linecap="butt" stroke-linejoin="round" opacity="0.90"/></g>
</g>
<clipPath id="c8"><rect x="456.00" y="1386.50" width="336.00" height="251.30"/></clipPath>
<g clip-path="url(#c8)">
<rect x="456.00" y="1386.50" width="336.00" height="251.30" fill="#dfb4d2"/>
<g transform="rotate(60.0 624.0 1512.2)"><rect x="321.6" y="1209.8" width="604.8" height="604.8" filter="url(#fib)" opacity="0.38"/></g>
<g transform="rotate(0.0 624.0 1512.2)"><rect x="321.6" y="1209.8" width="604.8" height="604.8" filter="url(#tis)" opacity="0.30"/></g>
<g transform="translate(445.00 1370.00) scale(0.20088)" ><ellipse cx="1330" cy="700" rx="150" ry="640" fill="#a79cce" opacity="0.55" filter="url(#b40)" transform="rotate(-8 1330 700)"/><ellipse cx="760" cy="400" rx="170" ry="180" fill="#a79cce" opacity="0.55" filter="url(#b40)" transform="rotate(30 760 400)"/><ellipse cx="400" cy="1150" rx="360" ry="130" fill="#a79cce" opacity="0.55" filter="url(#b40)" transform="rotate(15 400 1150)"/><ellipse cx="1000" cy="1150" rx="300" ry="110" fill="#a79cce" opacity="0.55" filter="url(#b40)" transform="rotate(-10 1000 1150)"/><ellipse cx="1650" cy="900" rx="70" ry="300" fill="#a79cce" opacity="0.55" filter="url(#b40)" transform="rotate(0 1650 900)"/><ellipse cx="350" cy="420" rx="60" ry="200" fill="#a79cce" opacity="0.55" filter="url(#b40)" transform="rotate(-25 350 420)"/><ellipse cx="1632" cy="380" rx="105" ry="125" fill="#dcc0dc" filter="url(#b6)"/><ellipse cx="1632" cy="380" rx="80" ry="112" fill="#ececec" filter="url(#b2)"/><path d="M100.0 1100.0 C105.0 1108.3 125.8 1123.3 130.0 1150.0 C134.2 1176.7 130.8 1229.2 125.0 1260.0 C119.2 1290.8 102.5 1322.5 95.0 1335.0 C87.5 1347.5 79.2 1350.8 80.0 1335.0 C80.8 1319.2 96.7 1255.8 100.0 1240.0 Z" fill="#f1f1f0" filter="url(#b2)"/><path d="M1690.0 190.0 L1730.0 230.0 L1730.0 290.0 L1700.0 250.0 Z" fill="#f1f1f0" filter="url(#b6)"/><path d="M341 213l-6 9M1413 1088l7 5M1286 1156l8 1M1185 717l2 3M557 1225l-5 9M778 283l-1 3M651 1021l3 11M1343 855l3 3M609 91l9 3M663 445l-4 5M401 154l8 3M470 1337l4 9M741 1324l6 3M1005 1328l-4 7M1386 1018l4 1M1135 1106l1 9M265 1300l4 0M245 1100l-4 7M1535 334l8 7M1357 674l3 0M1347 738l-4 10M1380 472l5 10M1499 1058l-2 4M560 1133l-1 4M1527 302l2 5M965 1219l5 0M1482 529l-6 6M1193 848l-4 6M1379 852l9 2M662 914l4 0M1417 303l5 6M642 862l7 9M557 109l-6 8M1403 1097l8 2M1334 1300l1 9M1309 858l9 7M1239 470l6 5M727 1110l2 2M1103 276l-8 9M1200 769l6 4M316 201l3 2M153 1330l-5 8M1285 905l-4 8M983 713l-3 6M1506 493l2 2M1531 103l4 1M1243 1240l7 8M1459 819l2 11M482 1161l9 7M1162 960l4 11M472 333l-3 11M1227 227l-3 7M51 1143l0 3M1288 123l6 2M1324 1167l0 10M1240 631l11 0M535 1232l-1 3M407 1255l-4 6M1475 223l6 5M1166 1222l-2 4M1263 114l4 2M1240 921l4 1M1466 1035l4 1M452 803l1 6M409 113l-3 9M1635 706l7 6M713 255l3 5M804 251l-2 9M757 224l3 11M863 1306l8 3M283 133l5 4M581 879l6 6M382 673l-4 7M1527 181l-2 8M969 411l5 9M1217 1289l5 4M1477 170l6 1M1664 1111l-6 9M1737 93l6 4M1178 874l3 9M158 629l10 2M168 1283l-2 7M768 463l-1 7M377 1286l-1 11M813 499l4 3M584 343l5 3M1397 493l3 1M1731 121l-1 2M1157 780l10 6M714 384l-1 5M200 1076l2 0M992 1308l6 6M781 1000l6 1M1330 1193l0 11M719 1231l-6 9M531 502l-4 7M1186 379l5 10M1477 236l9 -1M1340 671l3 2M658 414l2 8M1379 1213l0 5M1520 464l-3 9M1020 425l7 0M1269 884l-1 3M1087 299l9 4M1246 1233l0 4M700 340l3 5M168 1151l-5 9M1276 1118l6 8M1601 215l6 2M1131 420l5 6M1421 278l-7 9M1219 571l1 8M369 1194l5 0M186 660l2 5M1447 1048l-3 8M506 1228l5 6M630 972l-8 9M328 1043l4 0M1281 666l4 1M809 493l0 10M1411 690l9 2M1315 1216l3 6M317 720l3 3M142 1201l-1 3M883 403l-1 4M137 1000l4 4M1345 985l3 5M1389 209l8 2M918 1052l0 10M1307 1313l4 6M1708 1244l6 2M1408 1075l-6 9M1291 982l2 1M626 402l8 0M772 414l1 3M1504 428l6 1M1365 737l-2 3M1488 728l4 4M1147 1163l7 5M1219 1224l3 9M615 490l7 8M636 357l2 12M1385 1023l10 6M841 284l4 4M1491 246l7 5M1432 898l-3 4M269 117l2 4M1392 275l-5 8M394 295l-2 10M205 252l-2 2M1023 1184l0 6M1133 670l-4 6M1156 152l-6 6M1387 1136l-1 9M990 1071l4 6M988 1146l2 7M1189 810l9 6M673 1185l4 2M1306 642l9 2M1167 1095l2 3M817 441l7 9M1379 688l5 3M1285 322l7 10M882 1099l-1 2M1256 470l-4 11M155 617l7 2M1364 237l-5 11M1328 344l1 5M1387 497l-3 5M278 1107l11 2M1271 325l5 0M1311 885l-1 2M1287 932l3 5M1116 1077l-1 4M1452 752l8 2M403 372l7 7M462 416l2 9M366 1114l3 1M1379 184l5 2M218 1101l-5 7M1030 1301l11 4M1212 875l5 0M1405 421l2 4M1334 281l-2 9M1531 747l9 2M1199 641l6 3M1513 1333l5 5M1369 715l-7 9M755 573l0 10M641 1300l5 5M1415 888l2 5M252 111l9 8M564 446l8 0M434 1184l-1 6M1234 705l10 0M911 1148l-5 9M444 1060l1 10M1269 446l10 4M1049 1064l6 9M1380 930l-1 6M859 1037l-3 4M905 1272l10 2M781 385l2 2M1469 452l-3 4M549 797l3 7M780 1013l2 10M307 1069l2 8M726 310l2 5M1691 757l2 4M1478 1061l9 2M900 473l7 2M1008 1257l1 3M579 1268l-1 12M946 841l10 1M182 279l-1 4M1057 1310l-3 3M651 260l6 8M1156 361l6 1M978 81l0 5M124 1101l0 3M408 1113l2 5M1302 1117l5 3M137 1058l6 3M786 507l-3 7M688 872l5 3M865 1167l5 6M1357 482l2 2M369 1118l5 3M1544 157l11 2M1475 357l-1 4M1416 384l3 7M1490 254l-5 6M1035 1059l7 1M1349 1190l7 9M1290 857l3 6M898 702l-2 6M264 813l-4 7M498 1260l9 0M1165 1281l7 3M813 1090l8 1M1489 546l11 3M1619 727l-1 7M1431 672l1 6M1334 991l0 3M562 1255l-1 10M1306 1082l1 4M525 1100l1 3M1413 888l-4 8M1231 564l-1 4M1382 816l3 4M909 1194l6 7M667 1055l7 4M1366 321l-1 9M643 530l1 10M135 1058l7 6M1382 885l3 8M1600 875l2 3M1484 1122l-1 9M506 1120l7 6M1411 1271l-1 11M1354 737l-3 5M315 500l-2 3M50 1286l1 6M623 1245l8 7M1352 1172l6 9M831 537l0 7M177 1327l1 5M1368 219l0 3M729 975l6 7M1491 735l2 3M1561 630l2 6M54 461l3 4M593 316l-4 10M1055 226l1 3M700 1061l-5 5M228 1019l4 8M1005 1043l1 6M1627 1141l-5 10M1547 161l-3 6M1307 1110l-4 7M1572 87l-5 7M1466 164l5 3M1171 953l0 6M1456 848l6 7M1143 362l0 3M931 1062l12 0M1436 979l-2 7M1288 145l3 9M553 792l6 9M1205 715l3 8M1227 1293l9 4M289 620l5 2M1070 1200l-3 4M1005 1233l-2 2M1486 1311l-2 6M1258 1094l11 0M948 1116l3 7M1017 1010l-1 2M896 1230l-3 9M1481 153l3 4M1528 426l-2 10M287 842l-1 2M742 1188l7 5M411 1296l3 6M993 96l7 5M1266 185l-4 10M1411 438l1 9M346 598l2 5M1143 1024l-4 7M1132 1311l3 5M1061 1323l4 3M1384 295l8 4M463 1180l6 5M1450 396l2 12M332 677l10 4M1382 464l-1 3M1637 1195l5 3M206 1014l5 5M1174 1172l7 8M1368 836l6 0M1442 1072l4 10M1034 1041l9 1M259 540l-6 9M667 437l7 6M469 1247l5 1M612 1089l1 3M821 1056l1 3M1239 561l2 4M1431 834l3 0M1379 640l-1 3M686 340l6 7M196 651l3 10M1328 862l-4 4M1415 740l2 2M1207 791l-7 10M811 454l-1 8M1325 1292l3 1M299 1204l6 5M1602 671l4 1M1298 821l0 6M764 260l-3 6M887 273l8 6M1412 1001l2 1M51 164l4 8M1353 1174l3 7M886 201l-2 8M454 1045l-2 6M762 377l2 7M382 1248l3 2M261 1177l5 9M1515 330l3 1M1556 1178l0 3M247 1257l10 1M1504 843l-3 4M1149 965l2 6M1486 125l6 5M60 116l9 0M936 253l1 3M903 1104l11 2M1430 1139l-2 2M1329 667l0 10M370 1115l-4 6M984 1149l-2 7M1222 634l6 3M300 307l2 3M100 379l1 7M1451 144l4 6M757 1269l-1 3M364 926l-1 5M1308 471l1 2M757 923l-3 3M1241 935l3 2M464 1014l2 2M1478 720l-1 3M1167 875l-2 8M1363 1163l3 2M845 1063l11 2M1270 360l3 10M239 1053l1 7M485 337l-6 8M495 1227l6 5M1563 116l6 5M1487 755l3 3M1569 947l5 9M796 505l-3 3M1154 1049l6 2M1561 220l-5 5M1430 834l5 10M880 501l1 11M1581 693l6 7M1489 332l-3 9M1582 646l-2 6M167 1095l-7 9M953 1012l1 5M823 1123l0 6M358 217l-3 10M1209 1235l4 10M1380 98l5 6M1193 935l3 1M122 1012l-6 10M286 1336l5 3M479 1018l3 0M93 506l-1 4M544 1054l10 4M209 534l0 11M1174 924l0 6M692 974l-2 4M1195 859l2 2M877 569l6 0M742 1014l5 2M1181 232l-1 7M1412 211l1 2M1392 740l-3 3M1030 1177l6 8M1434 175l8 9M1141 142l-2 4M212 306l-1 3M557 1201l1 3M1417 870l3 3M1052 459l4 2M1306 1167l6 1M642 351l1 6M575 1239l0 7M1480 218l1 6M1300 419l1 10M369 1043l7 2M1302 331l-3 7M661 1187l11 2M1303 407l7 9M1369 311l-2 4M596 311l10 3M1331 1298l-4 11M391 508l0 7M1354 612l1 4M803 528l-3 4M332 1119l1 2M482 158l-3 4M1157 110l0 6M1318 834l0 10M1214 518l2 4M630 308l6 0M795 689l3 11M417 652l5 10M1000 551l-6 9M882 1330l1 4M1533 295l-1 9M1635 1036l5 3M1519 273l11 4M662 267l2 3M1421 764l2 2M1369 1043l6 1M1481 800l1 9M1513 1239l6 7M616 330l2 2M1105 594l3 6M1414 981l11 2M1682 117l3 3M587 183l8 0M1320 1329l1 7M905 1128l0 8M637 221l5 2M983 411l-1 9M1476 380l-1 5M901 348l5 5M1261 824l-1 6M1606 1328l6 5M1070 1230l6 11M650 279l6 1M586 419l-4 4M1177 712l4 4M763 348l3 6M1457 913l-1 9M1166 770l8 1M223 1068l6 10M1367 460l-4 10M1714 617l8 0M1367 932l4 9M1332 493l1 8M1589 219l1 7M1506 363l4 5M1225 809l8 5M859 605l7 3M1584 91l-4 10M391 1169l2 7M1112 1149l4 3M290 1180l7 6M1410 1268l5 1M961 956l3 6M1395 1035l4 6M1171 978l3 0M544 1215l-2 2M728 469l-1 4M543 673l-3 5M976 1247l3 3M1339 569l6 0M1302 548l1 11M1499 245l-2 2M718 741l1 8M1429 897l0 4M1232 240l3 0M1304 508l3 3M591 331l10 1M1078 393l6 9M713 809l8 8M1574 235l-2 4M638 533l10 3M1292 657l1 10M389 404l9 8M61 1096l4 1M1284 1025l5 3M823 151l4 5M846 438l4 4M1266 593l0 4M308 1016l8 2M1188 1242l5 3M151 1096l-6 7M329 1175l5 3M1324 334l3 0M1210 1076l7 8M1402 153l2 3M626 415l4 5M826 1217l5 5M1577 134l8 4M1472 169l0 3M216 1186l1 4M761 1208l5 3M1402 899l6 2M635 1229l-5 8M1218 358l-3 6M922 780l0 7M1246 766l-2 3M296 782l-6 7M626 1170l0 8M1079 644l3 5M76 1130l4 2M1523 419l2 4M129 434l1 4M889 1301l0 4M791 1091l6 3M461 1026l8 0M931 321l-2 8M182 867l3 4M1400 160l2 1M1280 816l-6 7M1335 661l-8 8M1414 375l-3 4M1083 1067l4 10M825 552l-2 5M588 1229l-2 3M705 445l-1 3M1287 458l9 2M969 587l3 3M222 1236l0 8M755 915l4 7M1331 1096l-3 4M1437 257l5 2M294 1266l8 9M560 957l10 1M289 1000l-1 4M583 1008l2 4M809 1187l0 9M1160 809l2 4M1384 525l-2 6M1414 930l4 2M1106 1118l11 3M192 953l-3 6M639 644l-2 5M1358 543l-5 7M1100 1209l4 10M910 1161l4 4M809 335l9 4M77 771l10 -1M766 359l8 9M508 831l-1 6M1535 826l0 3M698 517l9 5M1015 751l-1 3M1190 1168l9 4M1280 1132l8 9M625 418l7 3M1278 1246l-3 5M1257 345l1 7M353 1126l-5 8M1469 741l4 9M173 384l1 10M1378 372l6 4M1397 137l-5 7M313 275l6 1M929 934l-4 10M1456 154l1 4M664 732l10 1M292 1079l-6 10M1374 109l7 5M240 1020l-4 5M1461 424l2 2M630 1156l-1 2M862 1059l-4 11M879 494l0 6M950 1196l4 7M464 1180l-5 9M770 462l7 6M1201 648l-6 10M163 285l11 0M1246 777l4 1M55 1311l8 6M1407 1159l-1 11M493 1213l4 1M754 590l-2 9M1346 148l1 6M1543 241l9 3M1370 567l-2 5M821 1104l8 0M131 1058l3 6M1167 910l-1 3M1238 270l3 0M1255 95l-2 5M246 973l-2 6M1284 755l-4 5M1573 252l-1 2M883 429l6 1M1232 1236l-3 6M639 413l6 5M1394 1291l11 4M751 360l10 1M1280 1204l1 7M1469 643l-4 11M1464 407l8 7M744 804l0 5M1528 986l11 0M219 720l-4 8M558 223l5 3M1324 1018l1 10M1338 1320l-5 11M1365 1318l3 0M1017 324l2 6M1090 869l10 2M1330 642l1 2M1055 1325l2 2M1038 1022l-1 11M1430 1058l1 11M138 165l7 0M1035 1162l3 1M1609 1307l6 4M1584 1236l4 7M1367 521l1 4M678 1323l4 11M1306 313l2 2M1554 130l-2 3M369 1031l2 5M658 543l0 5M1021 1228l-4 6M1032 1173l-2 3M1342 360l-3 9M227 1257l-2 3M799 1157l-2 7M1403 592l10 0M880 1189l3 2M688 1258l1 2M1221 1112l-4 7M1210 591l-1 5M84 1105l0 2M564 127l2 7M711 1296l10 4M1469 546l0 11M857 1027l8 1M494 373l3 7M1413 121l10 4M895 565l-6 6M1539 1199l1 11M1263 489l5 1M824 744l-4 6M1159 1053l9 6M152 1286l0 12M1384 171l-1 7M990 557l9 6M719 111l10 3M107 835l0 7M1255 400l7 8M1088 1051l8 2M839 1292l-2 5M937 811l-3 10M1546 237l0 10M1222 1056l4 1M1290 1196l5 4M887 1266l-8 8M770 203l-1 3M1224 411l-5 7M1494 797l-1 2M1354 169l1 4M93 306l2 5M1435 879l5 3M929 1202l0 6M329 1244l-5 9M1101 1339l9 3M121 1150l2 8M128 1024l-2 3M1273 791l1 3M874 207l-2 3M1354 1324l-1 11M1470 600l-2 4M1452 328l-5 8M1007 294l2 10M1251 864l2 6M1736 497l3 2M1273 1339l5 6M1339 941l1 3M1265 104l-1 8M285 973l-1 6M840 706l5 5M572 922l-4 9M247 350l5 0M127 913l-3 5M1424 777l-4 6M672 429l5 6M329 1172l6 6M1149 1175l7 7M1428 623l6 4M1637 1035l2 2M852 1076l0 3M1105 871l-5 8M472 537l10 4M1412 1161l2 0M935 1020l1 7M118 565l-2 4M879 517l6 1M381 1162l3 2M1094 1079l-2 4M235 1144l-5 10M1451 724l7 3M952 1003l-2 5M765 504l8 6M1414 398l4 6M1325 488l4 3M784 1168l2 3M1604 711l4 8M706 1316l8 0M1231 774l11 5M813 648l-2 6M1083 1109l5 3M1408 986l1 12M159 1280l2 4M1448 104l4 1M1519 1096l11 3M571 1190l-4 6M1438 962l-3 9M1255 1126l2 6M1736 839l4 2M215 1016l2 6M655 160l2 7M1241 735l1 10M769 441l1 8M1328 729l-2 8M1387 747l3 6M1509 323l-6 9M432 1056l6 2M745 108l4 4M895 423l7 10M477 1132l7 5M1214 752l2 7M1535 201l3 1M591 1119l11 4M1125 1151l2 4M916 121l-4 4M550 1003l7 6M280 1295l5 1M1510 98l8 4M343 332l-5 7M1535 1301l5 3M1204 808l4 5M1202 1164l3 5M150 477l3 8M759 1085l1 11M891 393l0 6M722 1147l-5 7M271 1125l4 11M1141 1310l12 0M1294 971l-3 6M1692 776l2 7M549 647l5 4M906 1338l2 2M1151 960l8 6M1303 1044l3 11M1341 284l3 7M1169 258l6 2M718 544l1 2M1643 825l11 3M731 901l-1 3M1065 1025l1 5M150 1220l5 2M1221 965l4 8M1329 1049l11 3M332 1205l-1 2M842 1031l10 3M1281 994l7 8M828 269l10 0M1063 1027l0 7M376 250l-4 6M224 921l7 6M314 1065l-1 3" fill="none" stroke="#6a60b4" stroke-width="10.0" stroke-linecap="round" opacity="0.85" filter="url(#b2)"/><path d="M227 822l3 2M298 1131l-4 6M1313 679l3 4M1048 1200l-1 6M728 1019l6 4M985 1023l1 4M1226 343l7 1M1314 174l7 0M976 1030l-1 2M860 140l3 3M769 501l7 4M622 1204l1 5M1321 1116l0 2M140 879l3 2M131 1193l3 0M796 190l2 1M1442 136l3 6M140 1196l4 3M709 493l-5 6M629 666l1 3M221 1333l0 3M401 1041l-1 3M184 1056l6 0M1533 223l-1 2M1502 249l0 2M1409 785l7 4M1429 790l5 1M806 370l-3 4M1321 368l6 0M1209 676l-1 7M475 349l0 3M602 1065l-2 7M1367 469l0 6M1192 603l2 1M831 429l3 0M149 693l1 2M313 1016l0 4M443 1278l7 3M654 290l3 6M555 530l-5 6M462 569l1 6M946 138l7 4M941 361l0 4M294 1299l0 4M1292 1170l-4 4M1416 380l1 2M847 1310l-1 6M1173 766l2 1M511 151l1 7M124 302l0 3M303 1310l-4 5M451 528l7 1M1254 409l5 4M1504 615l-2 6M719 583l1 2M1523 427l-1 2M448 1289l5 0M1189 784l1 2M1280 1085l-1 7M1323 1304l6 1M1393 860l5 5M1336 450l0 5M852 504l1 3M1445 405l5 3M1388 832l0 3M549 299l0 2M1225 1143l1 5M668 419l3 3M430 1012l-1 1M1218 877l-2 7M1003 657l0 4M738 452l-1 3M1028 433l0 4M1271 115l-1 1M1137 573l2 7M1475 553l2 1M1520 210l4 3M1352 1259l6 1M1313 766l5 5M1413 900l2 2M1726 869l-1 2M731 1323l3 7M1254 915l3 6M425 1137l-1 3M766 237l1 7M1439 194l1 6M1147 826l5 4M1393 1142l3 0M1524 255l1 1M728 162l2 0M670 388l5 0M609 464l-3 4M1374 861l6 1M956 878l-2 6M861 864l0 4M307 1055l1 3M1119 1132l6 1M1293 465l6 4M1446 1238l-2 6M419 1319l6 2M1478 569l-1 2M1461 617l2 1M1231 246l0 2M1324 442l3 1M1435 599l4 1M627 522l1 2M1327 527l2 3M359 405l0 5M743 239l-2 2M143 1001l1 5M714 1123l-1 6M1015 1054l5 3M803 1222l4 1M1253 631l1 1M220 1159l7 2M1144 825l4 7M1002 1185l3 1M1313 1109l3 0M1439 667l6 0M240 458l7 3M1450 645l3 4M398 1070l2 1M1376 395l0 2M247 1022l7 1M864 355l-3 3M1235 170l3 7M1348 735l2 2M855 403l1 8M621 953l3 3M985 112l2 6M810 1021l-1 3M951 1065l-3 5M1284 1254l-2 3M1246 586l1 2M609 1104l2 0M1166 661l-1 5M1418 371l7 3M398 1032l1 1M1208 819l2 2M1403 506l-2 4M358 113l-3 6M57 952l-2 6M1012 174l-2 2M367 1207l0 2M831 114l1 3M286 1016l2 1M756 232l5 1M1244 734l6 4M1265 428l0 7M616 611l-3 4M1586 257l1 4M578 419l2 0M1201 893l4 1M836 1299l1 5M486 1055l2 3M347 1178l3 4M642 1110l5 2M1241 759l3 7M571 1015l7 0M622 950l3 2M1044 742l4 3M1135 1003l-2 2M783 532l1 1M1216 761l5 0M1363 901l0 6M222 491l4 0M1012 109l-1 6M823 1150l1 2M549 720l5 0M921 506l6 4M1443 586l8 0M473 1327l3 0M262 817l5 2M498 463l2 2M1476 822l1 7M1034 335l-5 5M445 1322l2 1M814 601l0 8M1182 442l2 3M849 1138l-3 4M266 1233l-2 6M1471 128l0 3M910 1315l3 5M1257 619l3 1M1461 661l-4 6M1407 250l1 4M1019 807l2 0M1149 686l7 0M1361 1206l4 5M1340 423l7 0M297 481l-1 4M612 426l1 4M355 1185l1 1M439 1125l-4 5M538 1257l2 0M1223 282l3 3M1088 1015l3 2M1202 470l-4 6M124 718l-1 6M1416 616l4 6M1013 313l2 7M91 374l5 4M491 875l5 0M1577 786l3 4M1425 1184l2 0M1126 998l3 0M714 452l0 4M1349 183l-1 2M1172 952l-3 6M1442 433l2 1M1449 827l5 1M1645 921l-3 7M730 686l-1 2M1023 441l2 2M916 595l-4 5M1380 617l5 5M233 1334l0 4M1220 486l3 2M1212 1041l0 2M97 1136l2 7M751 433l-3 4M454 367l0 5M1412 804l3 6M1662 1221l1 7M1694 658l3 0M1195 574l0 4M1258 536l1 2M1482 389l-1 2M691 444l-2 6M533 1223l-3 5M1516 340l3 4M813 379l-1 5M1517 334l-2 7M146 1026l2 1M1321 1293l3 0M1262 652l-2 4M865 471l7 1M1265 158l-3 5M1315 446l0 3M247 1275l6 1M877 218l3 2M1243 195l-3 3M808 732l2 0M1378 1171l-1 2M775 312l-2 4M890 1174l-3 4M598 1005l1 4M1338 638l0 3M1319 171l-2 2M759 204l-2 3M1242 1303l0 2M1483 316l7 0M1038 1325l6 3M750 673l0 3M174 742l4 6M1311 1238l7 2M640 369l-2 3M946 231l1 5M1148 526l4 3M645 1139l4 2M1449 482l-1 6M951 1037l3 5M1500 429l-4 4M686 740l3 7M1289 609l-4 4M1173 1259l-3 6M1430 447l-3 4M446 964l-3 4M867 1206l1 5M675 958l2 1M200 1090l0 2M1293 327l-2 6M1691 940l4 1M878 780l3 0M762 450l3 7M975 1187l5 0M390 408l3 2M612 1163l4 5M1331 604l4 0M949 1073l6 4M592 1336l0 2M844 1298l-3 4M1265 907l-3 7M1317 1085l-1 7M453 833l6 4M1443 842l-2 3M775 369l1 7M251 1283l0 2M1368 403l4 5M275 630l1 5M1317 247l3 1M1245 1234l7 1M728 249l-4 7M831 547l-1 1M700 458l1 4M1268 839l2 1M746 1017l-3 5M1340 1052l7 -1M608 1168l-2 2M1361 1024l3 2" fill="none" stroke="#463e94" stroke-width="8.0" stroke-linecap="round" opacity="0.85" filter="url(#b2)"/></g>
<rect x="456.00" y="1386.50" width="336.00" height="251.30" fill="url(#vig)"/>
<g transform="translate(445.00 1370.00) scale(0.20088)" ><path d="M1480 1298 H1712" fill="none" stroke="#3a2a36" stroke-width="7.0" stroke-linecap="butt" stroke-linejoin="round" opacity="0.90"/></g>
</g>
</svg>
</body></html>
